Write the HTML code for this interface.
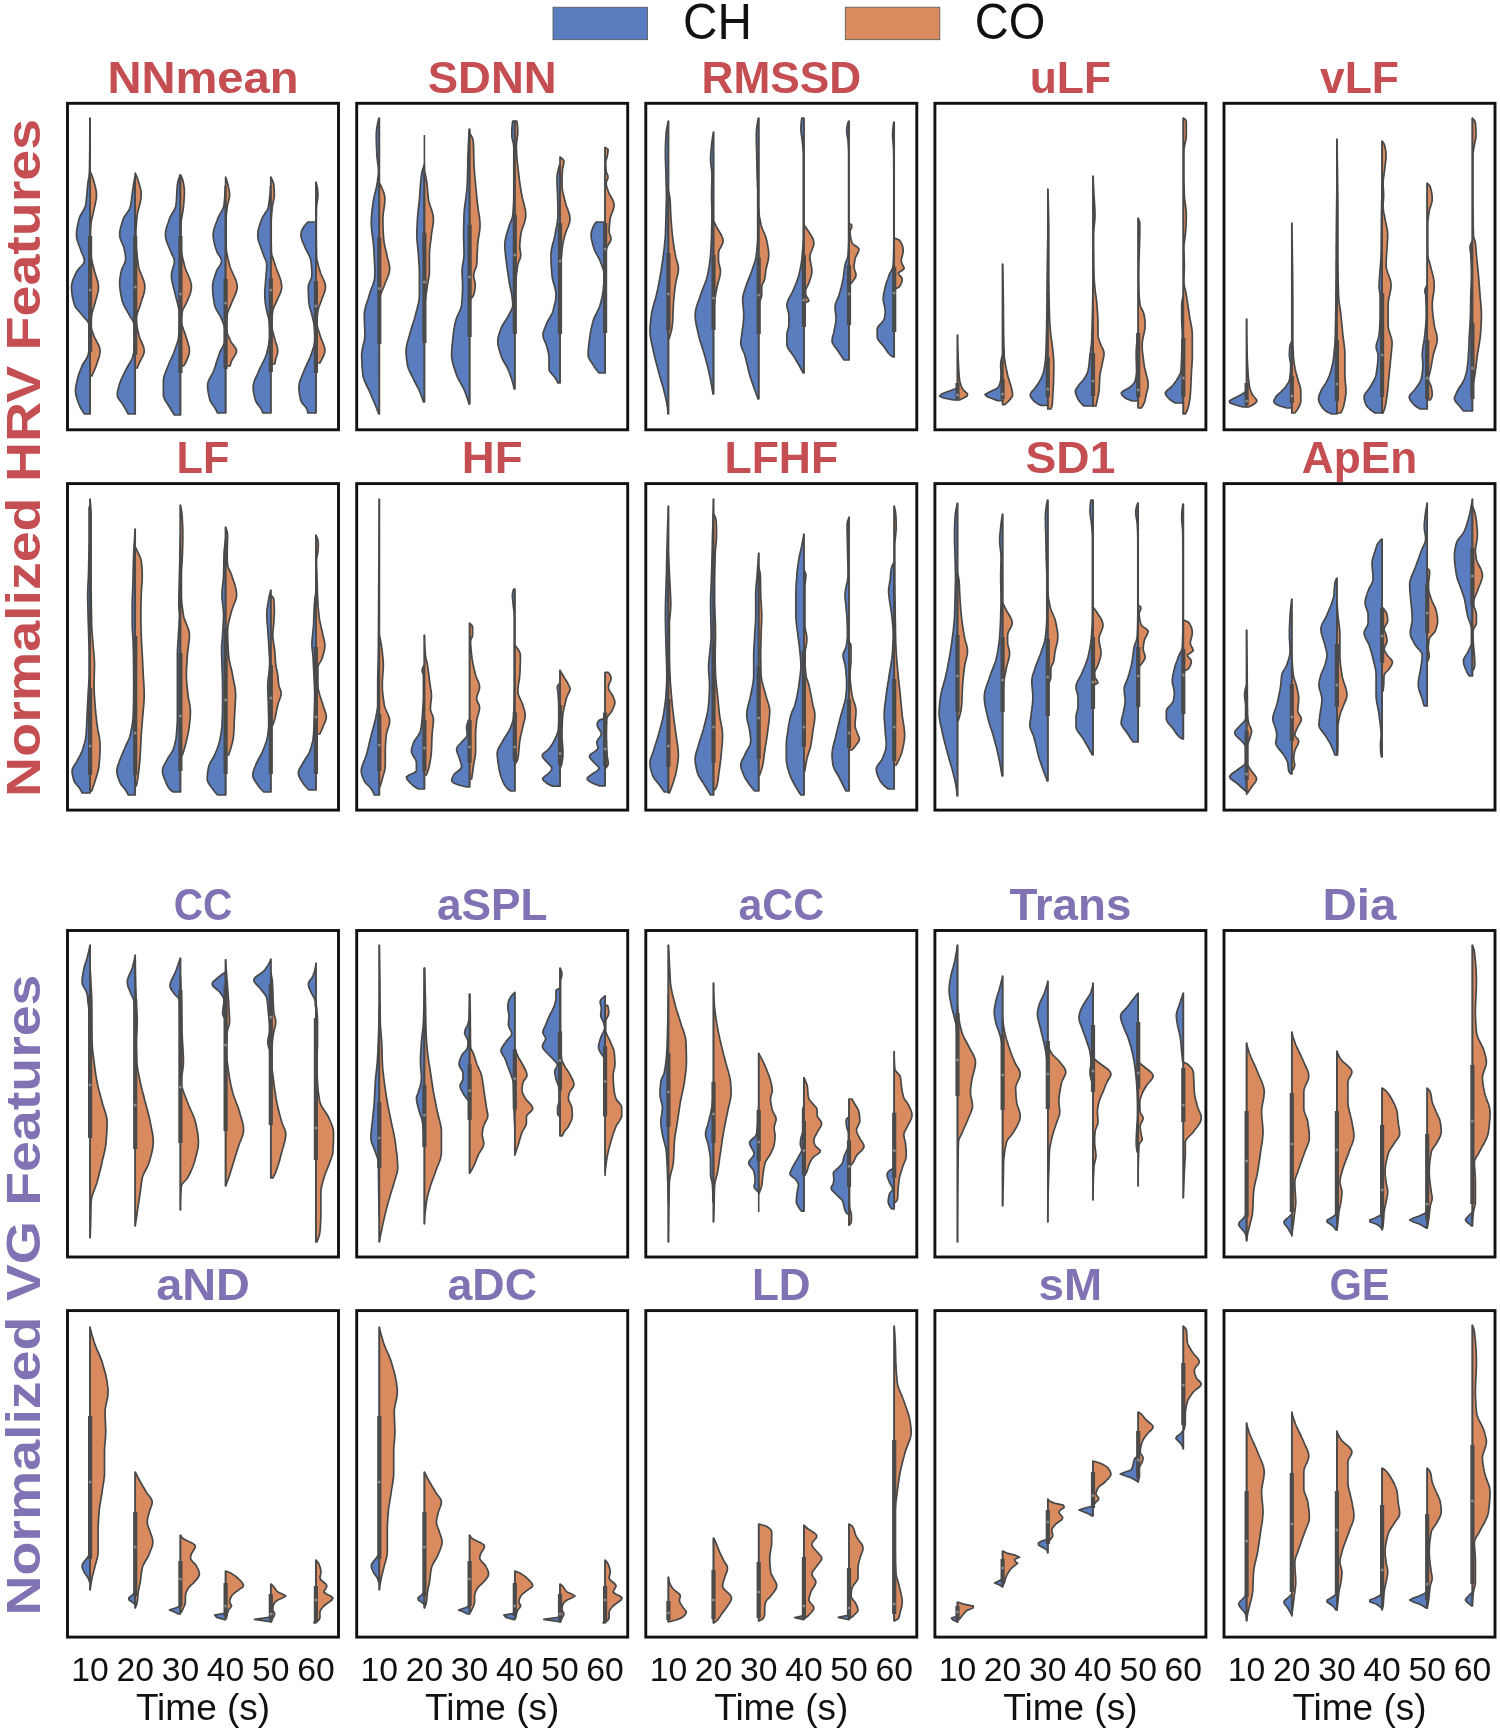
<!DOCTYPE html>
<html><head><meta charset="utf-8"><title>Violin plots</title>
<style>html,body{margin:0;padding:0;background:#fff;}svg{display:block;filter:blur(0.45px);}
text{font-family:"Liberation Sans",sans-serif;}
path{stroke:#474747;stroke-width:1.7;stroke-linejoin:round;}</style></head>
<body>
<svg width="1500" height="1728" viewBox="0 0 1500 1728">
<rect width="1500" height="1728" fill="#fff"/>
<rect x="553" y="7.2" width="94.5" height="32.5" fill="#597dbf" stroke="#555" stroke-width="0.8"/>
<rect x="845.3" y="7.2" width="94.5" height="32.5" fill="#d98b5f" stroke="#555" stroke-width="0.8"/>
<text x="683" y="38.8" font-size="49.3" textLength="68.9" lengthAdjust="spacingAndGlyphs" fill="#111">CH</text>
<text x="974.8" y="38.8" font-size="49.3" textLength="70.6" lengthAdjust="spacingAndGlyphs" fill="#111">CO</text>
<text x="203" y="92.8" font-size="44.3" font-weight="bold" text-anchor="middle" textLength="191.2" lengthAdjust="spacingAndGlyphs" fill="#c44e52">NNmean</text>
<path d="M90.1,118L89.9,118 89.9,120 89.9,122 89.9,124 89.9,126 89.9,128 89.9,130 89.9,132 89.9,134 89.8,136 89.8,138 89.8,140 89.8,142 89.8,144 89.8,146 89.8,148 89.8,150 89.7,152 89.7,154 89.7,156 89.7,158 89.6,160 89.6,162 89.6,164 89.6,166 89.5,168 89.5,170 89.4,172 89.3,174 89.1,176 88.8,178 88.4,180 88.1,182 87.8,184 87.6,186 87.4,188 87.2,190 87.1,192 86.9,194 86.7,196 86.6,198 86.4,200 86.1,202 85.8,204 85.5,206 84.7,208 83.7,210 82.5,212 81.3,214 80.2,216 79.4,218 78.8,220 78.4,222 77.9,224 77.5,226 77.1,228 76.8,230 76.6,232 76.5,234 76.5,236 76.8,238 77.2,240 77.8,242 78.5,244 79.3,246 80,248 80.8,250 81.4,252 82.3,254 83.2,256 83.9,258 84.4,260 84.3,262 83.2,264 81.4,266 79.4,268 77.7,270 76.6,272 75.6,274 74.6,276 73.7,278 72.9,280 72.3,282 71.8,284 71.5,286 71.5,288 71.6,290 71.8,292 72,294 72.3,296 72.7,298 73.2,300 73.7,302 74.2,304 74.9,306 76.1,308 77.7,310 79.6,312 81.3,314 82.9,316 84.6,318 86.4,320 88,322 88.9,324 89.1,326 89.2,328 89.3,330 89.3,332 89.4,334 89.4,336 89.4,338 89.5,340 89.5,342 89.5,344 89.5,346 89.3,348 89.1,350 88.7,352 88.3,354 87.8,356 86.8,358 85.6,360 84.2,362 83,364 82,366 81.2,368 80.4,370 79.6,372 78.9,374 78.3,376 77.7,378 77.3,380 76.8,382 76.3,384 76,386 75.7,388 75.5,390 75.5,392 75.8,394 76.2,396 76.8,398 77.4,400 78.1,402 78.9,404 79.7,406 80.7,408 81.9,410 83.1,412 84.5,414L90.1,414Z" fill="#597dbf"/>
<path d="M90.1,171L90.1,171 90.9,173 91.7,175 92.5,177 93.1,179 93.7,181 94.3,183.1 94.8,185.1 95.4,187.1 95.8,189.1 96.2,191.1 96.4,193.1 96.5,195.1 96.4,197.1 96.2,199.1 95.8,201.1 95.4,203.2 95,205.2 94.5,207.2 94.1,209.2 93.6,211.2 93.2,213.2 92.7,215.2 92.2,217.2 91.7,219.2 91.3,221.2 91.1,223.3 90.9,225.3 90.8,227.3 90.6,229.3 90.6,231.3 90.5,233.3 90.5,235.3 90.5,237.3 90.5,239.3 90.6,241.3 90.6,243.4 90.7,245.4 90.7,247.4 90.8,249.4 90.9,251.4 91,253.4 91.1,255.4 91.3,257.4 91.6,259.4 92.1,261.4 92.5,263.5 93.1,265.5 93.6,267.5 94.1,269.5 94.6,271.5 95.2,273.5 95.8,275.5 96.5,277.5 97.1,279.5 97.7,281.5 98.1,283.5 98.4,285.6 98.5,287.6 98.3,289.6 98,291.6 97.6,293.6 97.1,295.6 96.6,297.6 96,299.6 95.4,301.6 94.9,303.6 94.3,305.7 93.7,307.7 93,309.7 92.4,311.7 91.9,313.7 91.6,315.7 91.3,317.7 91,319.7 90.8,321.7 90.7,323.7 90.7,325.8 91.1,327.8 91.7,329.8 92.5,331.8 93.2,333.8 94,335.8 94.9,337.8 95.9,339.8 96.9,341.8 98,343.8 98.9,345.9 99.6,347.9 100,349.9 100.1,351.9 99.8,353.9 99.4,355.9 98.8,357.9 98.1,359.9 97.4,361.9 96.8,363.9 96.1,366 95.3,368 94.5,370 93.6,372 92.7,374 91.7,376L90.1,376Z" fill="#d98b5f"/>
<line x1="90.1" y1="118" x2="90.1" y2="414" stroke="#4a4a4a" stroke-width="1.6"/>
<line x1="90.1" y1="236" x2="90.1" y2="352" stroke="#4a4a4a" stroke-width="4.2"/>
<circle cx="90.1" cy="290" r="1.5" fill="#8a8a8a"/>
<path d="M135.2,177L134.8,177 134.5,179 134.2,181 133.8,183 133.5,185 133.2,187 132.8,189.1 132.6,191.1 132.3,193.1 132.1,195.1 131.8,197.1 131.6,199.1 131.3,201.1 131,203.1 130.7,205.1 130.2,207.1 129.4,209.1 128.2,211.1 126.8,213.2 125.3,215.2 124.1,217.2 123.2,219.2 122.5,221.2 121.9,223.2 121.3,225.2 120.7,227.2 120.3,229.2 119.9,231.2 119.7,233.2 119.7,235.2 119.9,237.3 120.5,239.3 121.3,241.3 122.2,243.3 123.1,245.3 123.8,247.3 124.3,249.3 124.7,251.3 125.1,253.3 125.4,255.3 125.6,257.3 125.6,259.3 125.3,261.4 124.5,263.4 123.6,265.4 122.6,267.4 121.7,269.4 121.2,271.4 120.8,273.4 120.4,275.4 120.1,277.4 119.8,279.4 119.7,281.4 119.7,283.4 119.7,285.5 119.9,287.5 120.1,289.5 120.4,291.5 120.7,293.5 121.1,295.5 121.5,297.5 121.9,299.5 122.4,301.5 123.1,303.5 124,305.5 125,307.6 126.2,309.6 127.4,311.6 128.5,313.6 129.6,315.6 130.8,317.6 132.1,319.6 133.2,321.6 134,323.6 134.3,325.6 134.4,327.6 134.4,329.6 134.5,331.7 134.5,333.7 134.6,335.7 134.6,337.7 134.6,339.7 134.6,341.7 134.6,343.7 134.6,345.7 134.5,347.7 134.3,349.7 133.9,351.7 133.5,353.7 133.1,355.8 132.4,357.8 131.5,359.8 130.4,361.8 129.3,363.8 128.1,365.8 126.9,367.8 125.8,369.8 124.9,371.8 123.9,373.8 122.9,375.8 122,377.8 121.1,379.9 120.3,381.9 119.6,383.9 119,385.9 118.5,387.9 117.9,389.9 117.5,391.9 117.3,393.9 117.3,395.9 118.1,397.9 119.5,399.9 121.1,401.9 122.6,404 123.8,406 124.9,408 126.1,410 127.2,412 128.2,414L135.2,414Z" fill="#597dbf"/>
<path d="M135.2,173L135.2,173 136.1,175 137,177 137.7,179 138.3,181 138.9,183.1 139.5,185.1 140.1,187.1 140.6,189.1 140.9,191.1 141.2,193.1 141.2,195.1 141.1,197.1 140.9,199.1 140.5,201.1 140,203.2 139.5,205.2 138.9,207.2 138.4,209.2 137.9,211.2 137.5,213.2 137.2,215.2 137,217.2 136.8,219.2 136.6,221.2 136.4,223.3 136.3,225.3 136.1,227.3 136,229.3 135.9,231.3 135.9,233.3 135.9,235.3 135.9,237.3 135.9,239.3 136,241.4 136.1,243.4 136.2,245.4 136.3,247.4 136.5,249.4 136.7,251.4 136.9,253.4 137.1,255.4 137.3,257.4 137.6,259.4 137.8,261.5 138.1,263.5 138.3,265.5 138.7,267.5 139.3,269.5 140.1,271.5 140.9,273.5 141.7,275.5 142.5,277.5 143.3,279.5 144,281.6 144.5,283.6 144.8,285.6 144.8,287.6 144.7,289.6 144.3,291.6 143.9,293.6 143.3,295.6 142.6,297.6 141.9,299.6 141.3,301.7 140.6,303.7 140.1,305.7 139.4,307.7 138.6,309.7 137.9,311.7 137.2,313.7 136.6,315.7 136.3,317.7 136.3,319.8 136.4,321.8 136.6,323.8 136.9,325.8 137.3,327.8 137.7,329.8 138.1,331.8 138.6,333.8 139.1,335.8 139.7,337.8 140.6,339.9 141.5,341.9 142.4,343.9 143.2,345.9 143.8,347.9 144.2,349.9 144.2,351.9 143.7,353.9 142.9,355.9 141.9,357.9 140.7,360 139.7,362 138.9,364 138,366 137.2,368L135.2,368Z" fill="#d98b5f"/>
<line x1="135.2" y1="177" x2="135.2" y2="414" stroke="#4a4a4a" stroke-width="1.6"/>
<line x1="135.2" y1="236" x2="135.2" y2="355" stroke="#4a4a4a" stroke-width="4.2"/>
<circle cx="135.2" cy="287" r="1.5" fill="#8a8a8a"/>
<path d="M180.4,175L180,175 179.4,177 178.7,179 178.2,181 177.7,183 177.4,185 177.2,187 177.1,189 176.9,191 176.8,193 176.7,195 176.7,197 176.5,199 176.4,201 176.2,203 176,205 175.5,207 174.7,209 173.7,211 172.5,213 171.3,215 170.2,217 169.4,219 168.7,221 168.1,223 167.4,225 166.8,227 166.2,229 165.8,231 165.5,233 165.4,235 165.6,237 165.9,239 166.5,241 167.2,243 168,245 168.8,247 169.7,249 170.4,251 171.3,253 172.3,255 173.3,257 174.1,259 174.4,261 174.3,263 173.8,265 173.2,267 172.6,269 172,271 171.6,273 171.4,275 171.5,277 171.7,279 172,281 172.4,283 172.9,285 173.4,287 173.9,289 174.4,291 174.9,293 175.4,295 175.9,297 176.4,299 177,301 177.5,303 178,305 178.4,307 178.8,309 179.1,311 179.3,313 179.4,315 179.4,317 179.4,319 179.4,321 179.3,323 179.3,325 179.2,327 179.1,329 179,331 178.9,333 178.8,335 178.6,337 178.3,339 177.8,341 177.2,343 176.5,345 175.8,347 175.1,349 174.4,351 173.7,353 172.8,355 171.9,357 171,359 170.1,361 169.2,363 168.4,365 167.6,367 166.8,369 166,371 165.2,373 164.5,375 163.9,377 163.6,379 163.4,381 163.4,383 163.4,385 163.4,387 163.4,389 163.4,391 163.4,393 163.4,395 163.7,397 164.5,399 165.6,401 166.9,403 168.2,405 169.4,407 170.6,409 171.8,411 173.1,413 174.4,415L180.4,415Z" fill="#597dbf"/>
<path d="M180.4,175L180.4,175 181.6,177 182.4,179 183,181 183.4,183 183.8,185.1 184.1,187.1 184.3,189.1 184.4,191.1 184.4,193.1 184.3,195.1 184.2,197.1 184.1,199.1 183.9,201.1 183.8,203.1 183.6,205.2 183.4,207.2 183.2,209.2 182.9,211.2 182.5,213.2 182.2,215.2 181.8,217.2 181.5,219.2 181.2,221.2 181.1,223.3 181,225.3 181,227.3 181,229.3 181,231.3 181,233.3 181,235.3 181,237.3 181,239.3 181,241.3 181,243.4 181,245.4 181,247.4 181.1,249.4 181.3,251.4 181.7,253.4 182.1,255.4 182.5,257.4 183,259.4 183.5,261.5 184,263.5 184.5,265.5 185.1,267.5 185.8,269.5 186.6,271.5 187.5,273.5 188.4,275.5 189.2,277.5 189.9,279.5 190.6,281.6 191.1,283.6 191.4,285.6 191.4,287.6 191.2,289.6 190.8,291.6 190.2,293.6 189.5,295.6 188.7,297.6 187.8,299.7 187,301.7 186.1,303.7 185,305.7 183.8,307.7 182.8,309.7 182.3,311.7 182,313.7 181.7,315.7 181.5,317.7 181.4,319.8 181.4,321.8 181.7,323.8 182.2,325.8 182.9,327.8 183.6,329.8 184.4,331.8 185.1,333.8 185.7,335.8 186.3,337.9 186.9,339.9 187.6,341.9 188.2,343.9 188.8,345.9 189.2,347.9 189.4,349.9 189.4,351.9 189.1,353.9 188.5,355.9 187.7,358 186.9,360 185.9,362 184.9,364 183.4,366L180.4,366Z" fill="#d98b5f"/>
<line x1="180.4" y1="175" x2="180.4" y2="415" stroke="#4a4a4a" stroke-width="1.6"/>
<line x1="180.4" y1="236" x2="180.4" y2="373" stroke="#4a4a4a" stroke-width="4.2"/>
<circle cx="180.4" cy="294" r="1.5" fill="#8a8a8a"/>
<path d="M225.6,186L225.2,186 225.2,188 225.1,190 225,192 224.9,194 224.8,196 224.7,198.1 224.5,200.1 224.3,202.1 224.1,204.1 223.8,206.1 223.1,208.1 222.2,210.1 221.1,212.1 220,214.1 218.9,216.1 217.9,218.1 217.2,220.2 216.4,222.2 215.7,224.2 215,226.2 214.3,228.2 213.8,230.2 213.4,232.2 213.2,234.2 213.2,236.2 213.4,238.2 213.7,240.2 214.1,242.2 214.6,244.3 215.1,246.3 215.7,248.3 216.4,250.3 217.1,252.3 218.3,254.3 219.7,256.3 220.9,258.3 221.5,260.3 221.4,262.3 220.5,264.3 219.3,266.4 217.9,268.4 216.8,270.4 216.1,272.4 215.4,274.4 214.7,276.4 214.1,278.4 213.5,280.4 213.1,282.4 212.7,284.4 212.6,286.4 212.6,288.5 212.7,290.5 212.8,292.5 213,294.5 213.2,296.5 213.5,298.5 213.8,300.5 214.1,302.5 214.5,304.5 215,306.5 215.8,308.5 216.9,310.5 218.1,312.6 219.3,314.6 220.5,316.6 221.4,318.6 222.2,320.6 223,322.6 223.8,324.6 224.3,326.6 224.6,328.6 224.6,330.6 224.6,332.6 224.6,334.7 224.6,336.7 224.6,338.7 224.6,340.7 224.4,342.7 223.7,344.7 222.8,346.7 221.7,348.7 220.6,350.7 219.7,352.7 219,354.7 218.3,356.8 217.6,358.8 217,360.8 216.3,362.8 215.7,364.8 215.1,366.8 214.4,368.8 213.7,370.8 212.8,372.8 211.7,374.8 210.6,376.8 209.5,378.8 208.5,380.9 207.9,382.9 207.6,384.9 207.6,386.9 207.8,388.9 208,390.9 208.3,392.9 208.7,394.9 209.1,396.9 209.6,398.9 210.3,400.9 211.5,403 212.9,405 214.3,407 215.6,409 216.6,411 217.6,413L225.6,413Z" fill="#597dbf"/>
<path d="M225.6,177L225.6,177 226.3,179 226.9,181 227.5,183 228,185 228.4,187.1 228.9,189.1 229.2,191.1 229.5,193.1 229.6,195.1 229.4,197.1 229,199.1 228.5,201.1 228,203.1 227.5,205.1 227.2,207.2 226.9,209.2 226.7,211.2 226.5,213.2 226.3,215.2 226.2,217.2 226.1,219.2 226,221.2 226,223.2 226,225.3 226,227.3 226,229.3 226,231.3 226,233.3 226,235.3 226.1,237.3 226.1,239.3 226.1,241.3 226.1,243.4 226.2,245.4 226.2,247.4 226.3,249.4 226.5,251.4 226.9,253.4 227.3,255.4 227.7,257.4 228.2,259.4 228.7,261.4 229.2,263.5 229.7,265.5 230.3,267.5 231.1,269.5 232,271.5 232.9,273.5 233.8,275.5 234.7,277.5 235.6,279.5 236.3,281.6 236.8,283.6 237.1,285.6 237.2,287.6 236.9,289.6 236.4,291.6 235.7,293.6 234.8,295.6 233.9,297.6 233,299.6 232.1,301.7 231.3,303.7 230.5,305.7 229.6,307.7 228.7,309.7 227.9,311.7 227.4,313.7 227.1,315.7 227,317.7 226.9,319.8 226.8,321.8 226.7,323.8 226.6,325.8 226.6,327.8 226.6,329.8 226.9,331.8 227.5,333.8 228.3,335.8 229.2,337.9 230.1,339.9 231,341.9 232.4,343.9 234,345.9 235.5,347.9 236.4,349.9 236.5,351.9 235.8,353.9 234.6,355.9 233.3,358 232,360 231.2,362 230.6,364 230,366L225.6,366Z" fill="#d98b5f"/>
<line x1="225.6" y1="186" x2="225.6" y2="413" stroke="#4a4a4a" stroke-width="1.6"/>
<line x1="225.6" y1="279" x2="225.6" y2="369" stroke="#4a4a4a" stroke-width="4.2"/>
<circle cx="225.6" cy="303" r="1.5" fill="#8a8a8a"/>
<path d="M270.8,186L270.4,186 270.3,188 270.3,190 270.2,192 270,194 269.8,196 269.6,198.1 269.4,200.1 269.1,202.1 268.8,204.1 268.5,206.1 268.1,208.1 267.2,210.1 265.9,212.1 264.5,214.1 263.2,216.1 262.1,218.1 261.3,220.2 260.6,222.2 259.9,224.2 259.3,226.2 258.7,228.2 258.3,230.2 257.9,232.2 257.8,234.2 257.8,236.2 258,238.2 258.4,240.2 259,242.2 259.7,244.3 260.4,246.3 261.1,248.3 261.8,250.3 262.5,252.3 263.2,254.3 264,256.3 264.9,258.3 265.7,260.3 266.4,262.3 266.7,264.3 266.7,266.4 266.6,268.4 266.5,270.4 266.3,272.4 266.1,274.4 266,276.4 265.8,278.4 265.6,280.4 265.5,282.4 265.3,284.4 265.2,286.4 265,288.5 264.9,290.5 264.8,292.5 264.8,294.5 264.8,296.5 264.9,298.5 265.1,300.5 265.3,302.5 265.6,304.5 266,306.5 266.3,308.5 266.7,310.5 267.1,312.6 267.6,314.6 268.2,316.6 268.8,318.6 269.1,320.6 269.3,322.6 269.4,324.6 269.5,326.6 269.6,328.6 269.7,330.6 269.7,332.6 269.7,334.7 269.7,336.7 269.6,338.7 269.3,340.7 269,342.7 268.7,344.7 268.2,346.7 267.8,348.7 267.3,350.7 266.8,352.7 266.3,354.7 265.5,356.8 264.7,358.8 263.7,360.8 262.7,362.8 261.7,364.8 260.6,366.8 259.7,368.8 258.8,370.8 258,372.8 257.1,374.8 256.1,376.8 255.2,378.8 254.4,380.9 253.8,382.9 253.3,384.9 253.2,386.9 253.2,388.9 253.4,390.9 253.7,392.9 254.1,394.9 254.6,396.9 255.1,398.9 255.7,400.9 256.7,403 258.2,405 259.8,407 261.2,409 262.1,411 262.8,413L270.8,413Z" fill="#597dbf"/>
<path d="M270.8,177L270.8,177 271.8,179 272.7,181 273.4,183 273.8,185 274,187.1 274.1,189.1 274.2,191.1 274.3,193.1 274.3,195.1 274.2,197.1 273.9,199.1 273.5,201.1 273,203.1 272.6,205.2 272.3,207.2 272.1,209.2 271.9,211.2 271.8,213.2 271.6,215.2 271.4,217.2 271.3,219.2 271.2,221.2 271.2,223.2 271.2,225.3 271.2,227.3 271.2,229.3 271.2,231.3 271.2,233.3 271.2,235.3 271.2,237.3 271.2,239.3 271.2,241.3 271.2,243.4 271.3,245.4 271.3,247.4 271.3,249.4 271.4,251.4 271.6,253.4 272,255.4 272.6,257.4 273.3,259.4 274,261.5 274.7,263.5 275.3,265.5 275.9,267.5 276.7,269.5 277.5,271.5 278.3,273.5 279.1,275.5 279.8,277.5 280.5,279.5 281,281.6 281.4,283.6 281.7,285.6 281.7,287.6 281.4,289.6 280.9,291.6 280.1,293.6 279.2,295.6 278.2,297.6 277.3,299.7 276.5,301.7 275.6,303.7 274.6,305.7 273.7,307.7 273,309.7 272.7,311.7 272.4,313.7 272.2,315.7 272,317.8 271.9,319.8 271.8,321.8 271.8,323.8 271.8,325.8 272,327.8 272.3,329.8 272.8,331.8 273.4,333.8 273.9,335.8 274.5,337.9 275,339.9 275.6,341.9 276.2,343.9 276.9,345.9 277.4,347.9 277.7,349.9 277.7,351.9 277.3,353.9 276.7,356 276,358 275.5,360 275.1,362 274.8,364L270.8,364Z" fill="#d98b5f"/>
<line x1="270.8" y1="186" x2="270.8" y2="413" stroke="#4a4a4a" stroke-width="1.6"/>
<line x1="270.8" y1="278" x2="270.8" y2="372" stroke="#4a4a4a" stroke-width="4.2"/>
<circle cx="270.8" cy="290" r="1.5" fill="#8a8a8a"/>
<path d="M315.9,222L307.9,222 306,224 304.4,226 303.1,228 302,230 301.3,232.1 301,234.1 301,236.1 301.4,238.1 302,240.1 302.8,242.1 303.7,244.1 304.6,246.1 305.4,248.1 306.3,250.1 307.4,252.2 308.4,254.2 309.4,256.2 310.2,258.2 310.8,260.2 311.1,262.2 311.3,264.2 311.5,266.2 311.6,268.2 311.8,270.3 311.9,272.3 311.9,274.3 311.8,276.3 311.3,278.3 310.4,280.3 309.5,282.3 308.8,284.3 308.3,286.3 308.3,288.3 308.3,290.4 308.4,292.4 308.5,294.4 308.5,296.4 308.6,298.4 308.8,300.4 308.9,302.4 309.1,304.4 309.5,306.4 310,308.5 310.6,310.5 311.3,312.5 311.8,314.5 312.3,316.5 312.7,318.5 313.2,320.5 313.7,322.5 314,324.5 314.3,326.5 314.4,328.6 314.6,330.6 314.7,332.6 314.8,334.6 314.9,336.6 314.9,338.6 314.8,340.6 314.6,342.6 314.2,344.6 313.7,346.7 313,348.7 312.4,350.7 311.7,352.7 311,354.7 310.3,356.7 309.5,358.7 308.6,360.7 307.6,362.7 306.7,364.7 305.7,366.8 304.8,368.8 304,370.8 303.2,372.8 302.4,374.8 301.6,376.8 300.8,378.8 300,380.8 299.5,382.8 299.1,384.9 298.9,386.9 299,388.9 299.1,390.9 299.3,392.9 299.6,394.9 300,396.9 300.4,398.9 300.9,400.9 302,402.9 303.8,405 305.6,407 306.9,409 307.5,411 307.9,413L315.9,413Z" fill="#597dbf"/>
<path d="M315.9,182L315.9,182 316.5,184 317,186 317.4,188 317.6,190 317.8,192.1 317.9,194.1 317.9,196.1 317.7,198.1 317.4,200.1 317.1,202.1 316.8,204.1 316.6,206.1 316.5,208.1 316.4,210.2 316.4,212.2 316.4,214.2 316.4,216.2 316.3,218.2 316.3,220.2 316.3,222.2 316.3,224.2 316.3,226.2 316.3,228.3 316.3,230.3 316.3,232.3 316.3,234.3 316.3,236.3 316.4,238.3 316.4,240.3 316.4,242.3 316.4,244.3 316.4,246.4 316.4,248.4 316.5,250.4 316.5,252.4 316.5,254.4 316.6,256.4 316.8,258.4 317.1,260.4 317.6,262.4 318.1,264.5 318.6,266.5 319.2,268.5 319.8,270.5 320.4,272.5 321.2,274.5 322.1,276.5 323,278.5 323.9,280.5 324.7,282.6 325.3,284.6 325.5,286.6 325.4,288.6 325,290.6 324.3,292.6 323.6,294.6 322.8,296.6 322,298.6 321.3,300.7 320.6,302.7 319.8,304.7 319,306.7 318.4,308.7 318,310.7 317.7,312.7 317.5,314.7 317.2,316.7 317.1,318.8 317,320.8 316.9,322.8 317,324.8 317.4,326.8 317.9,328.8 318.6,330.8 319.3,332.8 319.9,334.8 320.5,336.9 321.3,338.9 322.1,340.9 322.9,342.9 323.7,344.9 324.3,346.9 324.8,348.9 324.9,350.9 324.6,352.9 323.9,355 322.9,357 321.9,359 321,361 319.9,363L315.9,363Z" fill="#d98b5f"/>
<line x1="315.9" y1="182" x2="315.9" y2="413" stroke="#4a4a4a" stroke-width="1.6"/>
<line x1="315.9" y1="281" x2="315.9" y2="373" stroke="#4a4a4a" stroke-width="4.2"/>
<circle cx="315.9" cy="306" r="1.5" fill="#8a8a8a"/>
<rect x="67.5" y="103.3" width="271" height="326.5" fill="none" stroke="#111" stroke-width="2.9"/>
<text x="492.2" y="92.8" font-size="44.3" font-weight="bold" text-anchor="middle" textLength="129" lengthAdjust="spacingAndGlyphs" fill="#c44e52">SDNN</text>
<path d="M379.3,118L378.9,118 378.4,120 378,122 377.5,124 377.2,126 376.8,128 376.6,130 376.4,132 376.3,134 376.3,136 376.3,138 376.3,140 376.4,142 376.4,144 376.5,146 376.6,148 376.7,150 376.7,152 376.8,154 376.9,156 377.1,158 377.4,160 377.6,162 377.9,164 378.2,166 378.4,168 378.5,170 378.5,172 378.4,174 378.2,176 377.9,178 377.7,180 377.4,182 377,184 376.7,186 376.3,188 375.8,190 375.3,192 374.7,194 374.3,196 373.8,198 373.5,200 373.2,202 373,204 372.7,206 372.4,208 372.2,210 371.9,212 371.7,214 371.6,216 371.4,218 371.3,220 371.3,222 371.3,224 371.4,226 371.5,228 371.7,230 371.9,232 372.2,234 372.4,236 372.7,238 373,240 373.2,242 373.4,244 373.6,246 373.7,248 373.9,250 374,252 374.1,254 374.2,256 374.3,258 374.4,260 374.5,262 374.6,264 374.7,266 374.8,268 374.8,270 374.9,272 374.9,274 374.9,276 374.6,278 374.3,280 373.7,282 373.1,284 372.4,286 371.6,288 370.9,290 370.2,292 369.6,294 369,296 368.4,298 367.8,300 367.1,302 366.4,304 365.8,306 365.3,308 364.8,310 364.5,312 364.3,314 364.3,316 364.3,318 364.4,320 364.5,322 364.5,324 364.6,326 364.7,328 364.8,330 364.8,332 364.9,334 364.9,336 364.7,338 364.4,340 364,342 363.5,344 363,346 362.6,348 362.2,350 361.9,352 361.7,354 361.7,356 361.7,358 361.8,360 361.9,362 362,364 362.1,366 362.2,368 362.4,370 362.6,372 362.8,374 363,376 363.5,378 364.2,380 365,382 365.9,384 366.9,386 367.9,388 368.9,390 369.7,392 370.6,394 371.4,396 372.3,398 373.2,400 374,402 374.9,404 375.7,406 376.5,408 377.2,410 378,412 378.7,414L379.3,414Z" fill="#597dbf"/>
<path d="M379.3,183L379.3,183 380.4,185 381.4,187 382.3,189 383.2,191 383.9,193 384.4,195 384.8,197 384.9,199 384.8,201 384.7,203 384.5,205 384.2,207 383.9,209 383.6,211 383.3,213 383.1,215 382.9,217 382.9,219 382.9,221 382.9,223 383,225 383,227 383.1,229 383.2,231 383.3,233 383.4,235 383.6,237 383.7,239 383.9,241 384.2,243 384.6,245 385,247 385.5,249 386,251 386.5,253 386.9,255 387.3,257 387.8,259 388.4,261 388.9,263 389.3,265 389.6,267 389.7,269 389.5,271 389.1,273 388.5,275 387.7,277 386.9,279 386.1,281 385.3,283 384.5,285 383.8,287 382.9,289 382.1,291 381.2,293 380.3,295L379.3,295Z" fill="#d98b5f"/>
<line x1="379.3" y1="118" x2="379.3" y2="414" stroke="#4a4a4a" stroke-width="1.6"/>
<line x1="379.3" y1="237.4" x2="379.3" y2="344" stroke="#4a4a4a" stroke-width="4.2"/>
<circle cx="379.3" cy="288.6" r="1.5" fill="#8a8a8a"/>
<path d="M424.4,164L424.4,164 423.8,166 423.1,168 422.5,170 422,172 421.6,174 421.3,176 421.1,178 420.9,180 420.7,182 420.5,184 420.4,186 420.2,188 420.1,190 420,192 419.8,194 419.7,196 419.5,198 419.4,200 419.2,202 418.9,204 418.7,206 418.5,208 418.2,210 418,212 417.8,214 417.7,216 417.5,218 417.4,220 417.3,222 417.2,224 417.1,226 417,228 416.9,230 416.9,232 416.9,234 416.9,236 416.9,238 417,240 417.2,242 417.4,244 417.6,246 417.8,248 418,250 418.2,252 418.4,254 418.5,256 418.6,258 418.8,260 418.9,262 419,264 419.2,266 419.3,268 419.4,270 419.4,272 419.4,274 419.4,276 419.4,278 419.4,280 419.4,282 419.4,284 419.4,286 419.4,288 419.4,290 419.4,292 419.4,294 419.4,296 419.3,298 419.1,300 418.7,302 418.3,304 417.8,306 417.3,308 416.8,310 416.2,312 415.7,314 415.2,316 414.7,318 414.1,320 413.4,322 412.8,324 412.1,326 411.5,328 410.9,330 410.3,332 409.7,334 409.2,336 408.6,338 408.1,340 407.5,342 407,344 406.6,346 406.3,348 406.1,350 406.1,352 406.1,354 406.3,356 406.5,358 406.7,360 407,362 407.3,364 407.6,366 408.2,368 409,370 409.9,372 410.9,374 412,376 413,378 413.9,380 414.9,382 416,384 417,386 418.1,388 419,390 419.9,392 420.7,394 421.4,396 422.2,398 422.8,400 423.4,402L424.4,402Z" fill="#597dbf"/>
<path d="M424.4,171L424.4,171 424.9,173 425.4,175 425.8,177 426.2,179 426.6,181 426.8,183 427.1,185 427.3,187 427.5,189 427.6,191 427.8,193 428,195 428.2,197 428.4,199 428.8,201 429.3,203 429.9,205 430.6,207 431.3,209 432,211 432.5,213 433,215 433.3,217 433.4,219 433.4,221 433.2,223 433,225 432.7,227 432.3,229 432,231 431.7,233 431.4,235 431.2,237 431,239 430.7,241 430.4,243 430.2,245 429.9,247 429.7,249 429.6,251 429.5,253 429.4,255 429.4,257 429.4,259 429.4,261 429.4,263 429.4,265 429.4,267 429.4,269 429.4,271 429.4,273 429.2,275 428.9,277 428.5,279 428.1,281 427.8,283 427.4,285 427.2,287 426.9,289 426.6,291 426.3,293 426,295 425.7,297 425.4,299 425.1,301L424.4,301Z" fill="#d98b5f"/>
<line x1="424.4" y1="135" x2="424.4" y2="402" stroke="#4a4a4a" stroke-width="1.6"/>
<line x1="424.4" y1="232.6" x2="424.4" y2="343" stroke="#4a4a4a" stroke-width="4.2"/>
<circle cx="424.4" cy="282" r="1.5" fill="#8a8a8a"/>
<path d="M469.6,129L469.2,129 469.1,131 469,133 468.9,135 468.8,137 468.7,139 468.6,141 468.5,143.1 468.4,145.1 468.3,147.1 468.2,149.1 468.2,151.1 468.1,153.1 468,155.1 467.9,157.1 467.9,159.1 467.8,161.1 467.8,163.1 467.8,165.1 467.7,167.1 467.7,169.1 467.6,171.2 467.6,173.2 467.5,175.2 467.5,177.2 467.4,179.2 467.4,181.2 467.3,183.2 467.2,185.2 467.1,187.2 466.9,189.2 466.7,191.2 466.5,193.2 466.2,195.2 466,197.2 465.7,199.3 465.4,201.3 465.1,203.3 464.9,205.3 464.6,207.3 464.4,209.3 464.2,211.3 464.1,213.3 464,215.3 463.9,217.3 463.9,219.3 463.8,221.3 463.8,223.3 463.7,225.4 463.7,227.4 463.7,229.4 463.6,231.4 463.6,233.4 463.6,235.4 463.6,237.4 463.7,239.4 463.7,241.4 463.8,243.4 463.8,245.4 463.9,247.4 463.9,249.4 464,251.4 464,253.5 464,255.5 463.9,257.5 463.6,259.5 463.3,261.5 462.9,263.5 462.6,265.5 462.3,267.5 462.1,269.5 462,271.5 462.1,273.5 462.2,275.5 462.3,277.5 462.4,279.5 462.5,281.6 462.6,283.6 462.6,285.6 462.6,287.6 462.6,289.6 462.5,291.6 462.4,293.6 462.3,295.6 462.2,297.6 462.1,299.6 461.9,301.6 461.7,303.6 461.5,305.6 461.1,307.6 460.4,309.7 459.5,311.7 458.6,313.7 457.6,315.7 456.7,317.7 456,319.7 455.5,321.7 455,323.7 454.6,325.7 454.3,327.7 453.9,329.7 453.6,331.7 453.4,333.7 453.1,335.8 452.9,337.8 452.7,339.8 452.5,341.8 452.3,343.8 452.1,345.8 451.9,347.8 451.8,349.8 451.7,351.8 451.6,353.8 451.6,355.8 451.8,357.8 452.1,359.8 452.5,361.8 453,363.9 453.5,365.9 454.2,367.9 454.8,369.9 455.5,371.9 456.2,373.9 456.9,375.9 457.8,377.9 458.8,379.9 459.9,381.9 461,383.9 462.1,385.9 463.2,387.9 464.2,389.9 465,392 465.8,394 466.5,396 467.2,398 467.9,400 468.5,402 469,404L469.6,404Z" fill="#597dbf"/>
<path d="M469.6,133L469.6,133 470.8,135 471.9,137 472.8,139 473.2,141 473.4,143.1 473.5,145.1 473.5,147.1 473.6,149.1 473.7,151.1 473.7,153.1 473.7,155.1 473.8,157.1 473.8,159.2 473.9,161.2 473.9,163.2 474,165.2 474.1,167.2 474.3,169.2 474.4,171.2 474.6,173.2 474.7,175.3 474.9,177.3 475.1,179.3 475.3,181.3 475.5,183.3 475.6,185.3 475.8,187.3 476,189.3 476.2,191.4 476.4,193.4 476.6,195.4 476.8,197.4 477,199.4 477.2,201.4 477.4,203.4 477.7,205.4 477.9,207.5 478.2,209.5 478.5,211.5 478.9,213.5 479.2,215.5 479.5,217.5 479.7,219.5 479.9,221.5 480,223.5 480,225.6 479.9,227.6 479.8,229.6 479.5,231.6 479.2,233.6 478.9,235.6 478.6,237.6 478.2,239.6 478,241.7 477.7,243.7 477.6,245.7 477.5,247.7 477.4,249.7 477.3,251.7 477.2,253.7 477.1,255.7 477.1,257.8 477,259.8 476.9,261.8 476.7,263.8 476.5,265.8 475.9,267.8 475.1,269.8 474.3,271.8 473.7,273.9 473.7,275.9 473.9,277.9 474.4,279.9 474.9,281.9 475.2,283.9 475.2,285.9 475.1,287.9 474.8,290 474.4,292 473.9,294 473.2,296 471.6,298L469.6,298Z" fill="#d98b5f"/>
<line x1="469.6" y1="129" x2="469.6" y2="404" stroke="#4a4a4a" stroke-width="1.6"/>
<line x1="469.6" y1="224.6" x2="469.6" y2="337" stroke="#4a4a4a" stroke-width="4.2"/>
<circle cx="469.6" cy="277" r="1.5" fill="#8a8a8a"/>
<path d="M514.8,121L512.8,121 512.4,123 512.2,125 512,127 511.9,129 511.8,131 511.8,133 511.8,135 511.9,137 512.3,139 512.8,141 513.3,143 513.6,145 513.8,147 513.8,149 513.8,151 513.8,153 513.8,155 513.8,157 513.8,159 513.8,161 513.8,163 513.8,165 513.8,167 513.8,169 513.8,171 513.8,173 513.8,175 513.8,177 513.8,179 513.8,181 513.8,183 513.8,185 513.8,187 513.8,189 513.8,191 513.8,193 513.8,195 513.8,197 513.7,199 513.7,201 513.6,203 513.5,205 513.4,207 513.3,209 513.1,211 513,213 512.8,215 512.4,217 511.8,219 511,221 510.2,223 509.4,225 508.8,227 508.2,229 507.6,231 507,233 506.4,235 505.9,237 505.5,239 505.1,241 504.9,243 504.8,245 504.8,247 504.9,249 505.1,251 505.3,253 505.5,255 505.7,257 506,259 506.3,261 506.5,263 506.8,265 507,267 507.3,269 507.6,271 507.9,273 508.1,275 508.5,277 508.8,279 509.1,281 509.4,283 509.8,285 510.2,287 510.6,289 511.1,291 511.5,293 511.8,295 512.1,297 512.3,299 512.6,301 512.7,303 512.8,305 512.5,307 511.8,309 510.9,311 509.8,313 508.8,315 507.7,317 506.5,319 505.2,321 503.9,323 502.7,325 501.6,327 500.8,329 500.1,331 499.4,333 498.8,335 498.3,337 497.9,339 497.8,341 497.9,343 498.1,345 498.5,347 499,349 499.6,351 500.2,353 500.8,355 501.5,357 502.4,359 503.5,361 504.6,363 505.8,365 506.9,367 507.9,369 508.8,371 509.5,373 510.2,375 510.9,377 511.6,379 512.2,381 512.8,383 513.3,385 513.8,387 514.2,389L514.8,389Z" fill="#597dbf"/>
<path d="M514.8,121L516.8,121 517.1,123 517.4,125 517.6,127 517.7,129 517.8,131 517.7,133 517.6,135 517.3,137 517.1,139 516.8,141 516.6,143 516.4,145 516.4,147 516.4,149 516.5,151 516.6,153 516.7,155 516.8,157 517,159 517.2,161 517.4,163 517.6,165 517.9,167 518.1,169 518.3,171 518.6,173 518.8,175 519,177 519.3,179 519.5,181 519.8,183 520.1,185 520.4,187 520.8,189 521.1,191 521.4,193 521.8,195 522.2,197 522.6,199 523.2,201 523.7,203 524.2,205 524.7,207 525.1,209 525.5,211 525.7,213 525.8,215 525.7,217 525.3,219 524.9,221 524.3,223 523.6,225 522.9,227 522.2,229 521.6,231 521.1,233 520.8,235 520.5,237 520.3,239 520.1,241 519.9,243 519.8,245 519.8,247 519.9,249 520.3,251 520.6,253 520.8,255 520.5,257 519.9,259 519.1,261 518.3,263 517.8,265 517.4,267 517.1,269 516.9,271 516.6,273 516.4,275 516.2,277 515.9,279 515.7,281 515.6,283 515.4,285L514.8,285Z" fill="#d98b5f"/>
<line x1="514.8" y1="121" x2="514.8" y2="389" stroke="#4a4a4a" stroke-width="1.6"/>
<line x1="514.8" y1="214.6" x2="514.8" y2="334" stroke="#4a4a4a" stroke-width="4.2"/>
<circle cx="514.8" cy="255" r="1.5" fill="#8a8a8a"/>
<path d="M560,165L559.6,165 559,167 558.4,169 558,171 557.5,173 557.2,175 557,177 557,179 557,181 557,183 557.1,185 557.2,187 557.3,189 557.4,191 557.5,193 557.6,195 557.6,197 557.7,199 557.7,201 557.8,203 557.8,205 557.9,207 557.9,209 557.9,211 557.9,213 558,215 557.9,217 557.7,219 557.5,221 557.2,223 556.9,225 556.5,227 556.1,229 555.7,231 555.3,233 555,235 554.6,237 554.1,239 553.6,241 553,243 552.5,245 552,247 551.6,249 551.3,251 551,253 551,255 551,257 551,259 551.1,261 551.1,263 551.2,265 551.4,267 551.5,269 551.6,271 551.8,273 552,275 552.2,277 552.6,279 553,281 553.6,283 554.2,285 554.7,287 555.2,289 555.6,291 555.9,293 556,295 555.9,297 555.7,299 555.4,301 555,303 554.5,305 554,307 553.5,309 553,311 552.2,313 551.3,315 550.2,317 549,319 547.9,321 546.8,323 546,325 545.2,327 544.4,329 543.7,331 543.1,333 543,335 543.2,337 543.8,339 544.6,341 545.5,343 546.3,345 547,347 547.5,349 548,351 548.5,353 548.8,355 549,357 549,359 549,361 549,363 549,365 549,367 549,369 549.5,371 550.9,373 552.7,375 554.5,377 556,379 557,381 558,383L560,383Z" fill="#597dbf"/>
<path d="M560,157L560,157 562.6,159 564,161 563.8,163 563.4,165 563,167 562.6,169 562.4,171 562.3,173 562.2,175 562.1,177 562,179 562,181 562,183 562,185 562,187 562.3,189 562.6,191 563,193 563.5,195 564,197 564.5,199 565,201 565.5,203 566.1,205 566.8,207 567.6,209 568.3,211 569,213 569.5,215 569.8,217 570,219 569.8,221 569.4,223 568.7,225 568,227 567.1,229 566.3,231 565.6,233 565,235 564.4,237 563.9,239 563.5,241 563,243 562.7,245 562.4,247 562.1,249 561.9,251 561.8,253 561.6,255 561.3,257 560.9,259 560.6,261L560,261Z" fill="#d98b5f"/>
<line x1="560" y1="165" x2="560" y2="383" stroke="#4a4a4a" stroke-width="1.6"/>
<line x1="560" y1="223" x2="560" y2="334" stroke="#4a4a4a" stroke-width="4.2"/>
<circle cx="560" cy="261" r="1.5" fill="#8a8a8a"/>
<path d="M605.1,222L596.1,222 594.8,224 593.7,226 592.7,228 592,230.1 591.4,232.1 591.1,234.1 591.1,236.1 591.3,238.1 591.7,240.1 592.1,242.1 592.7,244.1 593.2,246.2 593.9,248.2 594.5,250.2 595.5,252.2 596.6,254.2 597.7,256.2 598.9,258.2 599.8,260.3 600.6,262.3 601.4,264.3 602.1,266.3 602.9,268.3 603.5,270.3 603.9,272.3 604.1,274.3 604.1,276.4 604.1,278.4 604,280.4 603.9,282.4 603.7,284.4 603.5,286.4 603.4,288.4 603.2,290.5 602.9,292.5 602.6,294.5 602.3,296.5 601.8,298.5 601.3,300.5 600.8,302.5 600.2,304.5 599.6,306.6 598.8,308.6 597.8,310.6 596.8,312.6 595.8,314.6 594.8,316.6 593.9,318.6 593.2,320.7 592.7,322.7 592.1,324.7 591.7,326.7 591.2,328.7 590.8,330.7 590.5,332.7 590.2,334.7 589.9,336.8 589.6,338.8 589.3,340.8 589,342.8 588.8,344.8 588.6,346.8 588.4,348.8 588.2,350.9 588.2,352.9 588.1,354.9 588.4,356.9 589.2,358.9 590.4,360.9 591.8,362.9 593.1,364.9 594.4,367 595.8,369 597.4,371 599.1,373L605.1,373Z" fill="#597dbf"/>
<path d="M605.1,147.4L605.1,147.4 608.1,149.4 608,151.5 607.7,153.5 607.4,155.5 606.9,157.6 606.3,159.6 605.8,161.6 605.7,163.6 605.8,165.7 605.9,167.7 606,169.7 606.3,171.8 607.1,173.8 607.9,175.8 608,177.9 607.2,179.9 606.3,181.9 606.2,184 606.5,186 607.1,188 607.8,190 608.5,192.1 609.5,194.1 610.6,196.1 611.8,198.2 612.8,200.2 613.6,202.2 614.1,204.3 614,206.3 613.6,208.3 613,210.4 612.2,212.4 611.4,214.4 610.7,216.4 610.2,218.5 609.9,220.5 609.7,222.5 609.5,224.6 609.3,226.6 609.2,228.6 609.1,230.7 609.3,232.7 610,234.7 610.7,236.8 611.1,238.8 610.7,240.8 609.5,242.8 608.2,244.9 607.1,246.9 606.5,248.9 606.1,251 605.7,253L605.1,253Z" fill="#d98b5f"/>
<line x1="605.1" y1="147.4" x2="605.1" y2="373" stroke="#4a4a4a" stroke-width="1.6"/>
<line x1="605.1" y1="223" x2="605.1" y2="333" stroke="#4a4a4a" stroke-width="4.2"/>
<circle cx="605.1" cy="249" r="1.5" fill="#8a8a8a"/>
<rect x="356.7" y="103.3" width="271" height="326.5" fill="none" stroke="#111" stroke-width="2.9"/>
<text x="781.3" y="92.8" font-size="44.3" font-weight="bold" text-anchor="middle" textLength="159.6" lengthAdjust="spacingAndGlyphs" fill="#c44e52">RMSSD</text>
<path d="M668.4,121L668.4,121 667.9,123 667.5,125 667.1,127 666.7,129 666.4,131 666.1,133 666,135 665.9,137.1 665.8,139.1 665.7,141.1 665.6,143.1 665.5,145.1 665.5,147.1 665.4,149.1 665.4,151.1 665.4,153.1 665.4,155.1 665.4,157.1 665.4,159.1 665.5,161.1 665.6,163.1 665.6,165.2 665.7,167.2 665.8,169.2 665.9,171.2 665.9,173.2 666,175.2 666,177.2 666.1,179.2 666.1,181.2 666.2,183.2 666.2,185.2 666.3,187.2 666.3,189.2 666.4,191.2 666.4,193.2 666.4,195.3 666.4,197.3 666.4,199.3 666.3,201.3 666.3,203.3 666.2,205.3 666.2,207.3 666.1,209.3 666.1,211.3 666,213.3 666,215.3 665.9,217.3 665.9,219.3 665.8,221.3 665.8,223.3 665.7,225.4 665.7,227.4 665.6,229.4 665.5,231.4 665.5,233.4 665.4,235.4 665.2,237.4 665.1,239.4 664.9,241.4 664.7,243.4 664.5,245.4 664.3,247.4 664.1,249.4 663.8,251.4 663.6,253.5 663.3,255.5 663.1,257.5 662.8,259.5 662.5,261.5 662.2,263.5 661.9,265.5 661.6,267.5 661.3,269.5 661,271.5 660.6,273.5 660.3,275.5 659.9,277.5 659.6,279.5 659.2,281.5 658.8,283.6 658.4,285.6 658,287.6 657.6,289.6 657.1,291.6 656.7,293.6 656.2,295.6 655.8,297.6 655.2,299.6 654.6,301.6 654,303.6 653.5,305.6 652.9,307.6 652.4,309.6 651.9,311.7 651.6,313.7 651.3,315.7 651,317.7 650.8,319.7 650.6,321.7 650.4,323.7 650.2,325.7 650.1,327.7 650,329.7 650,331.7 650.1,333.7 650.3,335.7 650.6,337.7 650.9,339.7 651.3,341.8 651.8,343.8 652.2,345.8 652.7,347.8 653.1,349.8 653.5,351.8 654,353.8 654.4,355.8 654.9,357.8 655.4,359.8 655.9,361.8 656.5,363.8 657,365.8 657.5,367.8 658.1,369.8 658.6,371.9 659.2,373.9 659.7,375.9 660.3,377.9 660.9,379.9 661.5,381.9 662.1,383.9 662.7,385.9 663.2,387.9 663.7,389.9 664.2,391.9 664.7,393.9 665.2,395.9 665.7,397.9 666.1,400 666.6,402 666.9,404 667.3,406 667.5,408 667.7,410 667.9,412 668,414L668.4,414Z" fill="#597dbf"/>
<path d="M668.4,191L668.4,191 668.9,193 669.3,195 669.7,197 670,199 670.1,201 670.3,203 670.4,205 670.4,207 670.5,209 670.6,211 670.7,213 670.8,215 670.9,217 671,219 671.2,221 671.3,223 671.5,225 671.6,227 671.8,229 672,231 672.2,233 672.4,235 672.6,237 672.8,239 673.1,241 673.4,243 673.7,245 674,247 674.3,249 674.7,251 675,253 675.4,255 675.8,257 676.3,259 676.9,261 677.5,263 677.9,265 678.3,267 678.4,269 678.3,271 678,273 677.6,275 677.1,277 676.6,279 676.1,281 675.7,283 675.4,285 675.1,287 674.9,289 674.6,291 674.4,293 674.2,295 674,297 673.8,299 673.7,301 673.5,303 673.4,305 673.3,307 673.2,309 673.1,311 673,313 672.9,315 672.9,317 672.8,319 672.7,321 672.5,323 672.4,325 672.1,327 671.8,329 671.3,331 670.8,333 670.2,335 669.6,337 669,339L668.4,339Z" fill="#d98b5f"/>
<line x1="668.4" y1="121" x2="668.4" y2="414" stroke="#4a4a4a" stroke-width="1.6"/>
<line x1="668.4" y1="253" x2="668.4" y2="330" stroke="#4a4a4a" stroke-width="4.2"/>
<circle cx="668.4" cy="294" r="1.5" fill="#8a8a8a"/>
<path d="M713.5,132L713.5,132 713.2,134 712.8,136 712.5,138 712.2,140 711.9,142 711.7,144 711.5,146 711.3,148 711.1,150 710.9,152 710.7,154 710.6,156 710.6,158 710.6,160 710.7,162 710.9,164 711.1,166 711.4,168 711.6,170 711.8,172 711.9,174 711.9,176 711.9,178 711.9,180 711.8,182 711.8,184 711.7,186 711.7,188 711.6,190 711.6,192 711.6,194 711.6,196 711.6,198 711.6,200 711.7,202 711.7,204 711.8,206 711.8,208 711.9,210 711.9,212 711.9,214 711.9,216 711.9,218 711.9,220 711.9,222 711.8,224 711.8,226 711.7,228 711.7,230 711.6,232 711.6,234 711.5,236 711.5,238 711.4,240 711.3,242 711.2,244 711.1,246 711,248 710.9,250 710.8,252 710.6,254 710.5,256 710.3,258 710.1,260 709.8,262 709.5,264 709.2,266 708.9,268 708.5,270 708.2,272 707.8,274 707.3,276 706.8,278 706.2,280 705.4,282 704.7,284 703.9,286 703.1,288 702.3,290 701.6,292 700.9,294 700.2,296 699.6,298 698.8,300 698.1,302 697.4,304 696.8,306 696.2,308 695.7,310 695.4,312 695.2,314 695.2,316 695.3,318 695.5,320 695.8,322 696.1,324 696.5,326 697,328 697.4,330 697.9,332 698.3,334 698.8,336 699.3,338 699.8,340 700.4,342 701.1,344 701.7,346 702.4,348 703,350 703.7,352 704.3,354 704.8,356 705.4,358 705.9,360 706.4,362 707,364 707.5,366 708,368 708.4,370 708.9,372 709.3,374 709.8,376 710.2,378 710.6,380 710.9,382 711.3,384 711.7,386 712,388 712.3,390 712.7,392 712.9,394L713.5,394Z" fill="#597dbf"/>
<path d="M713.5,221L713.5,221 714.6,223 715.6,225 716.5,227 717.6,229 718.9,231 720.1,233 721.3,235 722.2,237 722.9,239 723.1,241 722.8,243 722,245 720.8,247 719.7,249 718.9,251 718.5,253 718.5,255 718.5,257 718.5,259 718.5,261 718.8,263 719.3,265 719.8,267 720.3,269 720.5,271 720.4,273 720.1,275 719.7,277 719.1,279 718.6,281 718,283 717.5,285 717.1,287 716.7,289 716.3,291 715.9,293 715.5,295 715.2,297 714.9,299 714.6,301 714.4,303 714.1,305L713.5,305Z" fill="#d98b5f"/>
<line x1="713.5" y1="132" x2="713.5" y2="394" stroke="#4a4a4a" stroke-width="1.6"/>
<line x1="713.5" y1="255" x2="713.5" y2="330" stroke="#4a4a4a" stroke-width="4.2"/>
<circle cx="713.5" cy="298" r="1.5" fill="#8a8a8a"/>
<path d="M758.7,118L758.3,118 758,120 757.6,122 757.3,124 757,126 756.7,128 756.5,130 756.4,132.1 756.3,134.1 756.3,136.1 756.3,138.1 756.4,140.1 756.4,142.1 756.4,144.1 756.5,146.1 756.5,148.1 756.6,150.1 756.7,152.1 756.7,154.1 756.7,156.1 756.8,158.1 756.8,160.2 756.9,162.2 756.9,164.2 756.9,166.2 757,168.2 757,170.2 757.1,172.2 757.1,174.2 757.1,176.2 757.2,178.2 757.3,180.2 757.4,182.2 757.4,184.2 757.5,186.2 757.6,188.2 757.7,190.3 757.7,192.3 757.7,194.3 757.7,196.3 757.7,198.3 757.7,200.3 757.7,202.3 757.7,204.3 757.7,206.3 757.7,208.3 757.7,210.3 757.7,212.3 757.7,214.3 757.7,216.3 757.7,218.4 757.7,220.4 757.7,222.4 757.7,224.4 757.7,226.4 757.7,228.4 757.7,230.4 757.7,232.4 757.7,234.4 757.7,236.4 757.7,238.4 757.6,240.4 757.5,242.4 757.3,244.4 757.2,246.5 757,248.5 756.8,250.5 756.6,252.5 756.4,254.5 756.1,256.5 755.7,258.5 755.2,260.5 754.6,262.5 753.9,264.5 753.2,266.5 752.5,268.5 751.9,270.5 751.2,272.6 750.4,274.6 749.6,276.6 748.8,278.6 748,280.6 747.2,282.6 746.5,284.6 745.8,286.6 745.2,288.6 744.5,290.6 743.9,292.6 743.3,294.6 742.9,296.6 742.7,298.6 742.7,300.6 742.8,302.7 743,304.7 743.2,306.7 743.4,308.7 743.5,310.7 743.7,312.7 743.7,314.7 743.7,316.7 743.6,318.7 743.5,320.7 743.3,322.7 743,324.7 742.8,326.7 742.5,328.8 742.2,330.8 742,332.8 741.7,334.8 741.5,336.8 741.1,338.8 740.9,340.8 740.7,342.8 740.9,344.8 741.4,346.8 742.2,348.8 743.1,350.8 744,352.8 744.7,354.8 745.2,356.9 745.8,358.9 746.2,360.9 746.7,362.9 747.2,364.9 747.7,366.9 748.1,368.9 748.6,370.9 749.1,372.9 749.7,374.9 750.3,376.9 750.9,378.9 751.6,380.9 752.3,382.9 753,384.9 753.7,387 754.4,389 755.1,391 755.9,393 756.6,395 757.4,397 758.1,399L758.7,399Z" fill="#597dbf"/>
<path d="M758.7,209L758.7,209 758.8,211 759,213 759.2,215 759.5,217 759.9,219 760.3,221 760.7,223 761.1,225 761.7,227 762.4,229 763.3,231 764.2,233 765,235 765.8,237 766.3,239 766.8,241 767.2,243 767.6,245 767.9,247 768.3,249 768.5,251 768.7,253 768.7,255 768.6,257 768.4,259 768,261 767.5,263 767,265 766.5,267 766.1,269 765.7,271 765.5,273 765.3,275 765,277 764.7,279 764,281 763,283 762.1,285 761.7,287 761.7,289 761.7,291 761.7,293 761.7,295 761.4,297 760.7,299 759.7,301L758.7,301Z" fill="#d98b5f"/>
<line x1="758.7" y1="118" x2="758.7" y2="399" stroke="#4a4a4a" stroke-width="1.6"/>
<line x1="758.7" y1="257" x2="758.7" y2="334" stroke="#4a4a4a" stroke-width="4.2"/>
<circle cx="758.7" cy="295" r="1.5" fill="#8a8a8a"/>
<path d="M803.9,118L801.9,118 801.5,120 801.3,122 801.1,124 801,126 800.9,128 800.9,130 801.1,132.1 801.3,134.1 801.6,136.1 801.9,138.1 802.2,140.1 802.4,142.1 802.6,144.1 802.8,146.1 802.9,148.1 803.1,150.1 803.2,152.1 803.3,154.1 803.3,156.1 803.3,158.2 803.3,160.2 803.3,162.2 803.3,164.2 803.3,166.2 803.3,168.2 803.3,170.2 803.3,172.2 803.3,174.2 803.3,176.2 803.3,178.2 803.3,180.2 803.3,182.3 803.3,184.3 803.3,186.3 803.3,188.3 803.3,190.3 803.3,192.3 803.3,194.3 803.3,196.3 803.3,198.3 803.3,200.3 803.3,202.3 803.3,204.3 803.3,206.3 803.3,208.4 803.3,210.4 803.3,212.4 803.3,214.4 803.3,216.4 803.3,218.4 803.3,220.4 803.3,222.4 803.3,224.4 803.3,226.4 803.3,228.4 803.3,230.4 803.3,232.4 803.3,234.5 803.3,236.5 803.2,238.5 803.2,240.5 803.1,242.5 803,244.5 802.9,246.5 802.8,248.5 802.6,250.5 802.5,252.5 802.3,254.5 802.2,256.5 801.9,258.6 801.7,260.6 801.4,262.6 801.1,264.6 800.7,266.6 800.3,268.6 799.9,270.6 799.4,272.6 799,274.6 798.5,276.6 797.8,278.6 797.1,280.6 796.4,282.6 795.5,284.7 794.7,286.7 793.8,288.7 793,290.7 792.1,292.7 791,294.7 789.9,296.7 788.8,298.7 787.9,300.7 787.2,302.7 786.9,304.7 787,306.7 787.5,308.7 788.1,310.8 788.6,312.8 788.9,314.8 788.9,316.8 788.9,318.8 788.9,320.8 788.9,322.8 788.9,324.8 788.7,326.8 788.2,328.8 787.6,330.8 787.1,332.8 786.9,334.9 786.9,336.9 786.9,338.9 786.9,340.9 786.9,342.9 786.9,344.9 787.3,346.9 788.4,348.9 789.8,350.9 791.4,352.9 792.8,354.9 794.1,356.9 795.3,358.9 796.5,361 797.7,363 798.9,365 800,367 801.1,369 802.2,371 803.3,373L803.9,373Z" fill="#597dbf"/>
<path d="M803.9,225L803.9,225 805.5,227 806.9,229 808.2,231 809.5,233 810.9,235 812,237 813,239 813.6,241 813.9,243 813.7,245 813.1,247 812.3,249 811.5,251 810.7,253 810.1,255 809.9,257 810,259 810.3,261 810.7,263 811.1,265 811.5,267 811.8,269 811.9,271 811.8,273 811.4,275 810.9,277 810.2,279 809.6,281 808.9,283 808,285 806.9,287 805.9,289 805.5,291 805.6,293 805.9,295 806.8,297 808.2,299 808.9,301 804.9,303L803.9,303Z" fill="#d98b5f"/>
<line x1="803.9" y1="118" x2="803.9" y2="373" stroke="#4a4a4a" stroke-width="1.6"/>
<line x1="803.9" y1="255" x2="803.9" y2="327" stroke="#4a4a4a" stroke-width="4.2"/>
<circle cx="803.9" cy="300" r="1.5" fill="#8a8a8a"/>
<path d="M849,121L848.6,121 848,123 847.4,125 847,127 846.7,129 846.7,131 846.8,133.1 847.1,135.1 847.5,137.1 847.8,139.1 848.1,141.1 848.2,143.1 848.3,145.1 848.4,147.1 848.5,149.1 848.6,151.1 848.6,153.1 848.6,155.1 848.6,157.2 848.6,159.2 848.6,161.2 848.6,163.2 848.6,165.2 848.6,167.2 848.6,169.2 848.6,171.2 848.6,173.2 848.6,175.2 848.6,177.2 848.6,179.2 848.6,181.3 848.6,183.3 848.6,185.3 848.6,187.3 848.6,189.3 848.6,191.3 848.6,193.3 848.6,195.3 848.6,197.3 848.6,199.3 848.6,201.3 848.6,203.3 848.6,205.4 848.6,207.4 848.6,209.4 848.6,211.4 848.6,213.4 848.6,215.4 848.6,217.4 848.6,219.4 848.6,221.4 848.6,223.4 848.6,225.4 848.6,227.4 848.6,229.5 848.6,231.5 848.6,233.5 848.6,235.5 848.6,237.5 848.6,239.5 848.6,241.5 848.5,243.5 848.5,245.5 848.4,247.5 848.3,249.5 848.2,251.5 848.1,253.6 848,255.6 847.6,257.6 846.9,259.6 846.1,261.6 845.4,263.6 844.9,265.6 844.6,267.6 844.3,269.6 844.1,271.6 843.8,273.6 843.6,275.6 843.3,277.7 842.9,279.7 842.5,281.7 842.1,283.7 841.6,285.7 841.1,287.7 840.5,289.7 840,291.7 839.4,293.7 838.8,295.7 838.1,297.7 837.2,299.7 836.3,301.8 835.6,303.8 835.1,305.8 835.1,307.8 835.2,309.8 835.4,311.8 835.7,313.8 835.9,315.8 836,317.8 836,319.8 835.9,321.8 835.5,323.8 835.1,325.9 834.7,327.9 834.3,329.9 833.9,331.9 833.4,333.9 832.8,335.9 832.4,337.9 832.1,339.9 832.1,341.9 832.9,343.9 834.2,345.9 835.8,347.9 837.3,350 838.7,352 840,354 841.3,356 842.7,358 844,360L849,360Z" fill="#597dbf"/>
<path d="M849,223L849,223 851.6,225 851.8,227 850.8,229 850,231 850.1,233 850.3,235 850.6,237 851,239 851.5,241 852,243 854.1,245 857.4,247 859,249 858.7,251 857.8,253 856.7,255 855.7,257 855,259 854.7,261 854.4,263 854.1,265 854,267 854.4,269 855,271 855.7,273 856,275 855.6,277 854.4,279 853,281 851.5,283 849.6,285L849,285Z" fill="#d98b5f"/>
<line x1="849" y1="121" x2="849" y2="360" stroke="#4a4a4a" stroke-width="1.6"/>
<line x1="849" y1="265" x2="849" y2="325" stroke="#4a4a4a" stroke-width="4.2"/>
<circle cx="849" cy="294" r="1.5" fill="#8a8a8a"/>
<path d="M894.2,122L893.8,122 893.5,124 893.2,126 893,128 892.8,130 892.7,132 892.6,134.1 892.6,136.1 892.7,138.1 892.8,140.1 893,142.1 893.2,144.1 893.4,146.1 893.5,148.1 893.6,150.1 893.6,152.1 893.6,154.1 893.7,156.1 893.7,158.2 893.7,160.2 893.7,162.2 893.7,164.2 893.7,166.2 893.7,168.2 893.8,170.2 893.8,172.2 893.8,174.2 893.8,176.2 893.8,178.2 893.8,180.2 893.8,182.3 893.8,184.3 893.8,186.3 893.8,188.3 893.8,190.3 893.8,192.3 893.8,194.3 893.8,196.3 893.8,198.3 893.8,200.3 893.8,202.3 893.8,204.4 893.8,206.4 893.8,208.4 893.8,210.4 893.8,212.4 893.8,214.4 893.8,216.4 893.8,218.4 893.8,220.4 893.8,222.4 893.8,224.4 893.8,226.4 893.8,228.5 893.8,230.5 893.8,232.5 893.8,234.5 893.8,236.5 893.8,238.5 893.8,240.5 893.8,242.5 893.8,244.5 893.7,246.5 893.7,248.5 893.7,250.5 893.6,252.6 893.6,254.6 893.5,256.6 893.5,258.6 893.4,260.6 893.3,262.6 893.2,264.6 893,266.6 892.3,268.6 891.3,270.6 890.3,272.6 889.3,274.6 888.6,276.7 887.9,278.7 887.1,280.7 886.4,282.7 885.8,284.7 885.3,286.7 884.8,288.7 884.4,290.7 883.9,292.7 883.6,294.7 883.3,296.7 883.2,298.8 883.3,300.8 883.7,302.8 884.2,304.8 884.7,306.8 885,308.8 885.2,310.8 885.2,312.8 884.9,314.8 884.6,316.8 884.3,318.8 883.3,320.8 881.6,322.9 879.6,324.9 878,326.9 877.2,328.9 877.2,330.9 877.2,332.9 877.2,334.9 877.2,336.9 877.7,338.9 878.9,340.9 880.7,342.9 882.5,344.9 884.2,347 885.5,349 886.9,351 888.3,353 890.2,355 893.2,357L894.2,357Z" fill="#597dbf"/>
<path d="M894.2,238L894.2,238 899.2,240 900.7,242.1 901.8,244.1 902.6,246.2 903,248.2 903.2,250.2 903.1,252.3 902.7,254.3 902.1,256.4 901.6,258.4 901.2,260.4 901.5,262.5 902.4,264.5 903.5,266.6 904.2,268.6 902,270.6 898.3,272.7 899,274.7 901,276.8 902.2,278.8 902.1,280.8 901.5,282.9 900.6,284.9 899.2,287 895.2,289L894.2,289Z" fill="#d98b5f"/>
<line x1="894.2" y1="122" x2="894.2" y2="357" stroke="#4a4a4a" stroke-width="1.6"/>
<line x1="894.2" y1="267" x2="894.2" y2="332" stroke="#4a4a4a" stroke-width="4.2"/>
<circle cx="894.2" cy="293" r="1.5" fill="#8a8a8a"/>
<rect x="645.8" y="103.3" width="271" height="326.5" fill="none" stroke="#111" stroke-width="2.9"/>
<text x="1070.4" y="92.8" font-size="44.3" font-weight="bold" text-anchor="middle" textLength="81.3" lengthAdjust="spacingAndGlyphs" fill="#c44e52">uLF</text>
<path d="M957.5,388L957.5,388 952.1,390 946.5,392 941.5,394 939.5,396 943.5,398 953.5,400L957.5,400Z" fill="#597dbf"/>
<path d="M957.5,335L957.5,335 957.5,337 957.5,339.1 957.6,341.1 957.6,343.1 957.7,345.2 957.7,347.2 957.8,349.2 957.9,351.2 958,353.3 958,355.3 958.1,357.3 958.2,359.4 958.3,361.4 958.4,363.4 958.5,365.5 958.6,367.5 958.7,369.5 958.8,371.6 959,373.6 959.1,375.6 959.3,377.7 959.6,379.7 959.9,381.7 960.5,383.8 961.1,385.8 961.9,387.8 963.1,389.8 965.4,391.9 967.5,393.9 967.2,395.9 963.5,398 959.5,400L957.5,400Z" fill="#d98b5f"/>
<line x1="957.5" y1="335" x2="957.5" y2="400" stroke="#4a4a4a" stroke-width="1.6"/>
<line x1="957.5" y1="383" x2="957.5" y2="399" stroke="#4a4a4a" stroke-width="4.2"/>
<circle cx="957.5" cy="395" r="1.5" fill="#8a8a8a"/>
<path d="M1002.6,355L1002.6,355 1002,357.1 1001.4,359.1 1001,361.2 1000.7,363.3 1000.7,365.4 1000.7,367.4 1000.8,369.5 1000.9,371.6 1001,373.7 1001,375.7 1000.9,377.8 1000.7,379.9 1000.3,381.9 999.7,384 999,386.1 997.4,388.2 993.1,390.2 988.9,392.3 985,394.4 986.7,396.5 991.9,398.5 997.6,400.6L1002.6,400.6Z" fill="#597dbf"/>
<path d="M1002.6,264L1002.6,264 1002.7,266 1002.7,268 1002.8,270 1002.8,272 1002.9,274 1002.9,276.1 1003,278.1 1003,280.1 1003,282.1 1003.1,284.1 1003.1,286.1 1003.1,288.1 1003.2,290.1 1003.2,292.1 1003.2,294.1 1003.3,296.1 1003.3,298.1 1003.3,300.2 1003.3,302.2 1003.4,304.2 1003.4,306.2 1003.4,308.2 1003.4,310.2 1003.4,312.2 1003.4,314.2 1003.4,316.2 1003.5,318.2 1003.5,320.2 1003.5,322.2 1003.5,324.3 1003.5,326.3 1003.6,328.3 1003.6,330.3 1003.6,332.3 1003.6,334.3 1003.7,336.3 1003.7,338.3 1003.7,340.3 1003.8,342.3 1003.8,344.3 1003.9,346.4 1004,348.4 1004,350.4 1004.1,352.4 1004.2,354.4 1004.3,356.4 1004.5,358.4 1004.8,360.4 1005.1,362.4 1005.4,364.4 1005.8,366.4 1006.2,368.4 1006.7,370.5 1007.1,372.5 1007.5,374.5 1008,376.5 1008.6,378.5 1009.2,380.5 1009.8,382.5 1010.5,384.5 1011.1,386.5 1011.6,388.5 1012,390.5 1012.4,392.5 1012.6,394.6 1012.2,396.6 1010.8,398.6 1009,400.6 1007.1,402.6 1004.6,404.6L1002.6,404.6Z" fill="#d98b5f"/>
<line x1="1002.6" y1="264" x2="1002.6" y2="404.6" stroke="#4a4a4a" stroke-width="1.6"/>
<line x1="1002.6" y1="379" x2="1002.6" y2="399" stroke="#4a4a4a" stroke-width="4.2"/>
<circle cx="1002.6" cy="394" r="1.5" fill="#8a8a8a"/>
<path d="M1047.8,238L1047.8,238 1047.8,240 1047.7,242 1047.7,244.1 1047.7,246.1 1047.6,248.1 1047.6,250.1 1047.6,252.1 1047.5,254.1 1047.5,256.2 1047.5,258.2 1047.4,260.2 1047.4,262.2 1047.4,264.2 1047.3,266.2 1047.3,268.3 1047.3,270.3 1047.3,272.3 1047.2,274.3 1047.2,276.3 1047.2,278.3 1047.2,280.4 1047.1,282.4 1047.1,284.4 1047.1,286.4 1047.1,288.4 1047.1,290.4 1047,292.5 1047,294.5 1047,296.5 1047,298.5 1047,300.5 1047,302.5 1046.9,304.6 1046.9,306.6 1046.9,308.6 1046.9,310.6 1046.8,312.6 1046.8,314.6 1046.8,316.7 1046.8,318.7 1046.7,320.7 1046.7,322.7 1046.7,324.7 1046.6,326.7 1046.6,328.8 1046.6,330.8 1046.5,332.8 1046.5,334.8 1046.4,336.8 1046.4,338.8 1046.3,340.9 1046.3,342.9 1046.2,344.9 1046.1,346.9 1046.1,348.9 1046,350.9 1045.9,353 1045.8,355 1045.7,357 1045.5,359 1045.4,361 1045.1,363 1044.8,365.1 1044.5,367.1 1044.2,369.1 1043.8,371.1 1043.3,373.1 1042.5,375.1 1041.7,377.2 1040.7,379.2 1039.6,381.2 1038.4,383.2 1037,385.2 1035.6,387.2 1034,389.3 1032.1,391.3 1030.7,393.3 1030.2,395.3 1030.9,397.3 1032.4,399.3 1034.2,401.4 1037,403.4 1040.8,405.4L1047.8,405.4Z" fill="#597dbf"/>
<path d="M1047.8,189L1047.8,189 1047.9,191 1047.9,193 1048,195 1048.1,197 1048.1,199 1048.2,201 1048.3,203 1048.3,205 1048.4,207 1048.4,209 1048.5,211 1048.5,213 1048.6,215 1048.6,217 1048.7,219 1048.7,221 1048.7,223 1048.8,225 1048.8,227 1048.8,229 1048.8,231 1048.8,233 1048.8,235 1048.8,237 1048.8,239 1048.8,241 1048.8,243 1048.8,245 1048.8,247 1048.8,249 1048.8,251 1048.8,253 1048.8,255 1048.8,257 1048.8,259 1048.8,261 1048.8,263 1048.8,265 1048.8,267 1048.8,269 1048.8,271 1048.8,273 1048.8,275 1048.8,277 1048.8,279 1048.8,281 1048.8,283 1048.9,285 1048.9,287 1048.9,289 1048.9,291 1049,293 1049,295 1049,297 1049.1,299 1049.1,301 1049.1,303 1049.2,305 1049.2,307 1049.3,309 1049.3,311 1049.4,313 1049.4,315 1049.5,317 1049.6,319 1049.7,321 1049.8,323 1049.9,325 1050.1,327 1050.3,329 1050.4,331 1050.6,333 1050.8,335 1051.1,337 1051.3,339 1051.7,341 1052,343 1052.2,345 1052.4,347 1052.7,349 1052.9,351 1053.1,353 1053.3,355 1053.5,357 1053.6,359 1053.7,361 1053.8,363 1053.8,365 1053.8,367 1053.8,369 1053.8,371 1053.7,373 1053.7,375 1053.6,377 1053.6,379 1053.5,381 1053.5,383 1053.4,385 1053.3,387 1053.2,389 1053.1,391 1052.9,393 1052.8,395 1052.7,397 1052.6,399 1052.5,401 1052.4,403 1052.2,405 1051.7,407 1050.8,409L1047.8,409Z" fill="#d98b5f"/>
<line x1="1047.8" y1="189" x2="1047.8" y2="409" stroke="#4a4a4a" stroke-width="1.6"/>
<line x1="1047.8" y1="357" x2="1047.8" y2="397" stroke="#4a4a4a" stroke-width="4.2"/>
<circle cx="1047.8" cy="389" r="1.5" fill="#8a8a8a"/>
<path d="M1093,281L1093,281 1093,283 1092.9,285 1092.9,287 1092.9,289.1 1092.9,291.1 1092.8,293.1 1092.8,295.1 1092.8,297.1 1092.7,299.1 1092.7,301.2 1092.6,303.2 1092.6,305.2 1092.6,307.2 1092.5,309.2 1092.5,311.2 1092.4,313.3 1092.4,315.3 1092.3,317.3 1092.3,319.3 1092.2,321.3 1092.2,323.3 1092.1,325.4 1092.1,327.4 1092,329.4 1092,331.4 1091.9,333.4 1091.8,335.4 1091.8,337.5 1091.7,339.5 1091.6,341.5 1091.5,343.5 1091.3,345.5 1091.1,347.5 1090.8,349.5 1090.5,351.6 1090.2,353.6 1089.9,355.6 1089.7,357.6 1089.5,359.6 1089.3,361.6 1089.1,363.7 1088.9,365.7 1088.6,367.7 1088.2,369.7 1087.8,371.7 1087,373.7 1086,375.8 1084.8,377.8 1083.4,379.8 1081.7,381.8 1079.9,383.8 1078.4,385.8 1076.8,387.9 1075.6,389.9 1075.4,391.9 1075.8,393.9 1076.6,395.9 1077.5,397.9 1078.5,400 1080,402 1081.8,404 1084,406L1093,406Z" fill="#597dbf"/>
<path d="M1093,176L1093,176 1093.1,178 1093.2,180 1093.3,182 1093.4,184 1093.5,186 1093.6,188 1093.7,190 1093.8,192 1093.9,194 1094,196 1094.2,198 1094.3,200 1094.4,202 1094.5,204 1094.7,206 1094.8,208 1094.9,210 1094.9,212 1095,214 1095,216 1094.9,218 1094.8,220 1094.6,222 1094.4,224 1094.2,226 1094,228 1093.8,230 1093.7,232 1093.6,234 1093.6,236 1093.6,238 1093.6,240 1093.6,242 1093.6,244 1093.6,246 1093.6,248 1093.6,250 1093.7,252 1093.7,254 1093.7,256 1093.7,258 1093.7,260 1093.8,262 1093.8,264 1093.8,266 1093.9,268 1093.9,270 1093.9,272 1094,274 1094,276 1094.1,278 1094.2,280 1094.4,282 1094.5,284 1094.7,286 1094.9,288 1095.1,290 1095.3,292 1095.6,294 1095.9,296 1096.2,298 1096.4,300 1096.7,302 1096.9,304 1097.1,306 1097.2,308 1097.3,310 1097.5,312 1097.6,314 1097.7,316 1097.8,318 1097.9,320 1098,322 1098,324 1098,326 1098,328 1098,330 1098,332 1098,334 1098,336 1098.4,338 1099.1,340 1099.8,342 1100.6,344 1101.4,346 1102.3,348 1103.3,350 1103.9,352 1104,354 1103.8,356 1103.5,358 1103,360 1102.6,362 1102.2,364 1101.8,366 1101.3,368 1100.9,370 1100.4,372 1100.1,374 1099.9,376 1099.7,378 1099.6,380 1099.5,382 1099.4,384 1099.3,386 1099.2,388 1099.1,390 1098.9,392 1098.5,394 1098.1,396 1097.6,398 1097.2,400 1096.8,402 1096.4,404 1096,406L1093,406Z" fill="#d98b5f"/>
<line x1="1093" y1="176" x2="1093" y2="406" stroke="#4a4a4a" stroke-width="1.6"/>
<line x1="1093" y1="353" x2="1093" y2="396" stroke="#4a4a4a" stroke-width="4.2"/>
<circle cx="1093" cy="381" r="1.5" fill="#8a8a8a"/>
<path d="M1138.2,333L1138.2,333 1137.8,335 1137.6,337 1137.3,339 1137,341 1136.8,343 1136.6,345 1136.5,347 1136.3,349 1136.2,351 1136.2,353 1136.2,355 1136.2,357 1136.2,359 1136.3,361 1136.4,363 1136.4,365 1136.5,367 1136.5,369 1136.6,371 1136.5,373 1136.3,375 1136,377 1135.6,379 1135.2,381 1134.1,383 1132.3,385 1130.2,387 1126.9,389 1123,391 1121.2,393 1122,395 1123.9,397 1126.9,399 1132.2,401L1138.2,401Z" fill="#597dbf"/>
<path d="M1138.2,218L1138.2,218 1139,220 1139.6,222 1139.8,224 1139.8,226 1139.8,228 1139.8,230 1139.8,232 1139.8,234 1139.7,236 1139.7,238 1139.7,240 1139.6,242 1139.5,244 1139.5,246 1139.4,248 1139.3,250 1139.2,252 1139.2,254 1139.1,256 1139.1,258 1139,260 1139,262 1138.9,264 1138.9,266 1138.8,268 1138.8,270 1138.8,272 1138.8,274 1138.8,276 1138.8,278 1138.8,280 1138.8,282 1138.8,284 1138.9,286 1138.9,288 1139,290 1139,292 1139.1,294 1139.2,296 1139.3,298 1139.5,300 1139.7,302 1140,304 1140.4,306 1141.1,308 1142.2,310 1143.2,312 1143.9,314 1144.3,316 1144.6,318 1144.9,320 1145,322 1145.1,324 1145.1,326 1145,328 1144.7,330 1144.3,332 1143.9,334 1143.4,336 1143,338 1142.6,340 1142.3,342 1142.2,344 1142.2,346 1142.2,348 1142.3,350 1142.5,352 1142.7,354 1142.9,356 1143.2,358 1143.5,360 1143.7,362 1144,364 1144.3,366 1144.7,368 1145.2,370 1145.7,372 1146.2,374 1146.7,376 1147.2,378 1147.7,380 1148,382 1148.1,384 1148.1,386 1147.9,388 1147.4,390 1146.9,392 1146.4,394 1145.9,396 1145.5,398 1145.1,400 1144.5,402 1143.7,404 1142.6,406 1141.2,408L1138.2,408Z" fill="#d98b5f"/>
<line x1="1138.2" y1="218" x2="1138.2" y2="408" stroke="#4a4a4a" stroke-width="1.6"/>
<line x1="1138.2" y1="333" x2="1138.2" y2="397" stroke="#4a4a4a" stroke-width="4.2"/>
<circle cx="1138.2" cy="390" r="1.5" fill="#8a8a8a"/>
<path d="M1183.3,295L1183.3,295 1182.9,297 1182.4,299 1182.1,301 1181.8,303 1181.7,305 1181.7,307 1181.7,309 1181.7,311 1181.7,313 1181.7,315 1181.7,317 1181.7,319 1181.7,321 1181.8,323 1181.9,325 1182,327 1182.1,329 1182.2,331 1182.3,333 1182.3,335 1182.3,337 1182.3,339 1182.2,341 1182.2,343 1182.1,345 1182,347 1182,349 1181.9,351 1181.8,353 1181.7,355 1181.6,357 1181.6,359 1181.5,361 1181.4,363 1181.3,365 1181.2,367 1181.1,369 1180.9,371 1180.5,373 1179.6,375 1178.5,377 1177.3,379 1176.1,381 1174.6,383 1173,385 1171.3,387 1169,389 1166.5,391 1165.3,393 1165.9,395 1167.4,397 1169.3,399 1171.9,401 1175.3,403L1183.3,403Z" fill="#597dbf"/>
<path d="M1183.3,118L1183.3,118 1185.8,120 1186.3,122 1186.3,124 1186.3,126 1186.3,128 1186.3,130 1186.3,132 1186.3,134 1186.3,136 1186.1,138 1185.8,140 1185.3,142 1184.9,144 1184.5,146 1184.1,148 1183.9,150 1183.9,152 1183.9,154 1183.9,156 1183.9,158 1183.9,160 1183.9,162 1183.9,164 1183.9,166 1183.9,168 1183.9,170 1183.9,172 1183.9,174 1183.9,176 1183.9,178 1183.9,180 1184,182 1184,184 1184.1,186 1184.1,188 1184.2,190 1184.2,192 1184.3,194 1184.4,196 1184.5,198 1184.7,200 1185,202 1185.3,204 1185.5,206 1185.8,208 1186,210 1186.2,212 1186.3,214 1186.3,216 1186.3,218 1186.2,220 1186.2,222 1186.1,224 1186,226 1185.9,228 1185.8,230 1185.6,232 1185.4,234 1185.2,236 1184.9,238 1184.6,240 1184.3,242 1184.1,244 1183.9,246 1183.9,248 1183.9,250 1184,252 1184.1,254 1184.1,256 1184.2,258 1184.2,260 1184.3,262 1184.3,264 1184.3,266 1184.3,268 1184.2,270 1184.2,272 1184.1,274 1184,276 1184,278 1183.9,280 1183.9,282 1184.1,284 1184.4,286 1184.8,288 1185.3,290 1185.7,292 1186.1,294 1186.5,296 1186.8,298 1187.1,300 1187.4,302 1187.7,304 1188,306 1188.3,308 1188.6,310 1188.9,312 1189.2,314 1189.5,316 1189.8,318 1190.2,320 1190.6,322 1191,324 1191.4,326 1191.7,328 1192,330 1192.2,332 1192.3,334 1192.3,336 1192.3,338 1192.3,340 1192.3,342 1192.3,344 1192.3,346 1192.3,348 1192.3,350 1192.3,352 1192.3,354 1192.3,356 1192.3,358 1192.2,360 1192.1,362 1192,364 1191.9,366 1191.7,368 1191.6,370 1191.5,372 1191.4,374 1191.3,376 1191.2,378 1191.1,380 1191,382 1190.9,384 1190.8,386 1190.8,388 1190.7,390 1190.5,392 1190.4,394 1190.2,396 1190,398 1189.7,400 1189.4,402 1189,404 1188.6,406 1188,408 1187.3,410 1186.3,412 1185.3,414L1183.3,414Z" fill="#d98b5f"/>
<line x1="1183.3" y1="118" x2="1183.3" y2="414" stroke="#4a4a4a" stroke-width="1.6"/>
<line x1="1183.3" y1="338" x2="1183.3" y2="397" stroke="#4a4a4a" stroke-width="4.2"/>
<circle cx="1183.3" cy="378" r="1.5" fill="#8a8a8a"/>
<rect x="934.9" y="103.3" width="271" height="326.5" fill="none" stroke="#111" stroke-width="2.9"/>
<text x="1359.5" y="92.8" font-size="44.3" font-weight="bold" text-anchor="middle" textLength="78.9" lengthAdjust="spacingAndGlyphs" fill="#c44e52">vLF</text>
<path d="M1246.6,391L1246.6,391 1243.8,393 1240.6,395 1236.5,397 1232.6,399 1229.3,401 1229.9,403 1235.7,405 1242.6,407L1246.6,407Z" fill="#597dbf"/>
<path d="M1246.6,319L1246.6,319 1246.6,321 1246.6,323 1246.6,325 1246.6,327 1246.6,329 1246.7,331 1246.7,333 1246.7,335 1246.8,337 1246.8,339 1246.8,341 1246.9,343 1246.9,345 1247,347 1247,349 1247.1,351 1247.1,353 1247.2,355 1247.2,357 1247.3,359 1247.4,361 1247.5,363 1247.6,365 1247.7,367 1247.8,369 1247.9,371 1248,373 1248.2,375 1248.3,377 1248.5,379 1248.7,381 1249,383 1249.2,385 1249.6,387 1250.1,389 1250.8,391 1251.6,393 1252.6,395 1254.2,397 1256.1,399 1257,401 1255.5,403 1252.6,405 1248.6,407L1246.6,407Z" fill="#d98b5f"/>
<line x1="1246.6" y1="319" x2="1246.6" y2="407" stroke="#4a4a4a" stroke-width="1.6"/>
<line x1="1246.6" y1="383" x2="1246.6" y2="405" stroke="#4a4a4a" stroke-width="4.2"/>
<circle cx="1246.6" cy="401" r="1.5" fill="#8a8a8a"/>
<path d="M1291.8,341L1291.8,341 1290.9,343 1290.1,345.1 1289.7,347.1 1289.6,349.1 1289.5,351.2 1289.4,353.2 1289.4,355.2 1289.5,357.2 1289.9,359.3 1290.3,361.3 1290.6,363.3 1290.7,365.4 1290.7,367.4 1290.6,369.4 1290.5,371.5 1290.4,373.5 1290.2,375.5 1289.9,377.5 1289.6,379.6 1288.9,381.6 1287.8,383.6 1286.3,385.7 1284.8,387.7 1283.1,389.7 1281,391.8 1278.6,393.8 1276.6,395.8 1275.3,397.8 1274.2,399.9 1273.8,401.9 1275.5,403.9 1279.7,406 1286.8,408L1291.8,408Z" fill="#597dbf"/>
<path d="M1291.8,223L1291.8,223 1291.8,225 1291.8,227 1291.9,229 1291.9,231 1292,233 1292,235 1292,237 1292.1,239 1292.1,241 1292.2,243 1292.2,245 1292.2,247 1292.3,249 1292.3,251 1292.3,253 1292.3,255 1292.4,257 1292.4,259 1292.4,261 1292.5,263 1292.5,265 1292.5,267 1292.5,269 1292.6,271 1292.6,273 1292.6,275 1292.6,277 1292.7,279 1292.7,281 1292.7,283 1292.7,285 1292.7,287 1292.7,289 1292.7,291 1292.7,293 1292.8,295 1292.8,297 1292.8,299 1292.8,301 1292.8,303 1292.8,305 1292.8,307 1292.8,309 1292.8,311 1292.8,313 1292.8,315 1292.8,317 1292.8,319 1292.8,321 1292.8,323 1292.8,325 1292.8,327 1292.8,329 1292.8,331 1292.8,333 1292.8,335 1292.8,337 1292.8,339 1292.8,341 1292.9,343 1292.9,345 1293,347 1293.1,349 1293.2,351 1293.3,353 1293.3,355 1293.5,357 1293.7,359 1293.9,361 1294.1,363 1294.4,365 1294.8,367 1295.1,369 1295.6,371 1296.1,373 1296.7,375 1297.2,377 1297.8,379 1298.3,381 1299,383 1299.6,385 1300.2,387 1300.6,389 1300.8,391 1300.8,393 1300.8,395 1300.8,397 1300.8,399 1300.8,401 1300.5,403 1299.8,405 1298.8,407 1297.8,409 1296.4,411 1294.8,413L1291.8,413Z" fill="#d98b5f"/>
<line x1="1291.8" y1="223" x2="1291.8" y2="413" stroke="#4a4a4a" stroke-width="1.6"/>
<line x1="1291.8" y1="376" x2="1291.8" y2="403" stroke="#4a4a4a" stroke-width="4.2"/>
<circle cx="1291.8" cy="396" r="1.5" fill="#8a8a8a"/>
<path d="M1336.9,187L1336.9,187 1336.9,189 1336.9,191 1336.8,193 1336.8,195 1336.8,197 1336.7,199.1 1336.7,201.1 1336.7,203.1 1336.7,205.1 1336.6,207.1 1336.6,209.1 1336.6,211.1 1336.6,213.1 1336.5,215.1 1336.5,217.1 1336.5,219.1 1336.5,221.2 1336.4,223.2 1336.4,225.2 1336.4,227.2 1336.4,229.2 1336.4,231.2 1336.3,233.2 1336.3,235.2 1336.3,237.2 1336.3,239.2 1336.3,241.2 1336.3,243.2 1336.2,245.3 1336.2,247.3 1336.2,249.3 1336.2,251.3 1336.2,253.3 1336.2,255.3 1336.2,257.3 1336.2,259.3 1336.1,261.3 1336.1,263.3 1336.1,265.3 1336.1,267.4 1336.1,269.4 1336.1,271.4 1336.1,273.4 1336.1,275.4 1336.1,277.4 1336,279.4 1336,281.4 1336,283.4 1336,285.4 1336,287.4 1336,289.5 1335.9,291.5 1335.9,293.5 1335.9,295.5 1335.9,297.5 1335.9,299.5 1335.9,301.5 1335.8,303.5 1335.8,305.5 1335.8,307.5 1335.8,309.5 1335.7,311.5 1335.7,313.6 1335.7,315.6 1335.7,317.6 1335.6,319.6 1335.6,321.6 1335.6,323.6 1335.5,325.6 1335.5,327.6 1335.4,329.6 1335.4,331.6 1335.4,333.6 1335.3,335.7 1335.2,337.7 1335.1,339.7 1335,341.7 1334.9,343.7 1334.8,345.7 1334.6,347.7 1334.4,349.7 1334.2,351.7 1334,353.7 1333.8,355.7 1333.6,357.8 1333.3,359.8 1333,361.8 1332.6,363.8 1332.2,365.8 1331.7,367.8 1331.2,369.8 1330.7,371.8 1330,373.8 1329.3,375.8 1328.4,377.8 1327.5,379.8 1326.5,381.9 1325.3,383.9 1323.9,385.9 1322.6,387.9 1321.4,389.9 1320.6,391.9 1319.7,393.9 1319,395.9 1318.6,397.9 1318.6,399.9 1319.1,401.9 1320.1,404 1321.3,406 1322.6,408 1324.5,410 1327.2,412 1331.9,414L1336.9,414Z" fill="#597dbf"/>
<path d="M1336.9,139L1336.9,139 1337,141 1337,143 1337,145 1337.1,147 1337.1,149 1337.1,151 1337.2,153 1337.2,155 1337.2,157 1337.3,159 1337.3,161 1337.3,163 1337.4,165 1337.4,167 1337.4,169 1337.5,171 1337.5,173 1337.5,175 1337.5,177 1337.6,179 1337.6,181 1337.6,183 1337.6,185 1337.7,187 1337.7,189 1337.7,191 1337.8,193 1337.8,195 1337.8,197 1337.8,199 1337.8,201 1337.9,203 1337.9,205 1337.9,207 1337.9,209 1337.9,211 1337.9,213 1337.9,215 1337.9,217 1337.9,219 1337.9,221 1337.9,223 1337.9,225 1337.9,227 1337.9,229 1337.9,231 1337.9,233 1337.9,235 1337.9,237 1337.9,239 1337.9,241 1337.9,243 1337.9,245 1337.9,247 1337.9,249 1337.9,251 1337.9,253 1337.9,255 1337.9,257 1337.9,259 1337.9,261 1337.9,263 1338,265 1338,267 1338,269 1338,271 1338,273 1338.1,275 1338.1,277 1338.1,279 1338.2,281 1338.2,283 1338.3,285 1338.3,287 1338.4,289 1338.4,291 1338.5,293 1338.5,295 1338.6,297 1338.8,299 1339,301 1339.2,303 1339.5,305 1339.8,307 1340.1,309 1340.4,311 1340.7,313 1340.9,315 1341.1,317 1341.3,319 1341.5,321 1341.7,323 1341.9,325 1342.1,327 1342.3,329 1342.5,331 1342.7,333 1342.9,335 1343.1,337 1343.4,339 1343.6,341 1343.9,343 1344.2,345 1344.4,347 1344.6,349 1344.8,351 1344.9,353 1344.9,355 1344.9,357 1344.9,359 1344.9,361 1344.9,363 1344.9,365 1344.9,367 1344.9,369 1344.9,371 1344.9,373 1344.9,375 1345,377 1345.1,379 1345.2,381 1345.4,383 1345.6,385 1345.8,387 1345.9,389 1345.9,391 1345.9,393 1345.7,395 1345.4,397 1345.1,399 1344.8,401 1344.3,403 1343.9,405 1343.4,407 1342.7,409 1341.8,411 1340.9,413L1336.9,413Z" fill="#d98b5f"/>
<line x1="1336.9" y1="139" x2="1336.9" y2="414" stroke="#4a4a4a" stroke-width="1.6"/>
<line x1="1336.9" y1="340" x2="1336.9" y2="401" stroke="#4a4a4a" stroke-width="4.2"/>
<circle cx="1336.9" cy="384" r="1.5" fill="#8a8a8a"/>
<path d="M1382.1,185L1382.1,185 1382,187 1382,189 1381.9,191 1381.9,193 1381.8,195 1381.8,197 1381.8,199 1381.7,201 1381.7,203 1381.6,205 1381.6,207 1381.6,209 1381.5,211 1381.5,213 1381.5,215 1381.5,217 1381.4,219 1381.4,221 1381.4,223 1381.4,225 1381.4,227 1381.4,229 1381.3,231 1381.3,233 1381.3,235 1381.3,237 1381.3,239 1381.3,241 1381.2,243 1381.2,245 1381.2,247 1381.2,249 1381.2,251 1381.1,253 1381.1,255 1381,257 1380.9,259 1380.8,261 1380.6,263 1380.5,265 1380.3,267 1380.1,269 1380,271 1379.8,273 1379.7,275 1379.6,277 1379.4,279 1379.3,281 1379.2,283 1379.1,285 1379.1,287 1379.2,289 1379.6,291 1379.9,293 1380.1,295 1380.1,297 1380.1,299 1380.1,301 1380.1,303 1380.1,305 1380.1,307 1380.1,309 1380.1,311 1380.1,313 1380.1,315 1380.1,317 1380,319 1380,321 1379.9,323 1379.8,325 1379.7,327 1379.6,329 1379.4,331 1379.3,333 1379.1,335 1378.7,337 1378.1,339 1377.5,341 1376.8,343 1376.3,345 1376.1,347 1376.4,349 1377.1,351 1377.8,353 1378.1,355 1378.1,357 1378,359 1377.9,361 1377.7,363 1377.5,365 1377.3,367 1377,369 1376.7,371 1376.4,373 1376.1,375 1375.5,377 1374.7,379 1373.6,381 1372.5,383 1371.2,385 1370.1,387 1368.8,389 1367.2,391 1365.7,393 1364.5,395 1364.1,397 1364.2,399 1364.7,401 1365.3,403 1366.1,405 1367.5,407 1369.6,409 1372.1,411 1375.1,413L1382.1,413Z" fill="#597dbf"/>
<path d="M1382.1,141L1382.1,141 1383.5,143 1384.5,145 1385,147 1385.4,149 1385.8,151 1386,153 1386.1,155 1386,157 1385.9,159 1385.7,161 1385.5,163 1385.2,165 1385,167 1384.7,169 1384.5,171 1384.2,173 1383.9,175 1383.6,177 1383.4,179 1383.2,181 1383.1,183 1383.1,185 1383.2,187 1383.4,189 1383.5,191 1383.6,193 1383.7,195 1383.6,197 1383.5,199 1383.4,201 1383.2,203 1383.1,205 1383.1,207 1383.2,209 1383.5,211 1383.8,213 1384.3,215 1384.7,217 1385.1,219 1385.4,221 1385.9,223 1386.3,225 1386.7,227 1387.1,229 1387.4,231 1387.6,233 1387.7,235 1387.7,237 1387.6,239 1387.5,241 1387.3,243 1387.2,245 1387.1,247 1387,249 1386.8,251 1386.7,253 1386.5,255 1386.4,257 1386.3,259 1386.2,261 1386.1,263 1386.1,265 1386.2,267 1386.6,269 1387.2,271 1387.8,273 1388.6,275 1389.3,277 1390,279 1390.6,281 1390.9,283 1391.1,285 1391,287 1390.8,289 1390.4,291 1390,293 1389.6,295 1389.1,297 1388.7,299 1388.4,301 1388.2,303 1388.1,305 1388.1,307 1388.1,309 1388.1,311 1388.1,313 1388.1,315 1388.1,317 1388.1,319 1388.1,321 1388.1,323 1388.1,325 1388.2,327 1388.6,329 1389.1,331 1389.8,333 1390.4,335 1391,337 1391.6,339 1391.9,341 1392.1,343 1392,345 1391.9,347 1391.7,349 1391.5,351 1391.3,353 1391.1,355 1390.9,357 1390.7,359 1390.5,361 1390.3,363 1390.1,365 1389.9,367 1389.7,369 1389.5,371 1389.3,373 1389.1,375 1388.9,377 1388.7,379 1388.5,381 1388.3,383 1388.2,385 1388,387 1387.8,389 1387.6,391 1387.3,393 1387.1,395 1386.8,397 1386.5,399 1386.2,401 1385.9,403 1385.5,405 1385.1,407 1384.5,409 1383.8,411 1383.1,413L1382.1,413Z" fill="#d98b5f"/>
<line x1="1382.1" y1="141" x2="1382.1" y2="413" stroke="#4a4a4a" stroke-width="1.6"/>
<line x1="1382.1" y1="293" x2="1382.1" y2="397" stroke="#4a4a4a" stroke-width="4.2"/>
<circle cx="1382.1" cy="355" r="1.5" fill="#8a8a8a"/>
<path d="M1427.2,285L1427.2,285 1426,287 1425.1,289 1424.8,291 1425.2,293 1425.7,295 1425.8,297 1425.9,299 1426,301 1426,303 1426.1,305 1426.2,307 1426.2,309 1426.2,311 1426.2,313 1426.2,315 1426.2,317 1426.2,319 1426.1,321 1425.9,323 1425.8,325 1425.6,327 1425.4,329 1425.2,331 1425,333 1424.8,335 1424.6,337 1424.3,339 1424,341 1423.7,343 1423.3,345 1423,347 1422.7,349 1422.5,351 1422.3,353 1422.2,355 1422.3,357 1422.5,359 1422.6,361 1422.8,363 1422.8,365 1422.8,367 1422.7,369 1422.5,371 1422.3,373 1422,375 1421.6,377 1421.2,379 1420.6,381 1419.5,383 1418.1,385 1416.7,387 1415.2,389 1413.6,391 1411.6,393 1409.9,395 1409.2,397 1409.7,399 1410.9,401 1412.4,403 1414.2,405 1416.9,407 1420.2,409L1427.2,409Z" fill="#597dbf"/>
<path d="M1427.2,183L1427.2,183 1429.1,185 1430.3,187 1430.8,189 1431.3,191 1431.7,193 1432,195.1 1432.2,197.1 1432.2,199.1 1432.1,201.1 1431.6,203.1 1431,205.1 1430.3,207.1 1429.7,209.1 1429.2,211.1 1428.9,213.1 1428.6,215.1 1428.3,217.2 1428.1,219.2 1427.9,221.2 1427.8,223.2 1427.8,225.2 1427.8,227.2 1427.8,229.2 1427.8,231.2 1427.8,233.2 1427.8,235.2 1427.8,237.2 1427.8,239.3 1427.8,241.3 1427.8,243.3 1427.8,245.3 1427.8,247.3 1427.8,249.3 1427.8,251.3 1427.8,253.3 1427.9,255.3 1428.1,257.3 1428.6,259.4 1429.2,261.4 1429.8,263.4 1430.3,265.4 1430.8,267.4 1431.3,269.4 1431.9,271.4 1432.4,273.4 1432.9,275.4 1433.4,277.4 1433.7,279.4 1434,281.5 1434.2,283.5 1434.2,285.5 1434.2,287.5 1434,289.5 1433.8,291.5 1433.5,293.5 1433.2,295.5 1432.9,297.5 1432.6,299.5 1432.4,301.5 1432.3,303.6 1432.3,305.6 1432.3,307.6 1432.4,309.6 1432.6,311.6 1432.7,313.6 1433,315.6 1433.2,317.6 1433.5,319.6 1433.8,321.6 1434.1,323.6 1434.4,325.7 1434.8,327.7 1435.3,329.7 1435.9,331.7 1436.5,333.7 1436.9,335.7 1437.2,337.7 1437.2,339.7 1437,341.7 1436.6,343.7 1436.1,345.8 1435.4,347.8 1434.8,349.8 1434.1,351.8 1433.5,353.8 1433.1,355.8 1432.7,357.8 1432.3,359.8 1432,361.8 1431.6,363.8 1431.3,365.8 1430.9,367.9 1430.5,369.9 1430,371.9 1429.4,373.9 1428.8,375.9 1428.3,377.9 1428.3,379.9 1429,381.9 1430,383.9 1431,385.9 1431.4,387.9 1431.8,390 1432.1,392 1432.2,394 1432.1,396 1431.4,398 1430.2,400L1427.2,400Z" fill="#d98b5f"/>
<line x1="1427.2" y1="183" x2="1427.2" y2="409" stroke="#4a4a4a" stroke-width="1.6"/>
<line x1="1427.2" y1="340" x2="1427.2" y2="399" stroke="#4a4a4a" stroke-width="4.2"/>
<circle cx="1427.2" cy="378" r="1.5" fill="#8a8a8a"/>
<path d="M1472.4,241L1472.4,241 1471.2,243 1470.4,245 1470,247 1470.1,249 1470.4,251 1470.6,253 1470.8,255 1470.9,257 1471,259 1471.1,261 1471.2,263 1471.2,265 1471.3,267 1471.4,269 1471.4,271 1471.4,273 1471.4,275 1471.4,277 1471.4,279 1471.3,281 1471.3,283 1471.2,285 1471.1,287 1471,289 1470.9,291 1470.9,293 1470.8,295 1470.8,297 1470.7,299 1470.7,301 1470.7,303 1470.6,305 1470.6,307 1470.6,309 1470.5,311 1470.5,313 1470.4,315 1470.4,317 1470.3,319 1470.2,321 1470.1,323 1470,325 1469.9,327 1469.7,329 1469.6,331 1469.5,333 1469.4,335 1469.3,337 1469.2,339 1469.1,341 1469,343 1469,345 1468.9,347 1468.8,349 1468.7,351 1468.5,353 1468.4,355 1468.3,357 1468.2,359 1468,361 1467.8,363 1467.6,365 1467.4,367 1467.1,369 1466.7,371 1466.3,373 1465.7,375 1465.1,377 1464.4,379 1463.5,381 1462.4,383 1461.1,385 1459.7,387 1458.5,389 1457.4,391 1456.4,393 1455.5,395 1454.7,397 1454.4,399 1455.1,401 1456.7,403 1458.6,405 1460.2,407 1461.8,409 1463.4,411L1472.4,411Z" fill="#597dbf"/>
<path d="M1472.4,118L1472.4,118 1474,120 1475.2,122 1475.5,124 1475.7,126 1475.8,128 1475.9,130 1476,132.1 1476,134.1 1476,136.1 1475.8,138.1 1475.4,140.1 1475,142.1 1474.5,144.1 1474.2,146.1 1473.8,148.1 1473.5,150.1 1473.2,152.1 1473,154.1 1473,156.1 1473,158.2 1473,160.2 1473,162.2 1473,164.2 1473,166.2 1473,168.2 1473,170.2 1473,172.2 1473,174.2 1473,176.2 1473,178.2 1473,180.2 1473,182.2 1473,184.2 1473,186.3 1473,188.3 1473,190.3 1473,192.3 1473,194.3 1473,196.3 1473,198.3 1473,200.3 1473,202.3 1473,204.3 1473,206.3 1473,208.3 1473.1,210.3 1473.1,212.4 1473.1,214.4 1473.1,216.4 1473.1,218.4 1473.2,220.4 1473.2,222.4 1473.2,224.4 1473.2,226.4 1473.3,228.4 1473.3,230.4 1473.4,232.4 1473.4,234.4 1473.6,236.4 1474.1,238.5 1474.8,240.5 1475.3,242.5 1475.6,244.5 1475.8,246.5 1475.9,248.5 1476.1,250.5 1476.2,252.5 1476.4,254.5 1476.6,256.5 1476.8,258.5 1477,260.5 1477.2,262.5 1477.4,264.6 1477.6,266.6 1477.8,268.6 1478,270.6 1478.2,272.6 1478.4,274.6 1478.6,276.6 1478.7,278.6 1478.9,280.6 1479.1,282.6 1479.2,284.6 1479.4,286.6 1479.5,288.6 1479.7,290.7 1479.8,292.7 1480,294.7 1480.1,296.7 1480.3,298.7 1480.5,300.7 1480.7,302.7 1480.9,304.7 1481,306.7 1481.2,308.7 1481.3,310.7 1481.4,312.7 1481.4,314.7 1481.4,316.8 1481.4,318.8 1481.3,320.8 1481.2,322.8 1481.1,324.8 1481,326.8 1480.9,328.8 1480.7,330.8 1480.6,332.8 1480.4,334.8 1480.3,336.8 1480,338.8 1479.7,340.8 1479.4,342.8 1479.1,344.9 1478.7,346.9 1478.4,348.9 1478,350.9 1477.7,352.9 1477.4,354.9 1477.2,356.9 1476.9,358.9 1476.7,360.9 1476.4,362.9 1476.2,364.9 1476,366.9 1475.7,368.9 1475.4,371 1475.1,373 1474.8,375 1474.5,377 1474.1,379 1473.8,381 1473.4,383L1472.4,383Z" fill="#d98b5f"/>
<line x1="1472.4" y1="118" x2="1472.4" y2="411" stroke="#4a4a4a" stroke-width="1.6"/>
<line x1="1472.4" y1="323" x2="1472.4" y2="399" stroke="#4a4a4a" stroke-width="4.2"/>
<circle cx="1472.4" cy="368" r="1.5" fill="#8a8a8a"/>
<rect x="1224" y="103.3" width="271" height="326.5" fill="none" stroke="#111" stroke-width="2.9"/>
<text x="203" y="473.1" font-size="44.3" font-weight="bold" text-anchor="middle" textLength="52.8" lengthAdjust="spacingAndGlyphs" fill="#c44e52">LF</text>
<path d="M90.1,507L89.1,507 89.1,509 89.1,511 89.1,513 89.1,515 89.1,517 89.1,519 89.1,521 89.1,523 89.1,525 89.1,527 89.1,529 89.1,531 89.1,533 89.1,535 89.1,537 89.1,539 89.1,541 89.1,543 89,545 89,547 89,549 89,551 88.9,553 88.9,555 88.9,557 88.8,559 88.8,561 88.7,563 88.7,565 88.7,567 88.6,569 88.6,571 88.5,573 88.5,575 88.4,577 88.3,579 88.2,581 88.1,583 88,585 87.9,587 87.8,589 87.8,591 87.7,593 87.7,595 87.7,597 87.7,599 87.7,601 87.8,603 87.8,605 87.9,607 87.9,609 88,611 88,613 88.1,615 88.1,617 88.2,619 88.2,621 88.3,623 88.4,625 88.4,627 88.5,629 88.6,631 88.6,633 88.7,635 88.8,637 88.8,639 88.9,641 88.9,643 89,645 89,647 89,649 89.1,651 89.1,653 89.1,655 89.1,657 89.1,659 89.1,661 89.1,663 89.1,665 89.1,667 89.1,669 89.1,671 89.1,673 89.1,675 89.1,677 89,679 88.9,681 88.8,683 88.7,685 88.6,687 88.4,689 88.3,691 88.2,693 88.1,695 88,697 87.9,699 87.8,701 87.7,703 87.6,705 87.5,707 87.4,709 87.3,711 87.2,713 87.1,715 87,717 86.9,719 86.8,721 86.8,723 86.7,725 86.6,727 86.5,729 86.4,731 86.2,733 86.1,735 85.9,737 85.5,739 85.1,741 84.6,743 84,745 83.4,747 82.8,749 82.1,751 81.3,753 80.3,755 79.2,757 78.1,759 77.1,761 75.9,763 74.6,765 73.4,767 72.4,769 72.1,771 72.2,773 72.5,775 72.9,777 73.5,779 74.1,781 75.2,783 76.8,785 78.6,787 80.1,789 81.2,791 82.1,793L90.1,793Z" fill="#597dbf"/>
<path d="M90.1,499L90.1,499 90.2,501 90.4,503 90.6,505 90.7,507 90.9,509 91,511 91.1,513 91.1,515 91.1,517 91.1,519 91.1,521 91.1,523 91.1,525 91.1,527 91.1,529 91.1,531 91.1,533 91.1,535 91.1,537 91.1,539 91.1,541 91.1,543 91.1,545 91.1,547 91.1,549 91.1,551 91.1,553 91.1,555 91.1,557 91.1,559 91.1,561 91.1,563 91.1,565 91.1,567 91.1,569 91.1,571 91.1,573 91.1,575 91.1,577 91.1,579 91.1,581 91.1,583 91.1,585 91.1,587 91.1,589 91.1,591 91.2,593 91.2,595 91.2,597 91.2,599 91.3,601 91.3,603 91.3,605 91.3,607 91.4,609 91.4,611 91.4,613 91.5,615 91.5,617 91.6,619 91.6,621 91.6,623 91.7,625 91.7,627 91.8,629 92,631 92.1,633 92.3,635 92.4,637 92.6,639 92.8,641 92.9,643 93.1,645 93.2,647 93.4,649 93.6,651 93.8,653 94,655 94.1,657 94.3,659 94.4,661 94.5,663 94.5,665 94.5,667 94.4,669 94.4,671 94.3,673 94.3,675 94.2,677 94.2,679 94.1,681 94.1,683 94.1,685 94.1,687 94.1,689 94.2,691 94.3,693 94.4,695 94.5,697 94.7,699 94.8,701 94.9,703 95.1,705 95.2,707 95.4,709 95.6,711 95.7,713 95.9,715 96.2,717 96.4,719 96.6,721 96.8,723 97.1,725 97.4,727 97.7,729 98.1,731 98.5,733 98.9,735 99.3,737 99.6,739 99.8,741 100,743 100.1,745 100.1,747 100,749 100,751 99.9,753 99.8,755 99.7,757 99.6,759 99.4,761 99.2,763 99.1,765 98.8,767 98.5,769 98,771 97.5,773 96.9,775 96.3,777 95.7,779 95.1,781 94.5,783 93.8,785 93.1,787 92.4,789 91.7,791L90.1,791Z" fill="#d98b5f"/>
<line x1="90.1" y1="499" x2="90.1" y2="793" stroke="#4a4a4a" stroke-width="1.6"/>
<line x1="90.1" y1="688" x2="90.1" y2="775" stroke="#4a4a4a" stroke-width="4.2"/>
<circle cx="90.1" cy="746" r="1.5" fill="#8a8a8a"/>
<path d="M135.2,529L135.2,529 135.1,531 134.9,533 134.8,535 134.7,537 134.5,539 134.4,541 134.3,543 134.1,545 134,547 133.9,549 133.8,551 133.7,553 133.7,555 133.6,557 133.5,559 133.4,561 133.4,563 133.3,565 133.3,567 133.2,569 133.2,571 133.1,573 133.1,575 133.1,577 133,579 133,581 132.9,583 132.8,585 132.8,587 132.7,589 132.6,591 132.6,593 132.5,595 132.4,597 132.3,599 132.3,601 132.3,603 132.2,605 132.2,607 132.2,609 132.2,611 132.2,613 132.2,615 132.2,617 132.2,619 132.2,621 132.2,623 132.2,625 132.3,627 132.3,629 132.4,631 132.6,633 132.7,635 132.8,637 133,639 133.1,641 133.2,643 133.2,645 133.3,647 133.3,649 133.4,651 133.4,653 133.5,655 133.5,657 133.5,659 133.5,661 133.6,663 133.6,665 133.6,667 133.6,669 133.6,671 133.6,673 133.7,675 133.7,677 133.7,679 133.7,681 133.7,683 133.7,685 133.7,687 133.7,689 133.7,691 133.7,693 133.7,695 133.6,697 133.6,699 133.6,701 133.6,703 133.5,705 133.5,707 133.4,709 133.4,711 133.3,713 133.2,715 133.2,717 133,719 132.8,721 132.5,723 132.2,725 131.9,727 131.5,729 131.1,731 130.7,733 130.2,735 129.7,737 128.9,739 128,741 127.1,743 126.1,745 125.2,747 124.4,749 123.5,751 122.6,753 121.8,755 121,757 120.2,759 119.5,761 118.8,763 118,765 117.4,767 117,769 116.8,771 117,773 117.4,775 117.9,777 118.6,779 119.4,781 120.2,783 121.4,785 123.1,787 124.8,789 126.2,791 127.3,793 128.2,795L135.2,795Z" fill="#597dbf"/>
<path d="M135.2,547L135.2,547 136.3,549 137.3,551 138.2,553 139.2,555 140.1,557 140.8,559.1 141.3,561.1 141.5,563.1 141.7,565.1 141.9,567.1 142,569.1 142.2,571.1 142.2,573.1 142.2,575.1 142.2,577.1 142.2,579.1 142.1,581.1 141.9,583.2 141.8,585.2 141.7,587.2 141.5,589.2 141.4,591.2 141.3,593.2 141.2,595.2 141.2,597.2 141.1,599.2 141.1,601.2 141,603.2 141,605.2 140.9,607.3 140.9,609.3 140.9,611.3 140.9,613.3 140.9,615.3 140.9,617.3 140.9,619.3 140.9,621.3 140.9,623.3 141,625.3 141,627.3 141.1,629.3 141.1,631.4 141.2,633.4 141.3,635.4 141.3,637.4 141.4,639.4 141.5,641.4 141.6,643.4 141.7,645.4 141.8,647.4 141.9,649.4 142.1,651.4 142.2,653.4 142.3,655.5 142.4,657.5 142.5,659.5 142.6,661.5 142.7,663.5 142.8,665.5 142.9,667.5 143,669.5 143.1,671.5 143.2,673.5 143.3,675.5 143.4,677.5 143.5,679.6 143.7,681.6 143.8,683.6 143.9,685.6 144,687.6 144.1,689.6 144.2,691.6 144.2,693.6 144.2,695.6 144.2,697.6 144.1,699.6 144,701.6 143.8,703.7 143.7,705.7 143.5,707.7 143.3,709.7 143.1,711.7 143,713.7 142.8,715.7 142.6,717.7 142.5,719.7 142.3,721.7 142.1,723.7 142,725.7 141.8,727.8 141.6,729.8 141.5,731.8 141.3,733.8 141.2,735.8 141.1,737.8 141,739.8 140.9,741.8 140.8,743.8 140.7,745.8 140.6,747.8 140.5,749.8 140.4,751.9 140.3,753.9 140.2,755.9 140,757.9 139.9,759.9 139.7,761.9 139.5,763.9 139.3,765.9 139.1,767.9 138.9,769.9 138.6,771.9 138.4,773.9 138.1,776 137.8,778 137.5,780 137.1,782 136.7,784 136.2,786L135.2,786Z" fill="#d98b5f"/>
<line x1="135.2" y1="529" x2="135.2" y2="795" stroke="#4a4a4a" stroke-width="1.6"/>
<line x1="135.2" y1="636" x2="135.2" y2="775" stroke="#4a4a4a" stroke-width="4.2"/>
<circle cx="135.2" cy="733" r="1.5" fill="#8a8a8a"/>
<path d="M180.4,537L180.4,537 180.4,539 180.3,541 180.2,543 180.2,545 180.1,547 180.1,549 180,551.1 180,553.1 179.9,555.1 179.9,557.1 179.8,559.1 179.8,561.1 179.7,563.1 179.7,565.1 179.6,567.1 179.6,569.1 179.5,571.1 179.5,573.1 179.4,575.1 179.4,577.2 179.3,579.2 179.3,581.2 179.2,583.2 179.2,585.2 179.1,587.2 179.1,589.2 179,591.2 179,593.2 178.9,595.2 178.9,597.2 178.9,599.2 178.8,601.3 178.8,603.3 178.8,605.3 178.9,607.3 179.1,609.3 179.2,611.3 179.4,613.3 179.4,615.3 179.4,617.3 179.3,619.3 179.2,621.3 179.1,623.3 179,625.3 178.9,627.4 178.8,629.4 178.6,631.4 178.5,633.4 178.4,635.4 178.3,637.4 178.2,639.4 178,641.4 177.9,643.4 177.8,645.4 177.6,647.4 177.5,649.4 177.5,651.4 177.4,653.5 177.4,655.5 177.4,657.5 177.4,659.5 177.4,661.5 177.4,663.5 177.4,665.5 177.4,667.5 177.4,669.5 177.4,671.5 177.4,673.5 177.4,675.5 177.4,677.6 177.4,679.6 177.4,681.6 177.4,683.6 177.4,685.6 177.4,687.6 177.4,689.6 177.4,691.6 177.4,693.6 177.4,695.6 177.4,697.6 177.4,699.6 177.4,701.6 177.4,703.7 177.4,705.7 177.4,707.7 177.4,709.7 177.4,711.7 177.4,713.7 177.4,715.7 177.4,717.7 177.3,719.7 177.3,721.7 177.2,723.7 177.1,725.7 177,727.7 176.8,729.8 176.7,731.8 176.5,733.8 176.3,735.8 176.1,737.8 175.8,739.8 175.4,741.8 174.9,743.8 174.4,745.8 173.8,747.8 173.1,749.8 172.1,751.8 170.7,753.9 169.3,755.9 168,757.9 167,759.9 165.9,761.9 164.8,763.9 163.7,765.9 162.9,767.9 162.5,769.9 162.5,771.9 162.8,773.9 163.4,775.9 164.2,777.9 165,780 165.8,782 166.6,784 167.6,786 168.8,788 170.4,790 173.4,792L180.4,792Z" fill="#597dbf"/>
<path d="M180.4,505L180.4,505 180.8,507 181.2,509 181.5,511 181.8,513 182,515 182.2,517 182.3,519 182.4,521 182.5,523 182.6,525 182.7,527 182.7,529 182.8,531 182.8,533 182.8,535 182.8,537 182.8,539 182.8,541 182.7,543 182.7,545 182.6,547 182.6,549 182.5,551 182.5,553 182.4,555 182.3,557 182.2,559 182.1,561 182,563 181.8,565 181.7,567 181.6,569 181.5,571 181.4,573 181.4,575 181.4,577 181.4,579 181.4,581 181.4,583 181.4,585 181.4,587 181.4,589 181.4,591 181.4,593 181.4,595 181.4,597 181.5,599 181.7,601 181.8,603 182,605 182.3,607 182.5,609 182.8,611 183.1,613 183.4,615 183.8,617 184.4,619 185.2,621 186,623 186.8,625 187.6,627 188.3,629 188.9,631 189.3,633 189.4,635 189.4,637 189.3,639 189.1,641 188.8,643 188.6,645 188.3,647 188,649 187.8,651 187.6,653 187.4,655 187.3,657 187.1,659 187,661 186.9,663 186.8,665 186.6,667 186.5,669 186.5,671 186.4,673 186.4,675 186.4,677 186.5,679 186.6,681 186.8,683 187,685 187.1,687 187.4,689 187.6,691 187.8,693 188,695 188.3,697 188.6,699 189,701 189.4,703 189.8,705 190.1,707 190.3,709 190.4,711 190.4,713 190.3,715 190.2,717 190,719 189.8,721 189.6,723 189.4,725 189.2,727 188.9,729 188.5,731 188.2,733 187.8,735 187.3,737 186.9,739 186.4,741 185.9,743 185.4,745 184.9,747 184.3,749 183.7,751 183.1,753 182.4,755L180.4,755Z" fill="#d98b5f"/>
<line x1="180.4" y1="505" x2="180.4" y2="792" stroke="#4a4a4a" stroke-width="1.6"/>
<line x1="180.4" y1="653" x2="180.4" y2="771" stroke="#4a4a4a" stroke-width="4.2"/>
<circle cx="180.4" cy="716" r="1.5" fill="#8a8a8a"/>
<path d="M225.6,539L225.6,539 225.3,541 225.1,543 224.8,545 224.6,547 224.4,549 224.2,551 224.1,553 224,555 223.9,557 223.9,559 223.8,561 223.8,563 223.8,565 223.8,567 223.7,569 223.7,571 223.6,573 223.6,575 223.5,577 223.3,579 223.1,581 222.9,583 222.7,585 222.5,587 222.3,589 222.1,591 222,593 222,595 222,597 222.1,599 222.3,601 222.5,603 222.8,605 223,607 223.2,609 223.4,611 223.5,613 223.6,615 223.6,617 223.5,619 223.4,621 223.3,623 223.2,625 223.1,627 223,629 222.8,631 222.7,633 222.6,635 222.4,637 222.3,639 222.1,641 221.9,643 221.7,645 221.6,647 221.6,649 221.6,651 221.6,653 221.7,655 221.7,657 221.8,659 221.9,661 221.9,663 222,665 222,667 222.1,669 222.2,671 222.3,673 222.4,675 222.4,677 222.5,679 222.5,681 222.6,683 222.6,685 222.6,687 222.6,689 222.6,691 222.6,693 222.6,695 222.6,697 222.6,699 222.6,701 222.6,703 222.6,705 222.6,707 222.6,709 222.5,711 222.5,713 222.4,715 222.3,717 222.3,719 222.2,721 222.1,723 222,725 221.8,727 221.7,729 221.4,731 221.1,733 220.8,735 220.4,737 220,739 219.6,741 219.1,743 218.5,745 217.8,747 217.1,749 216.3,751 215.4,753 214.6,755 213.6,757 212.5,759 211.2,761 210.1,763 209.2,765 208.6,767 208.2,769 207.9,771 207.6,773 207.4,775 207.2,777 207.2,779 207.5,781 208.4,783 209.7,785 211.2,787 212.6,789 214.1,791 215.7,793 217.6,795L225.6,795Z" fill="#597dbf"/>
<path d="M225.6,527L225.6,527 226.3,529 226.9,531 227.4,533 227.6,535 227.6,537 227.5,539 227.5,541 227.4,543 227.4,545 227.3,547 227.3,549 227.2,551 227.2,553 227.2,555 227.2,557 227.3,559 227.3,561 227.4,563 227.6,565 228,567 228.8,569 229.8,571 230.8,573 231.6,575 232.2,577 232.9,579 233.6,581 234.3,583 234.9,585 235.4,587 235.9,589 236.3,591 236.5,593 236.6,595 236.4,597 236,599 235.3,601 234.6,603 233.7,605 232.9,607 232.2,609 231.6,611 231.1,613 230.5,615 230,617 229.5,619 229,621 228.5,623 228.1,625 227.8,627 227.7,629 227.6,631 227.6,633 227.6,635 227.7,637 227.7,639 227.8,641 227.9,643 228,645 228.1,647 228.2,649 228.3,651 228.4,653 228.6,655 228.8,657 229.1,659 229.4,661 229.9,663 230.3,665 230.8,667 231.3,669 231.8,671 232.2,673 232.6,675 232.9,677 233.3,679 233.7,681 234.1,683 234.5,685 234.9,687 235.2,689 235.4,691 235.5,693 235.6,695 235.6,697 235.5,699 235.4,701 235.3,703 235.2,705 235.1,707 234.9,709 234.8,711 234.7,713 234.6,715 234.5,717 234.4,719 234.3,721 234.2,723 234.2,725 234.1,727 234,729 233.9,731 233.7,733 233.6,735 233.4,737 233.1,739 232.7,741 232.3,743 231.7,745 231.2,747 230.6,749 229.9,751 229.3,753 228.6,755L225.6,755Z" fill="#d98b5f"/>
<line x1="225.6" y1="527" x2="225.6" y2="795" stroke="#4a4a4a" stroke-width="1.6"/>
<line x1="225.6" y1="628" x2="225.6" y2="774" stroke="#4a4a4a" stroke-width="4.2"/>
<circle cx="225.6" cy="700" r="1.5" fill="#8a8a8a"/>
<path d="M270.8,590L270.8,590 270.2,592 269.8,594 269.3,596 268.9,598 268.6,600 268.2,602 267.9,604 267.6,606 267.3,608 267,610 266.9,612 266.8,614 266.8,616 266.8,618 267,620 267.1,622 267.3,624 267.5,626 267.7,628 267.8,630 267.9,632 268.1,634 268.2,636 268.3,638 268.5,640 268.6,642 268.7,644 268.8,646 268.9,648 269.1,650 269.2,652 269.3,654 269.4,656 269.6,658 269.6,660 269.7,662 269.7,664 269.7,666 269.6,668 269.4,670 269.2,672 268.9,674 268.6,676 268.3,678 268.1,680 267.9,682 267.8,684 267.8,686 267.8,688 267.8,690 267.9,692 268,694 268,696 268.1,698 268.2,700 268.3,702 268.3,704 268.4,706 268.4,708 268.5,710 268.5,712 268.6,714 268.6,716 268.7,718 268.7,720 268.7,722 268.7,724 268.7,726 268.6,728 268.4,730 268.2,732 267.9,734 267.6,736 267.2,738 266.7,740 266.1,742 265.4,744 264.7,746 263.9,748 263.1,750 262.3,752 261.4,754 260.3,756 259.2,758 258.1,760 257.1,762 256.1,764 255.4,766 254.6,768 253.8,770 253.2,772 252.8,774 252.8,776 253.4,778 254.4,780 255.7,782 257.1,784 258.4,786 260,788 261.8,790 263.8,792L270.8,792Z" fill="#597dbf"/>
<path d="M270.8,595L270.8,595 272.7,597 273.8,599 273.9,601 274.1,603 274.2,605 274.3,607 274.3,609 274.4,611 274.3,613 274.2,615 274.1,617 274,619 273.9,621 273.8,623 273.6,625 273.4,627 273.2,629 273,631 272.8,633 272.8,635 272.8,637 273,639 273.3,641 273.6,643 273.9,645 274.2,647 274.5,649 274.8,651 274.9,653 275,655 275.2,657 275.3,659 275.4,661 275.6,663 275.8,665 276.1,667 276.5,669 277,671 277.4,673 277.8,675 278,677 278.1,679 278.3,681 278.5,683 278.8,685 279.3,687 280.1,689 280.8,691 281.1,693 281,695 280.5,697 279.8,699 279.1,701 278.3,703 277.8,705 277.3,707 276.9,709 276.5,711 276.1,713 275.7,715 275.3,717 274.8,719 274.2,721 273.5,723 272.8,725L270.8,725Z" fill="#d98b5f"/>
<line x1="270.8" y1="590" x2="270.8" y2="792" stroke="#4a4a4a" stroke-width="1.6"/>
<line x1="270.8" y1="665" x2="270.8" y2="774" stroke="#4a4a4a" stroke-width="4.2"/>
<circle cx="270.8" cy="698" r="1.5" fill="#8a8a8a"/>
<path d="M315.9,592L315.9,592 315.6,594 315.3,596 315,598 314.8,600 314.6,602 314.4,604 314.3,606 314.2,608 314.1,610 314,612 313.9,614 313.9,616 313.8,618 313.7,620 313.7,622 313.6,624 313.5,626 313.3,628 313.1,630 312.9,632 312.7,634 312.5,636 312.3,638 312.1,640 312,642 311.9,644 311.9,646 312.1,648 312.3,650 312.6,652 312.8,654 313,656 313.1,658 313.2,660 313.3,662 313.4,664 313.5,666 313.6,668 313.7,670 313.8,672 313.9,674 314,676 314.1,678 314.2,680 314.3,682 314.5,684 314.6,686 314.7,688 314.8,690 314.9,692 314.9,694 314.9,696 314.9,698 314.9,700 314.8,702 314.7,704 314.7,706 314.6,708 314.5,710 314.4,712 314.4,714 314.3,716 314.2,718 314.2,720 314.1,722 314,724 314,726 313.9,728 313.8,730 313.7,732 313.6,734 313.4,736 313.2,738 312.9,740 312.5,742 312,744 311.5,746 310.9,748 310.2,750 309.5,752 308.6,754 307.3,756 306,758 304.7,760 303.5,762 302.4,764 301.2,766 300,768 299,770 298.4,772 298.4,774 298.9,776 299.9,778 301,780 302.3,782 303.6,784 305.1,786 306.9,788 308.9,790L315.9,790Z" fill="#597dbf"/>
<path d="M315.9,535L315.9,535 316.8,537 317.6,539 318.1,541 318.3,543 318.3,545.1 318.2,547.1 318.1,549.1 317.9,551.1 317.7,553.1 317.3,555.1 316.9,557.1 316.6,559.1 316.5,561.1 316.5,563.1 316.6,565.2 316.6,567.2 316.7,569.2 316.8,571.2 316.9,573.2 316.9,575.2 317,577.2 317,579.2 317.1,581.2 317.1,583.2 317.2,585.3 317.2,587.3 317.3,589.3 317.4,591.3 317.4,593.3 317.5,595.3 317.6,597.3 317.7,599.3 317.8,601.3 318,603.3 318.1,605.4 318.2,607.4 318.4,609.4 318.6,611.4 318.8,613.4 319,615.4 319.2,617.4 319.5,619.4 319.9,621.4 320.3,623.4 320.8,625.5 321.2,627.5 321.7,629.5 322.2,631.5 322.6,633.5 323,635.5 323.5,637.5 324,639.5 324.5,641.5 324.8,643.5 324.9,645.6 324.8,647.6 324.5,649.6 324.1,651.6 323.5,653.6 323,655.6 322.3,657.6 321.7,659.6 320.5,661.6 319.2,663.6 318.2,665.7 317.9,667.7 317.9,669.7 317.9,671.7 317.9,673.7 317.9,675.7 317.9,677.7 317.9,679.7 317.9,681.7 317.9,683.7 317.9,685.8 318.1,687.8 318.4,689.8 318.8,691.8 319.4,693.8 320,695.8 320.7,697.8 321.3,699.8 322,701.8 322.6,703.8 323.2,705.9 323.9,707.9 324.6,709.9 325.3,711.9 325.9,713.9 326.3,715.9 326.3,717.9 325.8,719.9 325.1,721.9 324.2,723.9 323.3,726 322.5,728 321.7,730 320.8,732 319.9,734L315.9,734Z" fill="#d98b5f"/>
<line x1="315.9" y1="535" x2="315.9" y2="790" stroke="#4a4a4a" stroke-width="1.6"/>
<line x1="315.9" y1="647" x2="315.9" y2="774" stroke="#4a4a4a" stroke-width="4.2"/>
<circle cx="315.9" cy="717" r="1.5" fill="#8a8a8a"/>
<rect x="67.5" y="483.6" width="271" height="326.5" fill="none" stroke="#111" stroke-width="2.9"/>
<text x="492.2" y="473.1" font-size="44.3" font-weight="bold" text-anchor="middle" textLength="60.8" lengthAdjust="spacingAndGlyphs" fill="#c44e52">HF</text>
<path d="M379.3,499L379.3,499 379.3,501 379.3,503 379.2,505 379.2,507 379.2,509 379.2,511 379.2,513 379.2,515 379.2,517 379.2,519 379.2,521 379.1,523 379.1,525 379.1,527 379.1,529 379.1,531 379.1,533 379.1,535 379.1,537 379,539 379,541 379,543 379,545 379,547 379,549 379,551 379,553 378.9,555 378.9,557 378.9,559 378.9,561 378.9,563 378.9,565 378.9,567 378.9,569 378.8,571 378.8,573 378.8,575 378.8,577 378.8,579 378.8,581 378.8,583 378.7,585 378.7,587 378.7,589 378.7,591 378.7,593 378.7,595 378.7,597 378.7,599 378.6,601 378.6,603 378.6,605 378.6,607 378.6,609 378.6,611 378.6,613 378.6,615 378.6,617 378.5,619 378.5,621 378.5,623 378.5,625 378.5,627 378.5,629 378.5,631 378.5,633 378.5,635 378.4,637 378.4,639 378.4,641 378.4,643 378.4,645 378.4,647 378.3,649 378.3,651 378.3,653 378.3,655 378.3,657 378.2,659 378.2,661 378.1,663 378.1,665 378,667 378,669 377.9,671 377.9,673 377.8,675 377.8,677 377.7,679 377.7,681 377.7,683 377.7,685 377.7,687 377.7,689 377.7,691 377.7,693 377.7,695 377.7,697 377.7,699 377.7,701 377.7,703 377.7,705 377.6,707 377.4,709 377,711 376.7,713 376.3,715 375.9,717 375.5,719 375,721 374.5,723 374,725 373.4,727 372.9,729 372.3,731 371.8,733 371.3,735 370.8,737 370.3,739 369.8,741 369.3,743 368.9,745 368.4,747 367.9,749 367.4,751 366.8,753 366.3,755 365.6,757 364.9,759 364,761 363.2,763 362.5,765 361.9,767 361.4,769 361.3,771 361.4,773 361.9,775 362.6,777 363.4,779 364.3,781 365.7,783 367.6,785 369.7,787 371.3,789 372.5,791 373.5,793 374.3,795L379.3,795Z" fill="#597dbf"/>
<path d="M379.3,635L379.3,635 379.7,637 380.2,639 380.6,641 381,643 381.3,645 381.6,647 381.8,649 382.1,651 382.4,653 382.6,655 382.8,657 383,659 383.2,661 383.3,663 383.3,665 383.3,667 383.2,669 383.1,671 382.9,673 382.8,675 382.6,677 382.5,679 382.4,681 382.3,683 382.3,685 382.3,687 382.4,689 382.5,691 382.7,693 382.9,695 383.1,697 383.4,699 383.7,701 384,703 384.3,705 384.8,707 385.5,709 386.4,711 387.3,713 388.2,715 389,717 389.5,719 389.7,721 389.5,723 389.1,725 388.5,727 387.8,729 387.2,731 386.6,733 386.3,735 386.1,737 385.9,739 385.7,741 385.6,743 385.5,745 385.4,747 385.3,749 385.3,751 385.3,753 385.3,755 385.3,757 385.3,759 385.3,761 385.3,763 385.3,765 385.2,767 384.9,769 384.5,771 384,773 383.4,775 382.8,777 382.3,779 381.7,781 381.2,783 380.5,785 379.9,787L379.3,787Z" fill="#d98b5f"/>
<line x1="379.3" y1="499" x2="379.3" y2="795" stroke="#4a4a4a" stroke-width="1.6"/>
<line x1="379.3" y1="714" x2="379.3" y2="771" stroke="#4a4a4a" stroke-width="4.2"/>
<circle cx="379.3" cy="745" r="1.5" fill="#8a8a8a"/>
<path d="M424.4,665L424.4,665 423.1,667 422.3,669 422.1,671 422.8,673 423.4,675 423.4,677 423.4,679 423.4,681 423.4,683 423.4,685 423.4,687 423.4,689 423.4,691 423.4,693 423.4,695 423.4,697 423.4,699 423.3,701 423.2,703 423.1,705 423,707 422.9,709 422.7,711 422.6,713 422.4,715 422.3,717 422.1,719 421.9,721 421.7,723 421.5,725 421.2,727 420.8,729 420.4,731 419.7,733 418.6,735 417.1,737 415.7,739 414.4,741 413.4,743 412.8,745 412.1,747 411.6,749 411.4,751 411.8,753 412.7,755 413.9,757 415.2,759 416.1,761 416.4,763 416.4,765 416.4,767 416.4,769 416.4,771 413.9,773 409,775 406.4,777 407,779 408.4,781 410.3,783 412.4,785 415.1,787 418.4,789L424.4,789Z" fill="#597dbf"/>
<path d="M424.4,635L424.4,635 424.5,637 424.5,639 424.6,641 424.6,643 424.7,645 424.9,647 425,649 425.1,651 425.3,653 425.4,655 425.7,657 426.1,659 426.6,661 427.1,663 427.4,665 427.8,667 428,669 428.3,671 428.6,673 428.8,675 429.1,677 429.3,679 429.5,681 429.8,683 430.1,685 430.4,687 430.7,689 431.1,691 431.3,693 431.4,695 431.4,697 431.3,699 431.1,701 430.8,703 430.6,705 430.5,707 430.4,709 430.8,711 431.5,713 432.4,715 433.1,717 433.4,719 433.4,721 433.3,723 433.1,725 432.9,727 432.6,729 432.4,731 432.2,733 432.1,735 432,737 431.9,739 431.8,741 431.8,743 431.7,745 431.6,747 431.6,749 431.4,751 431.3,753 431.1,755 430.8,757 430.5,759 430.2,761 429.8,763 429.4,765 429,767 428.5,769 427.8,771 427.2,773 426.4,775L424.4,775Z" fill="#d98b5f"/>
<line x1="424.4" y1="635" x2="424.4" y2="789" stroke="#4a4a4a" stroke-width="1.6"/>
<line x1="424.4" y1="720" x2="424.4" y2="771" stroke="#4a4a4a" stroke-width="4.2"/>
<circle cx="424.4" cy="748" r="1.5" fill="#8a8a8a"/>
<path d="M469.6,719L469.6,719 468.5,721 467.5,723 466.9,725 466.6,727 466.7,729 466.9,731 467.1,733 467.2,735 466.4,737 464.5,739 462.6,741 460.8,743 458.9,745 457.3,747 456.6,749 456.8,751 457.4,753 458.2,755 459,757 459.6,759 460.2,761 460.9,763 461.4,765 461.6,767 460.5,769 458.1,771 455.4,773 453.6,775 452.7,777 451.9,779 451.6,781 453.6,783 458.6,785 466.6,787L469.6,787Z" fill="#597dbf"/>
<path d="M469.6,623L469.6,623 471.6,625 472.6,627 472.6,629 472.6,631 472.6,633 472.6,635 472.1,637 471.1,639 470.6,641 470.6,643 470.7,645 470.9,647 471,649 471.2,651 471.4,653 471.6,655 471.8,657 472.1,659 472.5,661 472.8,663 473.2,665 473.7,667 474.1,669 474.6,671 475.1,673 475.6,675 476.3,677 477.1,679 478,681 478.8,683 479.4,685 479.6,687 479.4,689 478.8,691 478.1,693 477.4,695 476.8,697 476.6,699 477.1,701 478.1,703 479.1,705 479.6,707 479.5,709 479.1,711 478.6,713 478,715 477.4,717 476.9,719 476.6,721 476.4,723 476.2,725 476,727 475.9,729 475.7,731 475.6,733 475.6,735 475.6,737 475.6,739 475.6,741 475.6,743 475.6,745 475.6,747 475.6,749 475.6,751 475.5,753 475.3,755 475,757 474.7,759 474.3,761 473.9,763 473.6,765 473.3,767 473,769 472.8,771 472.5,773 472.2,775 471.9,777 471.6,779L469.6,779Z" fill="#d98b5f"/>
<line x1="469.6" y1="623" x2="469.6" y2="787" stroke="#4a4a4a" stroke-width="1.6"/>
<line x1="469.6" y1="720" x2="469.6" y2="763" stroke="#4a4a4a" stroke-width="4.2"/>
<circle cx="469.6" cy="747" r="1.5" fill="#8a8a8a"/>
<path d="M514.8,589L513.8,589 513.1,591 512.6,593 512.4,595 512.4,597 512.6,599 512.8,601 513,603 513.2,605 513.4,607 513.7,609 513.9,611 514.1,613 514.2,615 514.2,617 514.2,619 514.2,621 514.2,623 514.2,625 514.2,627 514.2,629 514.2,631 514.2,633 514.2,635 514.2,637 514.2,639 514.2,641 514.2,643 514.2,645 514.2,647 514.2,649 514.2,651 514.2,653 514.2,655 514.2,657 514.2,659 514.2,661 514.2,663 514.2,665 514.2,667 514.2,669 514.2,671 514.2,673 514.2,675 514.2,677 514.2,679 514.2,681 514.2,683 514.2,685 514.2,687 514.1,689 514.1,691 514.1,693 514.1,695 514.1,697 514.1,699 514,701 514,703 514,705 513.9,707 513.9,709 513.9,711 513.8,713 513.8,715 513.6,717 513.3,719 512.8,721 512.2,723 511.5,725 510.8,727 510,729 508.9,731 507.7,733 506.4,735 505.1,737 503.9,739 502.8,741 501.7,743 500.4,745 499.2,747 498.2,749 497.5,751 497.2,753 497.2,755 497.4,757 497.6,759 497.8,761 498.1,763 498.5,765 498.8,767 499.1,769 499.5,771 500,773 500.5,775 501.1,777 501.8,779 502.6,781 503.5,783 504.7,785 506.1,787 507.8,789 510.8,791L514.8,791Z" fill="#597dbf"/>
<path d="M514.8,645L514.8,645 516.3,647 517.8,649 519.1,651 520,653 520.4,655 520.4,657 520.4,659 520.3,661 520.3,663 520.2,665 520.1,667 520.1,669 520,671 519.9,673 519.8,675 519.6,677 519.4,679 519,681 518.7,683 518.3,685 518.1,687 517.9,689 517.8,691 518,693 518.5,695 519.3,697 520.3,699 521.2,701 522.1,703 522.8,705 523.4,707 524,709 524.6,711 525,713 525.2,715 525.1,717 524.7,719 524.3,721 523.8,723 523.2,725 522.8,727 522.3,729 521.9,731 521.4,733 520.9,735 520.5,737 520.1,739 519.8,741 519.5,743 519.3,745 519.2,747 519,749 518.8,751 518.6,753 518.4,755 518.1,757 517.8,759 517,761 515.8,763L514.8,763Z" fill="#d98b5f"/>
<line x1="514.8" y1="589" x2="514.8" y2="791" stroke="#4a4a4a" stroke-width="1.6"/>
<line x1="514.8" y1="712" x2="514.8" y2="761" stroke="#4a4a4a" stroke-width="4.2"/>
<circle cx="514.8" cy="747" r="1.5" fill="#8a8a8a"/>
<path d="M560,683L560,683 558,685 557.2,687 557.4,689.1 557.8,691.1 558,693.1 558.2,695.1 558.3,697.2 558.4,699.2 558.6,701.2 558.7,703.2 558.7,705.3 558.8,707.3 558.9,709.3 558.9,711.3 558.9,713.4 558.9,715.4 558.9,717.4 558.9,719.4 558.8,721.4 558.7,723.5 558.6,725.5 558.5,727.5 558.3,729.5 558,731.6 557.3,733.6 556.5,735.6 555.6,737.6 554.7,739.7 553.6,741.7 552.5,743.7 551.1,745.7 549.7,747.8 548,749.8 545.4,751.8 542.9,753.8 542.2,755.8 543.2,757.9 544.9,759.9 546.7,761.9 548.6,763.9 550.6,766 551.9,768 551.5,770 549.8,772 547.8,774.1 544.9,776.1 542.7,778.1 543.1,780.1 545.5,782.2 548.4,784.2 552.4,786.2L560,786.2Z" fill="#597dbf"/>
<path d="M560,670.2L560,670.2 561.1,672.2 562.3,674.2 563.5,676.2 564.7,678.2 566,680.2 567.2,682.2 568.3,684.3 569.3,686.3 570.1,688.3 570,690.3 569.2,692.3 568,694.3 567.1,696.3 566.4,698.3 565.9,700.3 565.4,702.3 564.9,704.3 564.5,706.3 564,708.4 563.6,710.4 563.1,712.4 562.8,714.4 562.7,716.4 562.5,718.4 562.4,720.4 562.3,722.4 562.2,724.4 562.1,726.4 562.1,728.4 562,730.4 562,732.5 562,734.5 562,736.5 562,738.5 562.2,740.5 562.3,742.5 562.5,744.5 562.7,746.5 562.8,748.5 562.9,750.5 562.9,752.5 562.9,754.5 562.8,756.6 562.6,758.6 562.3,760.6 562,762.6 561.6,764.6 560.8,766.6 560,768.6L560,768.6Z" fill="#d98b5f"/>
<line x1="560" y1="670.2" x2="560" y2="786.2" stroke="#4a4a4a" stroke-width="1.6"/>
<line x1="560" y1="705" x2="560" y2="764.8" stroke="#4a4a4a" stroke-width="4.2"/>
<circle cx="560" cy="753.6" r="1.5" fill="#8a8a8a"/>
<path d="M605.1,718L605.1,718 599.4,720.1 597.8,722.1 597.1,724.2 597.4,726.2 598.5,728.3 599.9,730.3 601,732.4 601.3,734.4 600.3,736.5 598.7,738.5 597.3,740.6 596.7,742.7 597.2,744.7 597.9,746.8 597.9,748.8 595.7,750.9 592.6,752.9 590,755 589.4,757 590.8,759.1 592.8,761.1 594.6,763.2 596.9,765.3 598.7,767.3 598.9,769.4 596.4,771.4 593.1,773.5 590.3,775.5 587.5,777.6 587.2,779.6 589.9,781.7 593.8,783.7 599.1,785.8L605.1,785.8Z" fill="#597dbf"/>
<path d="M605.1,672.4L608.3,672.4 609.8,674.4 610.8,676.4 611.1,678.4 610.7,680.4 609.8,682.4 609,684.4 608.4,686.4 608.4,688.4 609.3,690.4 610.6,692.4 612,694.4 613.1,696.5 613.9,698.5 614.6,700.5 614.9,702.5 614.6,704.5 613.9,706.5 613.1,708.5 612.2,710.5 610.9,712.5 609.3,714.5 607.7,716.5 606.8,718.5 606.6,720.5 606.6,722.5 606.5,724.5 606.4,726.5 606.4,728.5 606.3,730.5 606.3,732.5 606.3,734.5 606.3,736.5 606.3,738.5 606.4,740.5 606.5,742.5 606.5,744.5 606.6,746.6 606.7,748.6 606.8,750.6 607,752.6 607.1,754.6 607.3,756.6 607.6,758.6 608,760.6 608.2,762.6 608.2,764.6 607,766.6 605.1,768.6L605.1,768.6Z" fill="#d98b5f"/>
<line x1="605.1" y1="672.4" x2="605.1" y2="785.8" stroke="#4a4a4a" stroke-width="1.6"/>
<line x1="605.1" y1="712.6" x2="605.1" y2="765.8" stroke="#4a4a4a" stroke-width="4.2"/>
<circle cx="605.1" cy="749" r="1.5" fill="#8a8a8a"/>
<rect x="356.7" y="483.6" width="271" height="326.5" fill="none" stroke="#111" stroke-width="2.9"/>
<text x="781.3" y="473.1" font-size="44.3" font-weight="bold" text-anchor="middle" textLength="113.6" lengthAdjust="spacingAndGlyphs" fill="#c44e52">LFHF</text>
<path d="M668.4,506L668.4,506 668.3,508 668.2,510 668.2,512 668.1,514 668,516 667.9,518 667.9,520 667.8,522 667.7,524 667.7,526 667.6,528 667.5,530 667.5,532 667.4,534 667.4,536 667.3,538 667.2,540 667.2,542 667.1,544 667.1,546 667,548 667,550 666.9,552 666.9,554 666.8,556 666.8,558 666.7,560 666.7,562 666.6,564 666.6,566 666.6,568 666.5,570 666.5,572 666.4,574 666.4,576 666.3,578 666.2,580 666.2,582 666.1,584 666.1,586 666,588 665.9,590 665.9,592 665.8,594 665.7,596 665.7,598 665.6,600 665.6,602 665.5,604 665.5,606 665.4,608 665.4,610 665.4,612 665.4,614 665.4,616 665.4,618 665.4,620 665.4,622 665.5,624 665.5,626 665.6,628 665.6,630 665.6,632 665.7,634 665.8,636 665.8,638 665.9,640 665.9,642 666,644 666,646 666.1,648 666.1,650 666.2,652 666.3,654 666.3,656 666.4,658 666.5,660 666.5,662 666.6,664 666.7,666 666.7,668 666.7,670 666.8,672 666.8,674 666.8,676 666.8,678 666.7,680 666.7,682 666.6,684 666.5,686 666.4,688 666.3,690 666.2,692 666,694 665.9,696 665.8,698 665.6,700 665.3,702 665.1,704 664.8,706 664.5,708 664.2,710 663.9,712 663.6,714 663.2,716 662.8,718 662.4,720 661.9,722 661.4,724 660.9,726 660.3,728 659.8,730 659.2,732 658.7,734 658.1,736 657.5,738 656.9,740 656.2,742 655.6,744 654.9,746 654.3,748 653.7,750 653.1,752 652.4,754 651.6,756 650.9,758 650.3,760 650,762 650,764 650.2,766 650.5,768 650.9,770 651.5,772 652.1,774 652.8,776 653.9,778 655.4,780 657,782 658.6,784 660.1,786 661.5,788 662.9,790 664.4,792L668.4,792Z" fill="#597dbf"/>
<path d="M668.4,555L668.4,555 668.5,557 668.6,559 668.7,561 668.9,563 669,565 669.1,567 669.2,569 669.3,571 669.4,573 669.5,575 669.6,577 669.7,579 669.8,581 669.9,583 670,585 670.1,587 670.2,589 670.3,591 670.4,593 670.5,595 670.6,597 670.7,599 670.7,601 670.8,603 670.8,605 670.7,607 670.6,609 670.5,611 670.3,613 670.1,615 669.9,617 669.7,619 669.5,621 669.4,623 669.4,625 669.4,627 669.4,629 669.4,631 669.4,633 669.4,635 669.4,637 669.4,639 669.4,641 669.4,643 669.4,645 669.4,647 669.4,649 669.4,651 669.4,653 669.4,655 669.4,657 669.4,659 669.5,661 669.5,663 669.6,665 669.7,667 669.7,669 669.8,671 669.9,673 670,675 670.1,677 670.2,679 670.3,681 670.4,683 670.6,685 670.7,687 670.9,689 671.1,691 671.2,693 671.4,695 671.6,697 671.7,699 671.9,701 672.1,703 672.3,705 672.5,707 672.7,709 672.9,711 673.2,713 673.4,715 673.6,717 673.9,719 674.1,721 674.4,723 674.7,725 674.9,727 675.2,729 675.5,731 675.7,733 676,735 676.3,737 676.6,739 676.9,741 677.2,743 677.5,745 677.8,747 678,749 678.2,751 678.3,753 678.4,755 678.3,757 678.2,759 678,761 677.7,763 677.4,765 677.1,767 676.7,769 676.4,771 676,773 675.5,775 674.9,777 674.3,779 673.7,781 673,783 672.4,785 671.7,787 671,789 670.2,791 669.4,793L668.4,793Z" fill="#d98b5f"/>
<line x1="668.4" y1="506" x2="668.4" y2="793" stroke="#4a4a4a" stroke-width="1.6"/>
<line x1="668.4" y1="699" x2="668.4" y2="767" stroke="#4a4a4a" stroke-width="4.2"/>
<circle cx="668.4" cy="746" r="1.5" fill="#8a8a8a"/>
<path d="M713.5,499L713.5,499 713.5,501 713.4,503 713.4,505 713.3,507 713.3,509 713.2,511 713.1,513 713.1,515 713,517 713,519 712.9,521 712.9,523 712.8,525 712.8,527 712.7,529 712.7,531 712.6,533 712.5,535 712.5,537 712.4,539 712.4,541 712.3,543 712.3,545 712.3,547 712.2,549 712.2,551 712.1,553 712.1,555 712,557 712,559 711.9,561 711.9,563 711.8,565 711.8,567 711.7,569 711.7,571 711.6,573 711.5,575 711.5,577 711.4,579 711.3,581 711.3,583 711.2,585 711.1,587 711,589 710.9,591 710.8,593 710.7,595 710.7,597 710.6,599 710.6,601 710.6,603 710.5,605 710.6,607 710.6,609 710.6,611 710.7,613 710.7,615 710.8,617 710.8,619 710.9,621 710.9,623 711,625 711,627 711.1,629 711.1,631 711.1,633 711.1,635 711.1,637 711,639 710.9,641 710.7,643 710.6,645 710.3,647 710.1,649 709.9,651 709.7,653 709.5,655 709.4,657 709.1,659 708.9,661 708.7,663 708.6,665 708.5,667 708.6,669 708.7,671 708.8,673 709,675 709.1,677 709.3,679 709.4,681 709.5,683 709.5,685 709.5,687 709.5,689 709.4,691 709.4,693 709.2,695 709.1,697 709,699 708.9,701 708.7,703 708.5,705 708.4,707 708.1,709 707.8,711 707.4,713 706.9,715 706.5,717 706,719 705.5,721 705,723 704.5,725 704,727 703.5,729 702.9,731 702.3,733 701.6,735 701,737 700.3,739 699.7,741 699.1,743 698.5,745 698,747 697.3,749 696.7,751 696.1,753 695.6,755 695.3,757 695.1,759 695.2,761 695.4,763 695.7,765 696.1,767 696.5,769 697,771 697.5,773 698.3,775 699.3,777 700.6,779 701.9,781 703.3,783 704.5,785 705.7,787 706.9,789 708.1,791 709.3,793 710.5,795L713.5,795Z" fill="#597dbf"/>
<path d="M713.5,514L713.5,514 714.8,516 715.7,518 716,520 716.2,522 716.3,524 716.4,526 716.4,528 716.5,530 716.5,532 716.5,534 716.5,536 716.5,538 716.4,540 716.2,542 716,544 715.8,546 715.6,548 715.4,550 715.3,552 715.2,554 715.1,556 715.1,558 715,560 715,562 714.9,564 714.9,566 714.8,568 714.8,570 714.8,572 714.7,574 714.7,576 714.7,578 714.6,580 714.6,582 714.6,584 714.6,586 714.6,588 714.6,590 714.6,592 714.6,594 714.6,596 714.6,598 714.6,600 714.6,602 714.7,604 714.7,606 714.8,608 714.9,610 714.9,612 715,614 715.1,616 715.2,618 715.2,620 715.3,622 715.4,624 715.4,626 715.5,628 715.5,630 715.5,632 715.5,634 715.5,636 715.5,638 715.5,640 715.4,642 715.4,644 715.3,646 715.3,648 715.2,650 715.2,652 715.2,654 715.2,656 715.2,658 715.2,660 715.2,662 715.2,664 715.3,666 715.3,668 715.4,670 715.5,672 715.5,674 715.6,676 715.7,678 715.9,680 716.1,682 716.3,684 716.5,686 716.7,688 717,690 717.2,692 717.4,694 717.6,696 717.8,698 718,700 718.2,702 718.4,704 718.6,706 718.8,708 719,710 719.2,712 719.4,714 719.7,716 720,718 720.4,720 720.8,722 721.2,724 721.5,726 721.9,728 722.2,730 722.4,732 722.5,734 722.5,736 722.5,738 722.4,740 722.3,742 722.2,744 722,746 721.8,748 721.6,750 721.4,752 721.2,754 721.1,756 720.9,758 720.6,760 720.4,762 720.1,764 719.9,766 719.6,768 719.3,770 719,772 718.8,774 718.5,776 718.3,778 718,780 717.7,782 717.3,784 716.8,786 716.1,788 714.5,790L713.5,790Z" fill="#d98b5f"/>
<line x1="713.5" y1="499" x2="713.5" y2="795" stroke="#4a4a4a" stroke-width="1.6"/>
<line x1="713.5" y1="644" x2="713.5" y2="763" stroke="#4a4a4a" stroke-width="4.2"/>
<circle cx="713.5" cy="727" r="1.5" fill="#8a8a8a"/>
<path d="M758.7,553L758.7,553 758.6,555 758.4,557 758.3,559 758.1,561 758,563 757.8,565 757.7,567 757.5,569 757.4,571 757.3,573 757.1,575 757,577 756.8,579 756.6,581 756.4,583 756.2,585 756.1,587 755.9,589 755.8,591 755.7,593 755.7,595 755.7,597 755.7,599 755.7,601 755.7,603 755.7,605 755.7,607 755.7,609 755.7,611 755.7,613 755.7,615 755.7,617 755.6,619 755.6,621 755.5,623 755.3,625 755.2,627 755.1,629 754.9,631 754.8,633 754.7,635 754.6,637 754.5,639 754.4,641 754.2,643 754.1,645 754,647 753.9,649 753.8,651 753.7,653 753.7,655 753.7,657 753.7,659 753.7,661 753.7,663 753.7,665 753.7,667 753.7,669 753.7,671 753.7,673 753.7,675 753.7,677 753.5,679 753.3,681 753,683 752.6,685 752.3,687 751.9,689 751.5,691 751.1,693 750.7,695 750.3,697 749.9,699 749.3,701 748.8,703 748.3,705 747.8,707 747.4,709 747,711 746.8,713 746.7,715 746.8,717 747.1,719 747.5,721 748,723 748.5,725 749,727 749.4,729 749.7,731 750,733 750.3,735 750.5,737 750.7,739 750.7,741 750.5,743 749.9,745 749,747 747.9,749 746.7,751 745.7,753 744.7,755 743.8,757 742.7,759 741.7,761 741,763 740.7,765 740.9,767 741.4,769 742.1,771 742.9,773 743.7,775 744.6,777 745.7,779 747,781 748.3,783 749.7,785 751.2,787 752.9,789 754.7,791L758.7,791Z" fill="#597dbf"/>
<path d="M758.7,567L758.7,567 759.2,569 759.7,571 760.1,573 760.3,575 760.4,577 760.4,579 760.5,581 760.5,583 760.5,585 760.6,587 760.6,589 760.6,591 760.7,593 760.7,595 760.8,597 760.9,599 761,601 761.2,603 761.3,605 761.4,607 761.5,609 761.6,611 761.7,613 761.7,615 761.7,617 761.7,619 761.6,621 761.6,623 761.5,625 761.4,627 761.3,629 761.2,631 761.2,633 761.1,635 761.1,637 761,639 761,641 760.9,643 760.9,645 760.8,647 760.8,649 760.7,651 760.7,653 760.7,655 760.7,657 760.7,659 760.8,661 760.8,663 760.8,665 760.9,667 760.9,669 761,671 761,673 761.1,675 761.3,677 761.5,679 761.9,681 762.4,683 762.9,685 763.5,687 764.1,689 764.6,691 765.2,693 765.7,695 766.3,697 766.9,699 767.5,701 768.2,703 768.8,705 769.3,707 769.6,709 769.7,711 769.7,713 769.6,715 769.4,717 769.2,719 769,721 768.8,723 768.5,725 768.2,727 768,729 767.7,731 767.5,733 767.2,735 766.9,737 766.6,739 766.3,741 766,743 765.6,745 765.3,747 765,749 764.7,751 764.4,753 764.2,755 763.9,757 763.7,759 763.4,761 763.1,763 762.7,765 762.3,767 761.7,769 761.1,771 760.4,773 759.7,775L758.7,775Z" fill="#d98b5f"/>
<line x1="758.7" y1="553" x2="758.7" y2="791" stroke="#4a4a4a" stroke-width="1.6"/>
<line x1="758.7" y1="666" x2="758.7" y2="759" stroke="#4a4a4a" stroke-width="4.2"/>
<circle cx="758.7" cy="718" r="1.5" fill="#8a8a8a"/>
<path d="M803.9,534L803.9,534 803.5,536 803.2,538 802.8,540 802.5,542 802.1,544 801.7,546 801.2,548.1 800.8,550.1 800.3,552.1 799.8,554.1 799.4,556.1 799,558.1 798.7,560.1 798.4,562.1 798.1,564.1 797.8,566.1 797.6,568.1 797.3,570.1 797.1,572.1 796.9,574.2 796.8,576.2 796.7,578.2 796.5,580.2 796.4,582.2 796.2,584.2 796.1,586.2 796,588.2 796,590.2 795.9,592.2 795.9,594.2 795.9,596.2 795.9,598.2 795.9,600.3 795.9,602.3 795.9,604.3 795.9,606.3 795.9,608.3 795.9,610.3 795.9,612.3 795.9,614.3 795.9,616.3 796,618.3 796.1,620.3 796.3,622.3 796.5,624.3 796.8,626.4 797,628.4 797.3,630.4 797.6,632.4 797.8,634.4 798,636.4 798.3,638.4 798.6,640.4 798.8,642.4 799.1,644.4 799.4,646.4 799.6,648.4 799.8,650.4 800,652.5 800.2,654.5 800.4,656.5 800.6,658.5 800.7,660.5 800.8,662.5 800.9,664.5 800.9,666.5 800.8,668.5 800.7,670.5 800.5,672.5 800.3,674.5 800,676.5 799.8,678.6 799.5,680.6 799.2,682.6 798.9,684.6 798.7,686.6 798.4,688.6 798,690.6 797.7,692.6 797.3,694.6 796.9,696.6 796.5,698.6 796,700.6 795.5,702.6 795,704.7 794.3,706.7 793.5,708.7 792.6,710.7 791.7,712.7 791,714.7 790.5,716.7 790,718.7 789.6,720.7 789.2,722.7 788.8,724.7 788.5,726.7 788.2,728.7 787.9,730.8 787.6,732.8 787.3,734.8 787,736.8 786.7,738.8 786.5,740.8 786.3,742.8 786.3,744.8 786.3,746.8 786.3,748.8 786.3,750.8 786.3,752.8 786.3,754.8 786.3,756.9 786.3,758.9 786.4,760.9 786.6,762.9 787,764.9 787.4,766.9 788,768.9 788.6,770.9 789.2,772.9 789.9,774.9 790.6,776.9 791.5,778.9 792.5,780.9 793.6,783 794.7,785 795.9,787 797,789 798.3,791 799.5,793 800.9,795L803.9,795Z" fill="#597dbf"/>
<path d="M803.9,570L803.9,570 805,572 805.8,574 805.9,576 805.7,578 805.5,580 805.3,582.1 805,584.1 804.9,586.1 804.9,588.1 804.9,590.1 804.9,592.1 804.9,594.1 804.9,596.1 804.9,598.1 804.9,600.1 804.9,602.2 804.9,604.2 804.9,606.2 804.9,608.2 804.9,610.2 804.9,612.2 804.9,614.2 804.9,616.2 804.9,618.2 804.9,620.2 804.9,622.3 804.9,624.3 804.9,626.3 805.2,628.3 805.5,630.3 805.9,632.3 806.4,634.3 806.7,636.3 806.9,638.3 806.8,640.4 806.7,642.4 806.4,644.4 806,646.4 805.6,648.4 805.3,650.4 805,652.4 804.9,654.4 804.9,656.4 804.9,658.4 805,660.5 805,662.5 805.1,664.5 805.2,666.5 805.4,668.5 805.5,670.5 805.7,672.5 805.8,674.5 806.1,676.5 806.7,678.5 807.4,680.5 808.1,682.6 808.8,684.6 809.3,686.6 809.7,688.6 810.1,690.6 810.5,692.6 810.9,694.6 811.3,696.6 811.7,698.6 812,700.6 812.4,702.7 812.8,704.7 813.3,706.7 813.8,708.7 814.3,710.7 814.7,712.7 814.9,714.7 814.8,716.7 814.7,718.7 814.5,720.8 814.2,722.8 813.9,724.8 813.5,726.8 813.2,728.8 812.9,730.8 812.6,732.8 812.4,734.8 812.1,736.8 811.9,738.8 811.6,740.9 811.3,742.9 810.9,744.9 810.5,746.9 809.9,748.9 809.3,750.9 808.6,752.9 808,754.9 807.4,756.9 806.9,758.9 806.5,761 806.1,763 805.7,765 805.4,767 805.1,769 804.9,771L803.9,771Z" fill="#d98b5f"/>
<line x1="803.9" y1="534" x2="803.9" y2="795" stroke="#4a4a4a" stroke-width="1.6"/>
<line x1="803.9" y1="651" x2="803.9" y2="747" stroke="#4a4a4a" stroke-width="4.2"/>
<circle cx="803.9" cy="727" r="1.5" fill="#8a8a8a"/>
<path d="M849,517L849,517 848.4,519 847.7,521 847.2,523 847,525 847.1,527 847.1,529 847.1,531 847.2,533 847.2,535 847.3,537 847.3,539 847.4,541 847.4,543 847.4,545 847.5,547 847.5,549 847.6,551 847.6,553 847.7,555 847.7,557 847.8,559 847.8,561 847.9,563 847.9,565 848,567 848,569 848,571 848,573 848,575 848,577 847.7,579 847.4,581 847,583 846.5,585 846.1,587 845.7,589 845.4,591 845.1,593 845,595 845.1,597 845.2,599 845.4,601 845.6,603 845.9,605 846,607 846.2,609 846.4,611 846.6,613 846.8,615 846.9,617 847,619 847.1,621 847.2,623 847.3,625 847.3,627 847.4,629 847.4,631 847.4,633 847.4,635 847.4,637 847.3,639 847,641 846.7,643 846.4,645 846,647 845.4,649 844.4,651 843.4,653 843,655 843.2,657 843.6,659 844.1,661 844.6,663 845.1,665 845.4,667 845.7,669 845.9,671 846,673 846.2,675 846.4,677 846.5,679 846.6,681 846.6,683 846.6,685 846.6,687 846.5,689 846.4,691 846.2,693 846,695 845.8,697 845.5,699 845,701 844.5,703 843.9,705 843.4,707 842.8,709 842.2,711 841.6,713 841,715 840.5,717 840,719 839.5,721 839,723 838.5,725 838,727 837.5,729 837,731 836.5,733 836,735 835.6,737 835.1,739 834.5,741 834,743 833.5,745 833,747 832.6,749 832.3,751 832.1,753 832,755 832.1,757 832.2,759 832.5,761 832.7,763 833,765 833.6,767 834.4,769 835.4,771 836.6,773 837.8,775 839,777 840,779 841,781 842,783 843,785 844,787 845,789 846,791L849,791Z" fill="#597dbf"/>
<path d="M849,642L849,642 850.7,644 851,646 851,648 851,650 851,652 851,654 851,656 851,658 851,660 851,662 850.8,664 850.6,666 850.5,668 850.3,670 850.1,672 850.1,674 850.1,676 850.1,678 850.2,680 850.4,682 850.6,684 850.8,686 851.1,688 851.3,690 851.6,692 851.9,694 852.2,696 852.7,698 853.3,700 854,702 854.7,704 855.3,706 855.7,708 856,710 856,712 855.9,714 855.8,716 855.5,718 855.3,720 855.2,722 855.1,724 855.1,726 855.5,728 856.1,730 856.9,732 857.7,734 858.5,736 859.3,738 859.3,740 858.3,742 856.8,744 855.4,746 853.8,748 852,750L849,750Z" fill="#d98b5f"/>
<line x1="849" y1="517" x2="849" y2="791" stroke="#4a4a4a" stroke-width="1.6"/>
<line x1="849" y1="699" x2="849" y2="748" stroke="#4a4a4a" stroke-width="4.2"/>
<circle cx="849" cy="733" r="1.5" fill="#8a8a8a"/>
<path d="M894.2,562L894.2,562 893.1,564 892.1,566 891.4,568 891.1,570 890.8,572 890.6,574.1 890.5,576.1 890.3,578.1 890.1,580.1 889.8,582.1 889.4,584.1 889.1,586.1 888.8,588.1 888.6,590.1 888.6,592.1 888.8,594.1 889,596.2 889.2,598.2 889.5,600.2 889.8,602.2 890.1,604.2 890.4,606.2 890.7,608.2 891,610.2 891.3,612.2 891.6,614.2 891.9,616.2 892.1,618.2 892.3,620.3 892.5,622.3 892.7,624.3 892.8,626.3 893,628.3 893.1,630.3 893.2,632.3 893.2,634.3 893.2,636.3 893.2,638.3 893.1,640.3 893,642.4 892.9,644.4 892.8,646.4 892.7,648.4 892.6,650.4 892.4,652.4 892.3,654.4 892.1,656.4 891.9,658.4 891.6,660.4 891.3,662.4 891,664.5 890.7,666.5 890.3,668.5 890,670.5 889.6,672.5 889.3,674.5 889,676.5 888.7,678.5 888.4,680.5 888,682.5 887.7,684.5 887.4,686.5 887.1,688.6 886.8,690.6 886.5,692.6 886.3,694.6 886,696.6 885.8,698.6 885.5,700.6 885.2,702.6 885,704.6 884.7,706.6 884.5,708.6 884.4,710.7 884.3,712.7 884.2,714.7 884.2,716.7 884.3,718.7 884.4,720.7 884.6,722.7 884.7,724.7 884.9,726.7 885.1,728.7 885.2,730.7 885.3,732.8 885.5,734.8 885.7,736.8 885.9,738.8 886.1,740.8 886.2,742.8 886.2,744.8 886.1,746.8 885.8,748.8 885.3,750.8 884.6,752.8 883.9,754.8 883.1,756.9 882.3,758.9 881.2,760.9 879.6,762.9 878,764.9 876.8,766.9 876.2,768.9 876.4,770.9 876.8,772.9 877.4,774.9 878.2,776.9 879.2,779 880.2,781 881.6,783 883.4,785 885.7,787 888.2,789L894.2,789Z" fill="#597dbf"/>
<path d="M894.2,506L894.2,506 894.7,508 895.1,510 895.5,512 895.7,514 895.9,516 896,518 896.1,520.1 896.1,522.1 896.2,524.1 896.2,526.1 896.2,528.1 896.1,530.1 895.9,532.1 895.7,534.1 895.5,536.1 895.3,538.1 895.1,540.1 894.9,542.1 894.8,544.1 894.8,546.2 894.8,548.2 894.8,550.2 894.8,552.2 894.8,554.2 894.8,556.2 894.8,558.2 894.8,560.2 894.8,562.2 894.8,564.2 894.8,566.2 894.8,568.2 894.8,570.2 894.8,572.3 894.8,574.3 894.8,576.3 894.8,578.3 894.8,580.3 894.8,582.3 894.8,584.3 894.9,586.3 894.9,588.3 894.9,590.3 894.9,592.3 894.9,594.3 895,596.3 895,598.4 895,600.4 895,602.4 895.1,604.4 895.1,606.4 895.1,608.4 895.2,610.4 895.2,612.4 895.2,614.4 895.2,616.4 895.3,618.4 895.3,620.4 895.3,622.4 895.4,624.5 895.4,626.5 895.4,628.5 895.5,630.5 895.5,632.5 895.5,634.5 895.6,636.5 895.6,638.5 895.7,640.5 895.7,642.5 895.8,644.5 895.9,646.5 896,648.6 896.1,650.6 896.2,652.6 896.4,654.6 896.5,656.6 896.7,658.6 896.8,660.6 897,662.6 897.2,664.6 897.4,666.6 897.5,668.6 897.7,670.6 897.9,672.6 898.1,674.7 898.3,676.7 898.5,678.7 898.7,680.7 898.9,682.7 899.1,684.7 899.4,686.7 899.6,688.7 899.8,690.7 900,692.7 900.2,694.7 900.4,696.7 900.6,698.7 900.8,700.8 901,702.8 901.2,704.8 901.4,706.8 901.6,708.8 901.8,710.8 902,712.8 902.2,714.8 902.4,716.8 902.7,718.8 903,720.8 903.3,722.8 903.7,724.8 904,726.9 904.2,728.9 904.4,730.9 904.6,732.9 904.6,734.9 904.6,736.9 904.4,738.9 904.2,740.9 903.9,742.9 903.5,744.9 903.1,746.9 902.7,748.9 902.2,750.9 901.7,753 900.9,755 900.1,757 899.2,759 898.3,761 897.3,763 896.2,765L894.2,765Z" fill="#d98b5f"/>
<line x1="894.2" y1="506" x2="894.2" y2="789" stroke="#4a4a4a" stroke-width="1.6"/>
<line x1="894.2" y1="679" x2="894.2" y2="761" stroke="#4a4a4a" stroke-width="4.2"/>
<circle cx="894.2" cy="727" r="1.5" fill="#8a8a8a"/>
<rect x="645.8" y="483.6" width="271" height="326.5" fill="none" stroke="#111" stroke-width="2.9"/>
<text x="1070.4" y="473.1" font-size="44.3" font-weight="bold" text-anchor="middle" textLength="89.8" lengthAdjust="spacingAndGlyphs" fill="#c44e52">SD1</text>
<path d="M957.5,503L957.5,503 957,505 956.6,507 956.2,509 955.8,511 955.5,513 955.2,515 955.1,517 955,519.1 954.9,521.1 954.8,523.1 954.7,525.1 954.6,527.1 954.6,529.1 954.5,531.1 954.5,533.1 954.5,535.1 954.5,537.1 954.5,539.1 954.5,541.1 954.6,543.1 954.7,545.1 954.7,547.2 954.8,549.2 954.9,551.2 955,553.2 955,555.2 955.1,557.2 955.1,559.2 955.2,561.2 955.2,563.2 955.3,565.2 955.3,567.2 955.4,569.2 955.4,571.2 955.5,573.2 955.5,575.2 955.5,577.3 955.5,579.3 955.5,581.3 955.4,583.3 955.4,585.3 955.3,587.3 955.3,589.3 955.2,591.3 955.2,593.3 955.1,595.3 955.1,597.3 955,599.3 955,601.3 954.9,603.3 954.9,605.3 954.8,607.4 954.8,609.4 954.7,611.4 954.6,613.4 954.6,615.4 954.5,617.4 954.3,619.4 954.2,621.4 954,623.4 953.8,625.4 953.6,627.4 953.4,629.4 953.2,631.4 952.9,633.4 952.7,635.5 952.4,637.5 952.2,639.5 951.9,641.5 951.6,643.5 951.3,645.5 951,647.5 950.7,649.5 950.4,651.5 950.1,653.5 949.7,655.5 949.4,657.5 949,659.5 948.7,661.5 948.3,663.5 947.9,665.6 947.5,667.6 947.1,669.6 946.7,671.6 946.2,673.6 945.8,675.6 945.3,677.6 944.9,679.6 944.3,681.6 943.7,683.6 943.1,685.6 942.6,687.6 942,689.6 941.5,691.6 941,693.7 940.7,695.7 940.4,697.7 940.1,699.7 939.9,701.7 939.7,703.7 939.5,705.7 939.3,707.7 939.2,709.7 939.1,711.7 939.1,713.7 939.2,715.7 939.4,717.7 939.7,719.7 940,721.7 940.4,723.8 940.9,725.8 941.3,727.8 941.8,729.8 942.2,731.8 942.6,733.8 943.1,735.8 943.5,737.8 944,739.8 944.5,741.8 945,743.8 945.6,745.8 946.1,747.8 946.6,749.8 947.2,751.8 947.7,753.9 948.3,755.9 948.8,757.9 949.4,759.9 950,761.9 950.6,763.9 951.2,765.9 951.8,767.9 952.3,769.9 952.8,771.9 953.3,773.9 953.8,775.9 954.3,777.9 954.8,779.9 955.2,782 955.7,784 956,786 956.4,788 956.6,790 956.8,792 957,794 957.1,796L957.5,796Z" fill="#597dbf"/>
<path d="M957.5,573L957.5,573 958,575 958.4,577 958.8,579 959.1,581 959.2,583 959.4,585 959.5,587 959.5,589 959.6,591 959.7,593 959.8,595 959.9,597 960,599 960.1,601 960.3,603 960.4,605 960.6,607 960.7,609 960.9,611 961.1,613 961.3,615 961.5,617 961.7,619 961.9,621 962.2,623 962.5,625 962.8,627 963.1,629 963.4,631 963.8,633 964.1,635 964.5,637 964.9,639 965.4,641 966,643 966.6,645 967,647 967.4,649 967.5,651 967.4,653 967.1,655 966.7,657 966.2,659 965.7,661 965.2,663 964.8,665 964.5,667 964.2,669 964,671 963.7,673 963.5,675 963.3,677 963.1,679 962.9,681 962.8,683 962.6,685 962.5,687 962.4,689 962.3,691 962.2,693 962.1,695 962,697 962,699 961.9,701 961.8,703 961.6,705 961.5,707 961.2,709 960.9,711 960.4,713 959.9,715 959.3,717 958.7,719 958.1,721L957.5,721Z" fill="#d98b5f"/>
<line x1="957.5" y1="503" x2="957.5" y2="796" stroke="#4a4a4a" stroke-width="1.6"/>
<line x1="957.5" y1="635" x2="957.5" y2="712" stroke="#4a4a4a" stroke-width="4.2"/>
<circle cx="957.5" cy="676" r="1.5" fill="#8a8a8a"/>
<path d="M1002.6,514L1002.6,514 1002.3,516 1001.9,518 1001.6,520 1001.3,522 1001,524 1000.8,526 1000.6,528 1000.4,530 1000.2,532 1000,534 999.8,536 999.7,538 999.7,540 999.7,542 999.8,544 1000,546 1000.2,548 1000.5,550 1000.7,552 1000.9,554 1001,556 1001,558 1001,560 1001,562 1000.9,564 1000.9,566 1000.8,568 1000.8,570 1000.7,572 1000.7,574 1000.7,576 1000.7,578 1000.7,580 1000.7,582 1000.8,584 1000.8,586 1000.9,588 1000.9,590 1001,592 1001,594 1001,596 1001,598 1001,600 1001,602 1001,604 1000.9,606 1000.9,608 1000.8,610 1000.8,612 1000.7,614 1000.7,616 1000.6,618 1000.6,620 1000.5,622 1000.4,624 1000.3,626 1000.2,628 1000.1,630 1000,632 999.9,634 999.7,636 999.6,638 999.4,640 999.2,642 998.9,644 998.6,646 998.3,648 998,650 997.6,652 997.3,654 996.9,656 996.4,658 995.9,660 995.3,662 994.5,664 993.8,666 993,668 992.2,670 991.4,672 990.7,674 990,676 989.3,678 988.7,680 987.9,682 987.2,684 986.5,686 985.9,688 985.3,690 984.8,692 984.5,694 984.3,696 984.3,698 984.4,700 984.6,702 984.9,704 985.2,706 985.6,708 986.1,710 986.5,712 987,714 987.4,716 987.9,718 988.4,720 988.9,722 989.5,724 990.2,726 990.8,728 991.5,730 992.1,732 992.8,734 993.4,736 993.9,738 994.5,740 995,742 995.5,744 996.1,746 996.6,748 997.1,750 997.5,752 998,754 998.4,756 998.9,758 999.3,760 999.7,762 1000,764 1000.4,766 1000.8,768 1001.1,770 1001.4,772 1001.8,774 1002,776L1002.6,776Z" fill="#597dbf"/>
<path d="M1002.6,603L1002.6,603 1003.7,605 1004.7,607 1005.6,609 1006.7,611 1008,613 1009.2,615 1010.4,617 1011.3,619 1012,621 1012.2,623 1011.9,625 1011.1,627 1009.9,629 1008.8,631 1008,633 1007.6,635 1007.6,637 1007.6,639 1007.6,641 1007.6,643 1007.9,645 1008.4,647 1008.9,649 1009.4,651 1009.6,653 1009.5,655 1009.2,657 1008.8,659 1008.2,661 1007.7,663 1007.1,665 1006.6,667 1006.2,669 1005.8,671 1005.4,673 1005,675 1004.6,677 1004.3,679 1004,681 1003.7,683 1003.5,685 1003.2,687L1002.6,687Z" fill="#d98b5f"/>
<line x1="1002.6" y1="514" x2="1002.6" y2="776" stroke="#4a4a4a" stroke-width="1.6"/>
<line x1="1002.6" y1="637" x2="1002.6" y2="712" stroke="#4a4a4a" stroke-width="4.2"/>
<circle cx="1002.6" cy="680" r="1.5" fill="#8a8a8a"/>
<path d="M1047.8,500L1047.4,500 1047.1,502 1046.7,504 1046.4,506 1046.1,508 1045.8,510 1045.6,512 1045.5,514 1045.4,516.1 1045.4,518.1 1045.4,520.1 1045.5,522.1 1045.5,524.1 1045.5,526.1 1045.6,528.1 1045.6,530.1 1045.7,532.1 1045.8,534.1 1045.8,536.1 1045.8,538.1 1045.9,540.1 1045.9,542.1 1046,544.2 1046,546.2 1046,548.2 1046.1,550.2 1046.1,552.2 1046.2,554.2 1046.2,556.2 1046.2,558.2 1046.3,560.2 1046.4,562.2 1046.5,564.2 1046.5,566.2 1046.6,568.2 1046.7,570.2 1046.8,572.3 1046.8,574.3 1046.8,576.3 1046.8,578.3 1046.8,580.3 1046.8,582.3 1046.8,584.3 1046.8,586.3 1046.8,588.3 1046.8,590.3 1046.8,592.3 1046.8,594.3 1046.8,596.3 1046.8,598.4 1046.8,600.4 1046.8,602.4 1046.8,604.4 1046.8,606.4 1046.8,608.4 1046.8,610.4 1046.8,612.4 1046.8,614.4 1046.8,616.4 1046.8,618.4 1046.8,620.4 1046.7,622.4 1046.6,624.4 1046.4,626.5 1046.3,628.5 1046.1,630.5 1045.9,632.5 1045.7,634.5 1045.5,636.5 1045.2,638.5 1044.8,640.5 1044.3,642.5 1043.7,644.5 1043,646.5 1042.3,648.5 1041.6,650.5 1041,652.5 1040.3,654.5 1039.5,656.6 1038.7,658.6 1037.9,660.6 1037.1,662.6 1036.3,664.6 1035.6,666.6 1034.9,668.6 1034.3,670.6 1033.6,672.6 1033,674.6 1032.4,676.6 1032,678.6 1031.8,680.6 1031.8,682.6 1031.9,684.7 1032.1,686.7 1032.3,688.7 1032.5,690.7 1032.6,692.7 1032.8,694.7 1032.8,696.7 1032.8,698.7 1032.7,700.7 1032.6,702.7 1032.4,704.7 1032.1,706.7 1031.9,708.7 1031.6,710.8 1031.3,712.8 1031.1,714.8 1030.8,716.8 1030.6,718.8 1030.2,720.8 1030,722.8 1029.8,724.8 1030,726.8 1030.5,728.8 1031.3,730.8 1032.2,732.8 1033.1,734.8 1033.8,736.8 1034.3,738.9 1034.9,740.9 1035.3,742.9 1035.8,744.9 1036.3,746.9 1036.8,748.9 1037.2,750.9 1037.7,752.9 1038.2,754.9 1038.8,756.9 1039.4,758.9 1040,760.9 1040.7,762.9 1041.4,764.9 1042.1,767 1042.8,769 1043.5,771 1044.2,773 1045,775 1045.7,777 1046.5,779 1047.2,781L1047.8,781Z" fill="#597dbf"/>
<path d="M1047.8,591L1047.8,591 1047.9,593 1048.1,595 1048.3,597 1048.6,599 1049,601 1049.4,603 1049.8,605 1050.2,607 1050.8,609 1051.5,611 1052.4,613 1053.3,615 1054.1,617 1054.9,619 1055.4,621 1055.9,623 1056.3,625 1056.7,627 1057,629 1057.4,631 1057.6,633 1057.8,635 1057.8,637 1057.7,639 1057.5,641 1057.1,643 1056.6,645 1056.1,647 1055.6,649 1055.2,651 1054.8,653 1054.6,655 1054.4,657 1054.1,659 1053.8,661 1053.1,663 1052.1,665 1051.2,667 1050.8,669 1050.8,671 1050.8,673 1050.8,675 1050.8,677 1050.5,679 1049.8,681 1048.8,683L1047.8,683Z" fill="#d98b5f"/>
<line x1="1047.8" y1="500" x2="1047.8" y2="781" stroke="#4a4a4a" stroke-width="1.6"/>
<line x1="1047.8" y1="639" x2="1047.8" y2="716" stroke="#4a4a4a" stroke-width="4.2"/>
<circle cx="1047.8" cy="677" r="1.5" fill="#8a8a8a"/>
<path d="M1093,500L1091,500 1090.6,502 1090.4,504 1090.2,506 1090.1,508 1090,510 1090,512 1090.2,514.1 1090.4,516.1 1090.7,518.1 1091,520.1 1091.3,522.1 1091.5,524.1 1091.7,526.1 1091.9,528.1 1092,530.1 1092.2,532.1 1092.3,534.1 1092.4,536.1 1092.4,538.1 1092.4,540.2 1092.4,542.2 1092.4,544.2 1092.4,546.2 1092.4,548.2 1092.4,550.2 1092.4,552.2 1092.4,554.2 1092.4,556.2 1092.4,558.2 1092.4,560.2 1092.4,562.2 1092.4,564.3 1092.4,566.3 1092.4,568.3 1092.4,570.3 1092.4,572.3 1092.4,574.3 1092.4,576.3 1092.4,578.3 1092.4,580.3 1092.4,582.3 1092.4,584.3 1092.4,586.3 1092.4,588.3 1092.4,590.4 1092.4,592.4 1092.4,594.4 1092.4,596.4 1092.4,598.4 1092.4,600.4 1092.4,602.4 1092.4,604.4 1092.4,606.4 1092.4,608.4 1092.4,610.4 1092.4,612.4 1092.4,614.4 1092.4,616.5 1092.4,618.5 1092.3,620.5 1092.3,622.5 1092.2,624.5 1092.1,626.5 1092,628.5 1091.9,630.5 1091.7,632.5 1091.6,634.5 1091.4,636.5 1091.3,638.5 1091,640.6 1090.8,642.6 1090.5,644.6 1090.2,646.6 1089.8,648.6 1089.4,650.6 1089,652.6 1088.5,654.6 1088.1,656.6 1087.6,658.6 1086.9,660.6 1086.2,662.6 1085.5,664.6 1084.6,666.7 1083.8,668.7 1082.9,670.7 1082.1,672.7 1081.2,674.7 1080.1,676.7 1079,678.7 1077.9,680.7 1077,682.7 1076.3,684.7 1076,686.7 1076.1,688.7 1076.6,690.7 1077.2,692.8 1077.7,694.8 1078,696.8 1078,698.8 1078,700.8 1078,702.8 1078,704.8 1078,706.8 1077.8,708.8 1077.3,710.8 1076.7,712.8 1076.2,714.8 1076,716.9 1076,718.9 1076,720.9 1076,722.9 1076,724.9 1076,726.9 1076.4,728.9 1077.5,730.9 1078.9,732.9 1080.5,734.9 1081.9,736.9 1083.2,738.9 1084.4,740.9 1085.6,743 1086.8,745 1088,747 1089.1,749 1090.2,751 1091.3,753 1092.4,755L1093,755Z" fill="#597dbf"/>
<path d="M1093,607L1093,607 1094.6,609 1096,611 1097.3,613 1098.6,615 1100,617 1101.1,619 1102.1,621 1102.7,623 1103,625 1102.8,627 1102.2,629 1101.4,631 1100.6,633 1099.8,635 1099.2,637 1099,639 1099.1,641 1099.4,643 1099.8,645 1100.2,647 1100.6,649 1100.9,651 1101,653 1100.9,655 1100.5,657 1100,659 1099.3,661 1098.7,663 1098,665 1097.1,667 1096,669 1095,671 1094.6,673 1094.7,675 1095,677 1095.9,679 1097.3,681 1098,683 1094,685L1093,685Z" fill="#d98b5f"/>
<line x1="1093" y1="500" x2="1093" y2="755" stroke="#4a4a4a" stroke-width="1.6"/>
<line x1="1093" y1="637" x2="1093" y2="709" stroke="#4a4a4a" stroke-width="4.2"/>
<circle cx="1093" cy="682" r="1.5" fill="#8a8a8a"/>
<path d="M1138.2,503L1137.8,503 1137.1,505 1136.5,507 1136.1,509 1135.8,511 1135.8,513 1135.9,515.1 1136.2,517.1 1136.6,519.1 1136.9,521.1 1137.2,523.1 1137.3,525.1 1137.4,527.1 1137.5,529.1 1137.6,531.1 1137.7,533.1 1137.7,535.1 1137.8,537.1 1137.8,539.2 1137.8,541.2 1137.8,543.2 1137.8,545.2 1137.8,547.2 1137.8,549.2 1137.8,551.2 1137.8,553.2 1137.8,555.2 1137.8,557.2 1137.8,559.2 1137.8,561.2 1137.8,563.3 1137.8,565.3 1137.8,567.3 1137.8,569.3 1137.8,571.3 1137.8,573.3 1137.8,575.3 1137.8,577.3 1137.8,579.3 1137.8,581.3 1137.8,583.3 1137.8,585.3 1137.8,587.4 1137.8,589.4 1137.8,591.4 1137.8,593.4 1137.8,595.4 1137.8,597.4 1137.8,599.4 1137.8,601.4 1137.8,603.4 1137.8,605.4 1137.8,607.4 1137.8,609.4 1137.8,611.5 1137.8,613.5 1137.8,615.5 1137.7,617.5 1137.7,619.5 1137.7,621.5 1137.7,623.5 1137.6,625.5 1137.6,627.5 1137.5,629.5 1137.4,631.5 1137.3,633.5 1137.2,635.6 1137.1,637.6 1136.7,639.6 1136,641.6 1135.2,643.6 1134.5,645.6 1134,647.6 1133.7,649.6 1133.4,651.6 1133.2,653.6 1132.9,655.6 1132.7,657.6 1132.4,659.7 1132,661.7 1131.6,663.7 1131.2,665.7 1130.7,667.7 1130.2,669.7 1129.6,671.7 1129.1,673.7 1128.5,675.7 1127.9,677.7 1127.2,679.7 1126.3,681.7 1125.4,683.8 1124.7,685.8 1124.2,687.8 1124.2,689.8 1124.3,691.8 1124.5,693.8 1124.8,695.8 1125,697.8 1125.1,699.8 1125.1,701.8 1125,703.8 1124.6,705.8 1124.2,707.9 1123.8,709.9 1123.4,711.9 1123,713.9 1122.5,715.9 1121.9,717.9 1121.5,719.9 1121.2,721.9 1121.2,723.9 1122,725.9 1123.3,727.9 1124.9,729.9 1126.4,732 1127.8,734 1129.1,736 1130.4,738 1131.8,740 1133.2,742L1138.2,742Z" fill="#597dbf"/>
<path d="M1138.2,605L1138.2,605 1140.7,607 1140.9,609 1139.9,611 1139.2,613 1139.2,615 1139.4,617 1139.7,619 1140.1,621 1140.6,623 1141.2,625 1143.2,627 1146.5,629 1148.2,631 1147.8,633 1146.9,635 1145.8,637 1144.8,639 1144.2,641 1143.8,643 1143.5,645 1143.2,647 1143.2,649 1143.5,651 1144.2,653 1144.8,655 1145.2,657 1144.7,659 1143.5,661 1142.2,663 1140.6,665 1138.8,667L1138.2,667Z" fill="#d98b5f"/>
<line x1="1138.2" y1="503" x2="1138.2" y2="742" stroke="#4a4a4a" stroke-width="1.6"/>
<line x1="1138.2" y1="647" x2="1138.2" y2="707" stroke="#4a4a4a" stroke-width="4.2"/>
<circle cx="1138.2" cy="676" r="1.5" fill="#8a8a8a"/>
<path d="M1183.3,504L1182.9,504 1182.6,506 1182.3,508 1182.1,510 1181.9,512 1181.8,514 1181.7,516.1 1181.7,518.1 1181.8,520.1 1181.9,522.1 1182.1,524.1 1182.3,526.1 1182.5,528.1 1182.6,530.1 1182.7,532.1 1182.7,534.1 1182.7,536.1 1182.8,538.1 1182.8,540.2 1182.8,542.2 1182.8,544.2 1182.8,546.2 1182.8,548.2 1182.8,550.2 1182.9,552.2 1182.9,554.2 1182.9,556.2 1182.9,558.2 1182.9,560.2 1182.9,562.2 1182.9,564.3 1182.9,566.3 1182.9,568.3 1182.9,570.3 1182.9,572.3 1182.9,574.3 1182.9,576.3 1182.9,578.3 1182.9,580.3 1182.9,582.3 1182.9,584.3 1182.9,586.4 1182.9,588.4 1182.9,590.4 1182.9,592.4 1182.9,594.4 1182.9,596.4 1182.9,598.4 1182.9,600.4 1182.9,602.4 1182.9,604.4 1182.9,606.4 1182.9,608.4 1182.9,610.5 1182.9,612.5 1182.9,614.5 1182.9,616.5 1182.9,618.5 1182.9,620.5 1182.9,622.5 1182.9,624.5 1182.9,626.5 1182.8,628.5 1182.8,630.5 1182.8,632.5 1182.7,634.6 1182.7,636.6 1182.6,638.6 1182.6,640.6 1182.5,642.6 1182.4,644.6 1182.3,646.6 1182.1,648.6 1181.4,650.6 1180.4,652.6 1179.4,654.6 1178.4,656.6 1177.7,658.7 1177,660.7 1176.2,662.7 1175.5,664.7 1174.9,666.7 1174.4,668.7 1173.9,670.7 1173.5,672.7 1173,674.7 1172.7,676.7 1172.4,678.7 1172.3,680.8 1172.4,682.8 1172.8,684.8 1173.3,686.8 1173.8,688.8 1174.1,690.8 1174.3,692.8 1174.3,694.8 1174,696.8 1173.7,698.8 1173.4,700.8 1172.4,702.8 1170.7,704.9 1168.7,706.9 1167.1,708.9 1166.3,710.9 1166.3,712.9 1166.3,714.9 1166.3,716.9 1166.3,718.9 1166.8,720.9 1168,722.9 1169.8,724.9 1171.6,726.9 1173.3,729 1174.6,731 1176,733 1177.4,735 1179.3,737 1182.3,739L1183.3,739Z" fill="#597dbf"/>
<path d="M1183.3,620L1183.3,620 1188.3,622 1189.8,624.1 1190.9,626.1 1191.7,628.2 1192.1,630.2 1192.3,632.2 1192.2,634.3 1191.8,636.3 1191.2,638.4 1190.7,640.4 1190.3,642.4 1190.6,644.5 1191.5,646.5 1192.6,648.6 1193.3,650.6 1191.1,652.6 1187.4,654.7 1188.1,656.7 1190.1,658.8 1191.3,660.8 1191.2,662.8 1190.6,664.9 1189.7,666.9 1188.3,669 1184.3,671L1183.3,671Z" fill="#d98b5f"/>
<line x1="1183.3" y1="504" x2="1183.3" y2="739" stroke="#4a4a4a" stroke-width="1.6"/>
<line x1="1183.3" y1="649" x2="1183.3" y2="714" stroke="#4a4a4a" stroke-width="4.2"/>
<circle cx="1183.3" cy="675" r="1.5" fill="#8a8a8a"/>
<rect x="934.9" y="483.6" width="271" height="326.5" fill="none" stroke="#111" stroke-width="2.9"/>
<text x="1359.5" y="473.1" font-size="44.3" font-weight="bold" text-anchor="middle" textLength="115.4" lengthAdjust="spacingAndGlyphs" fill="#c44e52">ApEn</text>
<path d="M1246.6,685L1246.6,685 1245.9,687 1245.4,689 1245,691 1244.7,693 1244.6,695 1244.7,697 1244.9,699 1245.2,701 1245.5,703 1245.6,705 1245.6,707 1245.6,709 1245.6,711 1245.6,713 1245.6,715 1245.6,717 1245.6,719 1244.6,721 1242.6,723 1240.6,725 1238.8,727 1236.8,729 1235.2,731 1234.6,733 1235.4,735 1237.3,737 1239.6,739 1241.6,741 1243.3,743 1244.9,745 1245.6,747 1245.6,749 1245.6,751 1245.6,753 1245.6,755 1245.6,757 1245.6,759 1245.6,761 1245.6,763 1244.3,765 1241.4,767 1238.6,769 1235.9,771 1232.9,773 1230.6,775 1229.6,777 1230.9,779 1233.7,781 1236.6,783 1238.9,785 1241.1,787 1243.4,789 1245.6,791L1246.6,791Z" fill="#597dbf"/>
<path d="M1246.6,630L1246.6,630 1246.6,632 1246.6,634 1246.7,636 1246.7,638 1246.7,640.1 1246.8,642.1 1246.8,644.1 1246.8,646.1 1246.8,648.1 1246.9,650.1 1246.9,652.1 1246.9,654.1 1247,656.2 1247,658.2 1247,660.2 1247,662.2 1247.1,664.2 1247.1,666.2 1247.1,668.2 1247.1,670.2 1247.2,672.3 1247.2,674.3 1247.2,676.3 1247.2,678.3 1247.2,680.3 1247.2,682.3 1247.3,684.3 1247.3,686.3 1247.3,688.4 1247.3,690.4 1247.3,692.4 1247.3,694.4 1247.3,696.4 1247.4,698.4 1247.4,700.4 1247.4,702.4 1247.4,704.5 1247.4,706.5 1247.5,708.5 1247.5,710.5 1247.5,712.5 1247.6,714.5 1247.7,716.5 1247.9,718.5 1248.2,720.6 1248.5,722.6 1249.1,724.6 1250.1,726.6 1251,728.6 1251.6,730.6 1251.4,732.6 1251,734.6 1250.3,736.7 1249.7,738.7 1249,740.7 1248.2,742.7 1247.5,744.7 1247.2,746.7 1247.2,748.7 1247.2,750.7 1247.2,752.8 1247.2,754.8 1247.2,756.8 1247.2,758.8 1247.2,760.8 1247.2,762.8 1247.6,764.8 1248.7,766.8 1250.1,768.9 1251.5,770.9 1252.9,772.9 1254.6,774.9 1256,776.9 1256.6,778.9 1256.1,780.9 1254.8,782.9 1253.1,785 1251.6,787 1250.3,789 1248.9,791 1247.6,793L1246.6,793Z" fill="#d98b5f"/>
<line x1="1246.6" y1="630" x2="1246.6" y2="795" stroke="#4a4a4a" stroke-width="1.6"/>
<line x1="1246.6" y1="731" x2="1246.6" y2="780" stroke="#4a4a4a" stroke-width="4.2"/>
<circle cx="1246.6" cy="774" r="1.5" fill="#8a8a8a"/>
<path d="M1291.8,599L1291.8,599 1291.5,601 1291.3,603 1291,605 1290.8,607 1290.6,609.1 1290.4,611.1 1290.3,613.1 1290.1,615.1 1290,617.1 1289.9,619.1 1289.8,621.1 1289.7,623.1 1289.6,625.1 1289.5,627.2 1289.4,629.2 1289.4,631.2 1289.4,633.2 1289.4,635.2 1289.4,637.2 1289.5,639.2 1289.6,641.2 1289.8,643.3 1289.9,645.3 1290,647.3 1290.1,649.3 1290.1,651.3 1290,653.3 1289.7,655.3 1289.2,657.3 1288.6,659.3 1288,661.4 1287.3,663.4 1286.6,665.4 1285.6,667.4 1284.4,669.4 1283.2,671.4 1282.2,673.4 1281.7,675.4 1281.4,677.4 1281.2,679.5 1281.1,681.5 1280.9,683.5 1280.7,685.5 1280.4,687.5 1280.1,689.5 1279.7,691.5 1279.3,693.5 1278.9,695.6 1278.5,697.6 1278,699.6 1277.6,701.6 1277.1,703.6 1276.6,705.6 1276,707.6 1275.2,709.6 1274.5,711.6 1273.8,713.7 1273.2,715.7 1272.8,717.7 1272.8,719.7 1273.2,721.7 1273.9,723.7 1274.7,725.7 1275.4,727.7 1275.9,729.7 1276.4,731.8 1276.7,733.8 1276.7,735.8 1276.5,737.8 1276.1,739.8 1275.8,741.8 1275.8,743.8 1276.6,745.8 1278,747.9 1279.7,749.9 1281.4,751.9 1283,753.9 1284.3,755.9 1285.5,757.9 1286.6,759.9 1287.5,761.9 1287.9,763.9 1288.1,766 1288.3,768 1288.5,770 1289.2,772 1290.8,774L1291.8,774Z" fill="#597dbf"/>
<path d="M1291.8,655L1291.8,655 1291.8,657 1291.9,659 1292.1,661.1 1292.2,663.1 1292.4,665.1 1292.5,667.1 1292.7,669.1 1292.9,671.1 1293.1,673.2 1293.4,675.2 1293.8,677.2 1294.4,679.2 1295,681.2 1295.7,683.2 1296.3,685.3 1296.8,687.3 1297.3,689.3 1297.7,691.3 1298.1,693.3 1298.5,695.4 1298.7,697.4 1298.7,699.4 1298.6,701.4 1298.4,703.4 1298.2,705.4 1298,707.5 1297.8,709.5 1297.8,711.5 1298.6,713.5 1299.9,715.5 1301,717.5 1301.3,719.6 1300.8,721.6 1299.8,723.6 1298.5,725.6 1297.4,727.6 1296.5,729.6 1295.6,731.7 1294.9,733.7 1294.9,735.7 1296.5,737.7 1298.3,739.7 1298.7,741.8 1298.1,743.8 1297.1,745.8 1296,747.8 1295.1,749.8 1294.6,751.8 1294.2,753.9 1293.9,755.9 1293.8,757.9 1293.8,759.9 1294.2,761.9 1294.7,763.9 1294.7,766 1293.9,768 1292.8,770L1291.8,770Z" fill="#d98b5f"/>
<line x1="1291.8" y1="599" x2="1291.8" y2="774" stroke="#4a4a4a" stroke-width="1.6"/>
<line x1="1291.8" y1="684" x2="1291.8" y2="741" stroke="#4a4a4a" stroke-width="4.2"/>
<circle cx="1291.8" cy="717" r="1.5" fill="#8a8a8a"/>
<path d="M1336.9,578L1336.9,578 1335.9,580 1335.1,582 1334.8,584 1334.6,586 1334.4,588.1 1334.3,590.1 1334.2,592.1 1334,594.1 1333.8,596.1 1333.3,598.1 1332.8,600.1 1332.1,602.1 1331.4,604.1 1330.6,606.2 1329.8,608.2 1328.9,610.2 1328.1,612.2 1327.2,614.2 1326.4,616.2 1325.4,618.2 1324.2,620.2 1323.1,622.2 1322.1,624.3 1321.3,626.3 1320.9,628.3 1321,630.3 1321.2,632.3 1321.7,634.3 1322.3,636.3 1322.9,638.3 1323.6,640.4 1324.2,642.4 1324.8,644.4 1325.2,646.4 1325.8,648.4 1326.3,650.4 1326.7,652.4 1326.9,654.4 1326.9,656.4 1326.6,658.5 1326.1,660.5 1325.6,662.5 1325.1,664.5 1324.4,666.5 1323.6,668.5 1322.7,670.5 1321.8,672.5 1321,674.5 1320.5,676.6 1319.9,678.6 1319.5,680.6 1319.1,682.6 1318.9,684.6 1319,686.6 1319.4,688.6 1320,690.6 1320.6,692.6 1321.2,694.7 1321.7,696.7 1321.9,698.7 1321.9,700.7 1321.7,702.7 1321.5,704.7 1321.2,706.7 1320.9,708.7 1320.5,710.8 1320.2,712.8 1319.9,714.8 1319.7,716.8 1319.4,718.8 1319.2,720.8 1319,722.8 1318.9,724.8 1319.3,726.8 1320.4,728.9 1321.8,730.9 1323.4,732.9 1324.8,734.9 1326.1,736.9 1327.4,738.9 1328.6,740.9 1329.8,742.9 1330.9,744.9 1331.8,747 1332.7,749 1333.5,751 1334.3,753 1334.9,755L1336.9,755Z" fill="#597dbf"/>
<path d="M1336.9,600L1336.9,600 1337,602 1337.1,604 1337.3,606 1337.4,608.1 1337.5,610.1 1337.7,612.1 1337.8,614.1 1338,616.1 1338.2,618.1 1338.5,620.1 1338.7,622.1 1339,624.2 1339.3,626.2 1339.5,628.2 1339.7,630.2 1339.8,632.2 1339.9,634.2 1339.9,636.2 1339.9,638.2 1339.9,640.3 1339.9,642.3 1339.9,644.3 1339.9,646.3 1339.9,648.3 1339.9,650.3 1339.9,652.3 1339.9,654.4 1339.9,656.4 1340,658.4 1340.1,660.4 1340.3,662.4 1340.5,664.4 1340.7,666.4 1341,668.4 1341.3,670.5 1341.6,672.5 1341.8,674.5 1342.2,676.5 1342.7,678.5 1343.3,680.5 1343.9,682.5 1344.6,684.5 1345.3,686.6 1345.9,688.6 1346.4,690.6 1346.8,692.6 1346.9,694.6 1346.8,696.6 1346.3,698.6 1345.6,700.6 1344.7,702.7 1343.8,704.7 1343,706.7 1342.3,708.7 1341.4,710.7 1340.6,712.7 1340,714.7 1339.5,716.8 1339,718.8 1338.6,720.8 1338.3,722.8 1338,724.8 1337.9,726.8 1337.9,728.8 1337.9,730.8 1337.9,732.9 1337.9,734.9 1337.9,736.9 1337.9,738.9 1337.9,740.9 1337.9,742.9 1337.9,744.9 1337.9,746.9 1337.8,749 1337.7,751 1337.6,753 1337.5,755L1336.9,755Z" fill="#d98b5f"/>
<line x1="1336.9" y1="578" x2="1336.9" y2="755" stroke="#4a4a4a" stroke-width="1.6"/>
<line x1="1336.9" y1="644" x2="1336.9" y2="707" stroke="#4a4a4a" stroke-width="4.2"/>
<circle cx="1336.9" cy="685" r="1.5" fill="#8a8a8a"/>
<path d="M1382.1,539L1382.1,539 1379.8,541 1378.1,543 1377.1,545 1376.3,547 1375.7,549 1375.1,551 1374.4,553 1373.8,555 1373.1,557 1372.6,559 1372.2,561 1372.1,563 1372.1,565 1372.2,567 1372.4,569 1372.6,571 1372.8,573 1372.9,575 1373,577 1373.1,579 1372.8,581 1372.1,583 1371.1,585 1369.9,587 1368.9,589 1368.1,591 1367.4,593 1366.8,595 1366.1,597 1365.6,599 1365.2,601 1365.1,603 1365.3,605 1365.9,607 1366.6,609 1367.3,611 1367.9,613 1368.1,615 1368.1,617 1368.1,619 1368.1,621 1368.1,623 1367.7,625 1366.7,627 1365.5,629 1364.5,631 1364.1,633 1364.4,635 1365.1,637 1366.1,639 1367.2,641 1368.2,643 1369.1,645 1369.7,647 1370.4,649 1371,651 1371.6,653 1372.1,655 1372.6,657 1373.1,659 1373.6,661 1374.1,663 1374.6,665 1375,667 1375.5,669 1375.8,671 1376,673 1376.1,675 1376.1,677 1376.1,679 1376.1,681 1376.1,683 1376.1,685 1376.1,687 1376.1,689 1376.1,691 1376.1,693 1376.1,695 1376.1,697 1376.3,699 1376.6,701 1376.9,703 1377.3,705 1377.7,707 1378.1,709 1378.5,711 1378.8,713 1379.1,715 1379.3,717 1379.6,719 1379.9,721 1380.1,723 1380.4,725 1380.6,727 1380.8,729 1381,731 1381,733 1381.1,735 1381,737 1380.9,739 1380.7,741 1380.5,743 1380.5,745 1380.5,747 1380.6,749 1380.7,751 1380.9,753 1381.2,755 1381.5,757L1382.1,757Z" fill="#597dbf"/>
<path d="M1382.1,607L1382.1,607 1383.8,609 1385.3,611 1386.5,613 1387.1,615 1387.4,617 1387.6,619 1387.7,621 1387.1,623 1385.9,625 1384.6,627 1384.1,629 1384.5,631 1385.4,633 1386.1,635 1386.5,637 1386.9,639 1387.1,641 1386.6,643 1385.6,645 1384.6,647 1384.1,649 1384.6,651 1385.8,653 1387.1,655 1388.8,657 1390.8,659 1392.3,661 1392.4,663 1391.6,665 1390.4,667 1389.1,669 1387.3,671 1385.2,673 1384.1,675 1384,677 1383.9,679 1383.8,681 1383.8,683 1383.7,685 1383.5,687 1383.3,689 1383.1,691L1382.1,691Z" fill="#d98b5f"/>
<line x1="1382.1" y1="539" x2="1382.1" y2="757" stroke="#4a4a4a" stroke-width="1.6"/>
<line x1="1382.1" y1="608" x2="1382.1" y2="663" stroke="#4a4a4a" stroke-width="4.2"/>
<circle cx="1382.1" cy="636" r="1.5" fill="#8a8a8a"/>
<path d="M1427.2,503L1427.2,503 1426.8,505 1426.5,507 1426.1,509 1425.8,511 1425.5,513 1425.2,515.1 1425,517.1 1424.8,519.1 1424.6,521.1 1424.4,523.1 1424.3,525.1 1424.3,527.1 1424.4,529.1 1424.6,531.1 1425,533.1 1425.3,535.2 1425.6,537.2 1425.6,539.2 1425.4,541.2 1424.8,543.2 1423.9,545.2 1422.9,547.2 1422,549.2 1421.2,551.2 1420.4,553.2 1419.7,555.3 1419,557.3 1418.3,559.3 1417.5,561.3 1416.8,563.3 1416.1,565.3 1415.4,567.3 1414.5,569.3 1413.7,571.3 1412.8,573.3 1411.9,575.4 1411.2,577.4 1410.5,579.4 1410,581.4 1409.7,583.4 1409.7,585.4 1409.7,587.4 1409.8,589.4 1409.9,591.4 1410.1,593.4 1410.3,595.5 1410.5,597.5 1410.7,599.5 1410.9,601.5 1411.1,603.5 1411.3,605.5 1411.5,607.5 1411.7,609.5 1411.8,611.5 1412,613.5 1412.1,615.6 1412.2,617.6 1412.2,619.6 1412.1,621.6 1411.7,623.6 1411.3,625.6 1410.9,627.6 1410.5,629.6 1410.3,631.6 1410.3,633.6 1410.6,635.7 1411.3,637.7 1412.3,639.7 1413.4,641.7 1414.5,643.7 1415.7,645.7 1417.3,647.7 1419.2,649.7 1420.9,651.7 1422,653.7 1422.2,655.8 1422.1,657.8 1421.9,659.8 1421.7,661.8 1421.4,663.8 1421.1,665.8 1420.8,667.8 1420.5,669.8 1420.1,671.8 1419.7,673.8 1419.3,675.9 1418.9,677.9 1418.6,679.9 1418.4,681.9 1418.3,683.9 1418.3,685.9 1418.6,687.9 1419.1,689.9 1419.7,691.9 1420.5,693.9 1421.2,696 1421.9,698 1422.5,700 1423.1,702 1423.7,704 1424.2,706L1427.2,706Z" fill="#597dbf"/>
<path d="M1427.2,568L1427.2,568 1429.3,570 1429.6,572 1429.5,574.1 1429.3,576.1 1429.1,578.1 1428.9,580.1 1428.6,582.2 1428.4,584.2 1428.3,586.2 1428.3,588.2 1428.6,590.2 1429.1,592.3 1429.7,594.3 1430.4,596.3 1431,598.3 1431.7,600.3 1432.6,602.4 1433.6,604.4 1434.6,606.4 1435.5,608.4 1436.1,610.5 1436.6,612.5 1436.9,614.5 1437.3,616.5 1437.5,618.5 1437.6,620.6 1437.6,622.6 1437.2,624.6 1436.7,626.6 1436.1,628.7 1435.4,630.7 1434.2,632.7 1432.3,634.7 1430.5,636.7 1429.3,638.8 1428.9,640.8 1428.7,642.8 1428.4,644.8 1428.3,646.8 1428.3,648.9 1428.5,650.9 1429,652.9 1429.2,654.9 1429.1,657 1428.6,659 1427.8,661L1427.2,661Z" fill="#d98b5f"/>
<line x1="1427.2" y1="503" x2="1427.2" y2="706" stroke="#4a4a4a" stroke-width="1.6"/>
<line x1="1427.2" y1="584" x2="1427.2" y2="633" stroke="#4a4a4a" stroke-width="4.2"/>
<circle cx="1427.2" cy="613" r="1.5" fill="#8a8a8a"/>
<path d="M1472.4,499L1472.4,499 1472.1,501 1471.8,503 1471.4,505 1471,507 1470.7,509.1 1470.3,511.1 1469.9,513.1 1469.4,515.1 1468.9,517.1 1468.4,519.1 1467.8,521.1 1467.3,523.1 1466.6,525.1 1465.9,527.2 1465.2,529.2 1464.3,531.2 1463.2,533.2 1461.6,535.2 1460,537.2 1458.4,539.2 1457.1,541.2 1456.4,543.2 1455.8,545.3 1455.4,547.3 1455,549.3 1454.7,551.3 1454.5,553.3 1454.4,555.3 1454.5,557.3 1454.5,559.3 1454.7,561.4 1454.8,563.4 1455.1,565.4 1455.3,567.4 1455.6,569.4 1455.9,571.4 1456.2,573.4 1456.5,575.4 1457,577.4 1457.6,579.5 1458.3,581.5 1459.1,583.5 1459.9,585.5 1460.6,587.5 1461.3,589.5 1462,591.5 1462.7,593.5 1463.4,595.5 1464,597.6 1464.6,599.6 1465,601.6 1465.4,603.6 1465.7,605.6 1466,607.6 1466.4,609.6 1466.7,611.6 1467.1,613.6 1467.6,615.7 1468.2,617.7 1468.9,619.7 1469.7,621.7 1470.4,623.7 1471,625.7 1471.3,627.7 1471.4,629.7 1471.4,631.8 1471.4,633.8 1471.4,635.8 1471.4,637.8 1471.4,639.8 1471.4,641.8 1471.4,643.8 1470.8,645.8 1469.9,647.8 1468.9,649.9 1468,651.9 1466.8,653.9 1465.5,655.9 1464.3,657.9 1463.5,659.9 1463.5,661.9 1463.8,663.9 1464.4,665.9 1465.1,668 1466,670 1466.9,672 1468,674 1469.4,676L1472.4,676Z" fill="#597dbf"/>
<path d="M1472.4,506L1472.4,506 1473.2,508 1474,510 1474.7,512 1475.2,514 1475.6,516 1475.9,518 1476.2,520 1476.5,522 1476.7,524 1476.9,526 1477.1,528 1477.3,530 1477.4,532 1477.4,534 1477.4,536 1477.2,538 1477,540 1476.6,542 1476.2,544 1475.9,546 1475.6,548 1475.4,550 1475.4,552 1475.6,554 1475.9,556 1476.2,558 1476.6,560 1477.3,562 1478.2,564 1479.3,566 1480.3,568 1481.2,570 1481.9,572 1482.4,574 1482.4,576 1482.1,578 1481.6,580 1480.9,582 1480.2,584 1479.3,586 1478.5,588 1477.8,590 1477.1,592 1476.2,594 1475.4,596 1474.5,598 1473.9,600 1473.5,602 1473.5,604 1473.9,606 1474.5,608 1475.3,610 1475.9,612 1476.4,614 1476.4,616 1476.4,618 1476.4,620 1476.4,622 1476.3,624 1475.3,626 1474.1,628 1473.2,630 1473,632 1473,634 1473.1,636 1473.1,638 1473.2,640 1473.3,642 1473.4,644 1473.5,646 1473.7,648 1473.9,650 1474.1,652 1474.3,654 1474.5,656 1474.6,658 1474.7,660 1474.8,662 1474.8,664 1474.7,666 1474.2,668 1473.4,670L1472.4,670Z" fill="#d98b5f"/>
<line x1="1472.4" y1="499" x2="1472.4" y2="676" stroke="#4a4a4a" stroke-width="1.6"/>
<line x1="1472.4" y1="548" x2="1472.4" y2="606" stroke="#4a4a4a" stroke-width="4.2"/>
<circle cx="1472.4" cy="576" r="1.5" fill="#8a8a8a"/>
<rect x="1224" y="483.6" width="271" height="326.5" fill="none" stroke="#111" stroke-width="2.9"/>
<text x="203" y="920" font-size="44.3" font-weight="bold" text-anchor="middle" textLength="58.7" lengthAdjust="spacingAndGlyphs" fill="#8172b3">CC</text>
<path d="M90.1,945L90.1,945 89.7,947 89.2,949.1 88.8,951.1 88.3,953.1 87.8,955.2 87.3,957.2 86.7,959.2 86.1,961.2 85.4,963.3 84.8,965.3 84.2,967.3 83.8,969.4 83.4,971.4 83,973.4 82.7,975.5 82.4,977.5 82.2,979.5 82.1,981.5 82.3,983.6 83,985.6 84.1,987.6 85.3,989.7 86.3,991.7 87,993.7 87.4,995.8 87.6,997.8 87.8,999.8 88,1001.8 88.2,1003.9 88.5,1005.9 88.8,1007.9 89.1,1010 89.5,1012L90.1,1012Z" fill="#597dbf"/>
<path d="M90.1,968L90.1,968 90.2,970 90.3,972 90.5,974 90.6,976 90.7,978 90.8,980 90.9,982 91,984 91.1,986 91.2,988 91.3,990 91.4,992 91.5,994 91.5,996 91.6,998 91.6,1000 91.7,1002 91.7,1004 91.7,1006 91.8,1008 91.8,1010 91.8,1012 91.8,1014 91.8,1016 91.8,1018 91.9,1020 91.9,1022 91.9,1024 91.9,1026 91.9,1028 91.9,1030 91.9,1032 92,1034 92,1036 92,1038 92,1040 92.1,1042 92.2,1044 92.3,1046 92.4,1048 92.6,1050 92.8,1052 93.1,1054 93.3,1056 93.6,1058 93.8,1060 94.1,1062 94.3,1064 94.6,1066 94.8,1068 95.1,1070 95.4,1072 95.7,1074 96,1076 96.4,1078 96.7,1080 97.1,1082 97.5,1084 97.9,1086 98.4,1088 98.9,1090 99.4,1092 100,1094 100.5,1096 101,1098 101.6,1100 102.1,1102 102.6,1104 103.2,1106 103.9,1108 104.6,1110 105.2,1112 105.8,1114 106.3,1116 106.7,1118 107,1120 107.1,1122 107.1,1124 107,1126 107,1128 106.9,1130 106.8,1132 106.7,1134 106.5,1136 106.4,1138 106.2,1140 106.1,1142 105.9,1144 105.6,1146 105.3,1148 104.9,1150 104.4,1152 104,1154 103.5,1156 103,1158 102.5,1160 102.1,1162 101.6,1164 101.2,1166 100.7,1168 100.2,1170 99.7,1172 99.2,1174 98.7,1176 98.2,1178 97.6,1180 97.1,1182 96.5,1184 95.8,1186 95,1188 94.3,1190 93.5,1192 92.8,1194 92.1,1196 91.6,1198 91.3,1200 91.1,1202 91,1204 91,1206 90.9,1208 90.9,1210 90.9,1212 90.8,1214 90.8,1216 90.8,1218 90.7,1220 90.7,1222 90.6,1224 90.6,1226 90.5,1228 90.4,1230 90.3,1232 90.3,1234 90.2,1236 90.1,1238L90.1,1238Z" fill="#d98b5f"/>
<line x1="90.1" y1="945" x2="90.1" y2="1238" stroke="#4a4a4a" stroke-width="1.6"/>
<line x1="90.1" y1="995" x2="90.1" y2="1138" stroke="#4a4a4a" stroke-width="4.2"/>
<circle cx="90.1" cy="1085" r="1.5" fill="#8a8a8a"/>
<path d="M135.2,955L135.2,955 134.9,957 134.5,959.1 134,961.1 133.5,963.2 133,965.2 132.5,967.2 131.8,969.3 131,971.3 130,973.4 129.1,975.4 128.2,977.4 127.6,979.5 127.3,981.5 127.4,983.6 127.8,985.6 128.5,987.6 129.4,989.7 130.1,991.7 131,993.8 132,995.8 132.9,997.8 133.6,999.9 134.1,1001.9 134.4,1004 134.7,1006L135.2,1006Z" fill="#597dbf"/>
<path d="M135.2,960L135.2,960 135.3,962 135.3,964 135.3,966 135.3,968 135.4,970 135.4,972 135.4,974 135.5,976 135.5,978 135.6,980 135.6,982 135.7,984 135.7,986 135.8,988 135.9,990 135.9,992 136,994 136.1,996 136.1,998 136.2,1000 136.2,1002 136.3,1004 136.4,1006 136.6,1008 136.7,1010 136.8,1012 137,1014 137.1,1016 137.2,1018 137.2,1020 137.2,1022 137.2,1024 137.1,1026 137,1028 136.9,1030 136.8,1032 136.6,1034 136.5,1036 136.4,1038 136.3,1040 136.2,1042 136.3,1044 136.3,1046 136.3,1048 136.4,1050 136.4,1052 136.5,1054 136.6,1056 136.7,1058 136.8,1060 136.8,1062 137,1064 137.2,1066 137.5,1068 137.8,1070 138.2,1072 138.6,1074 139,1076 139.4,1078 139.8,1080 140.2,1082 140.7,1084 141.1,1086 141.6,1088 142.1,1090 142.6,1092 143.2,1094 143.7,1096 144.2,1098 144.7,1100 145.2,1102 145.8,1104 146.3,1106 146.8,1108 147.4,1110 147.9,1112 148.4,1114 148.9,1116 149.4,1118 149.9,1120 150.2,1122 150.6,1124 151,1126 151.4,1128 151.8,1130 152.2,1132 152.6,1134 152.8,1136 153.1,1138 153.2,1140 153.2,1142 153.2,1144 153,1146 152.7,1148 152.4,1150 151.9,1152 151.5,1154 150.9,1156 150.4,1158 149.8,1160 149.2,1162 148.6,1164 147.7,1166 146.7,1168 145.6,1170 144.6,1172 143.6,1174 142.8,1176 142.2,1178 141.9,1180 141.5,1182 141.3,1184 141,1186 140.8,1188 140.5,1190 140.2,1192 140,1194 139.7,1196 139.4,1198 139.1,1200 138.8,1202 138.4,1204 138.1,1206 137.8,1208 137.5,1210 137.2,1212 137,1214 136.7,1216 136.4,1218 136.1,1220 135.8,1222 135.5,1224 135.2,1226L135.2,1226Z" fill="#d98b5f"/>
<line x1="135.2" y1="955" x2="135.2" y2="1226" stroke="#4a4a4a" stroke-width="1.6"/>
<line x1="135.2" y1="999" x2="135.2" y2="1149" stroke="#4a4a4a" stroke-width="4.2"/>
<circle cx="135.2" cy="1105" r="1.5" fill="#8a8a8a"/>
<path d="M180.4,958L180.4,958 179.7,960 179,962 178.3,964 177.6,966 176.9,968 176.2,970 175.4,972 174.6,974 173.6,976 172.6,978 171.6,980 170.8,982 170.2,984 170,986 170.5,988 171.5,990 173,992 174.4,994 176.3,996 178.4,998 179.4,1000 179.5,1002 179.6,1004 179.7,1006 179.7,1008 179.8,1010 179.8,1012 179.8,1014 179.8,1016 179.8,1018L180.4,1018Z" fill="#597dbf"/>
<path d="M180.4,976L180.4,976 180.5,978 180.6,980 180.7,982 180.8,984 180.9,986 180.9,988 181,990 181.1,992 181.2,994 181.2,996 181.3,998 181.4,1000 181.4,1002 181.5,1004 181.5,1006 181.6,1008 181.6,1010 181.6,1012 181.7,1014 181.7,1016 181.7,1018 181.8,1020 181.8,1022 181.8,1024 181.9,1026 181.9,1028 182,1030 182,1032 182.1,1034 182.2,1036 182.3,1038 182.4,1040 182.5,1042 182.6,1044 182.8,1046 182.9,1048 183,1050 183.1,1052 183.2,1054 183.3,1056 183.4,1058 183.4,1060 183.4,1062 183.4,1064 183.2,1066 183,1068 182.7,1070 182.4,1072 182.1,1074 181.8,1076 181.6,1078 181.5,1080 181.4,1082 181.5,1084 181.8,1086 182.3,1088 182.9,1090 183.6,1092 184.3,1094 185.1,1096 185.9,1098 186.7,1100 187.4,1102 188.2,1104 189,1106 189.9,1108 190.8,1110 191.7,1112 192.6,1114 193.5,1116 194.2,1118 194.9,1120 195.4,1122 195.9,1124 196.3,1126 196.7,1128 197.1,1130 197.5,1132 197.8,1134 198,1136 198.2,1138 198.4,1140 198.4,1142 198.4,1144 198.2,1146 197.9,1148 197.5,1150 197.1,1152 196.6,1154 196.1,1156 195.5,1158 195,1160 194.4,1162 193.8,1164 193.1,1166 192.3,1168 191.5,1170 190.6,1172 189.6,1174 188.5,1176 187.4,1178 185.9,1180 183.9,1182 182.2,1184 181.4,1186 181.2,1188 181.1,1190 180.9,1192 180.8,1194 180.7,1196 180.6,1198 180.6,1200 180.5,1202 180.5,1204 180.4,1206 180.4,1208 180.4,1210L180.4,1210Z" fill="#d98b5f"/>
<line x1="180.4" y1="958" x2="180.4" y2="1210" stroke="#4a4a4a" stroke-width="1.6"/>
<line x1="180.4" y1="990" x2="180.4" y2="1143" stroke="#4a4a4a" stroke-width="4.2"/>
<circle cx="180.4" cy="1087" r="1.5" fill="#8a8a8a"/>
<path d="M225.6,972L225.6,972 222.6,974 220,976 217.6,978 215.2,980 212.9,982 212,984 212.9,986 215.1,988 217.6,990 219.6,992 221.1,994 222.5,996 223.6,998 224,1000 223.9,1002 223.7,1004 223.4,1006 223.1,1008 222.9,1010 222.7,1012 222.6,1014 223.3,1016 224.6,1018L225.6,1018Z" fill="#597dbf"/>
<path d="M225.6,960L225.6,960 225.7,962 225.9,964 226,966 226.1,968 226.3,970 226.4,972 226.6,974 226.7,976 226.9,978 227,980 227.2,982 227.3,984 227.5,986 227.6,988 227.8,990 227.9,992 228.1,994 228.2,996 228.3,998 228.5,1000 228.6,1002 228.7,1004 228.8,1006 229,1008 229.1,1010 229.2,1012 229.3,1014 229.4,1016 229.5,1018 229.6,1020 229.6,1022 229.4,1024 228.8,1026 228.1,1028 227.5,1030 227.2,1032 227.1,1034 227,1036 226.9,1038 226.8,1040 226.7,1042 226.7,1044 226.6,1046 226.6,1048 226.6,1050 226.6,1052 226.6,1054 226.7,1056 226.8,1058 227,1060 227.2,1062 227.5,1064 227.8,1066 228,1068 228.3,1070 228.6,1072 228.9,1074 229.2,1076 229.5,1078 229.9,1080 230.3,1082 230.7,1084 231.1,1086 231.6,1088 232.1,1090 232.6,1092 233.1,1094 233.8,1096 234.5,1098 235.3,1100 236,1102 236.8,1104 237.6,1106 238.3,1108 239,1110 239.6,1112 240.1,1114 240.7,1116 241.3,1118 241.9,1120 242.5,1122 242.9,1124 243.3,1126 243.5,1128 243.6,1130 243.4,1132 243,1134 242.4,1136 241.7,1138 240.9,1140 240.1,1142 239.3,1144 238.6,1146 238,1148 237.3,1150 236.7,1152 236.1,1154 235.5,1156 234.8,1158 234.2,1160 233.6,1162 233,1164 232.4,1166 231.8,1168 231.1,1170 230.5,1172 229.9,1174 229.3,1176 228.6,1178 227.9,1180 227.1,1182 226.4,1184 225.6,1186L225.6,1186Z" fill="#d98b5f"/>
<line x1="225.6" y1="959" x2="225.6" y2="1186" stroke="#4a4a4a" stroke-width="1.6"/>
<line x1="225.6" y1="986" x2="225.6" y2="1131" stroke="#4a4a4a" stroke-width="4.2"/>
<circle cx="225.6" cy="1045" r="1.5" fill="#8a8a8a"/>
<path d="M270.8,959L270.8,959 270.1,961 269.2,963 268.1,965.1 266.8,967.1 265.4,969.1 263.7,971.1 261.1,973.2 258.1,975.2 255.4,977.2 253.9,979.2 254,981.2 255.4,983.3 257.3,985.3 259.2,987.3 260.8,989.3 262.5,991.4 264.2,993.4 265.6,995.4 266.6,997.4 267,999.4 267.3,1001.5 267.5,1003.5 267.7,1005.5 267.9,1007.5 268.1,1009.6 268.3,1011.6 268.5,1013.6 268.7,1015.6 268.9,1017.6 269.1,1019.7 269.3,1021.7 269.5,1023.7 269.6,1025.7 269.7,1027.8 269.7,1029.8 269.6,1031.8 269.3,1033.8 268.8,1035.8 268.3,1037.9 267.9,1039.9 267.8,1041.9 267.9,1043.9 268.3,1046 269,1048 269.8,1050L270.8,1050Z" fill="#597dbf"/>
<path d="M270.8,972L270.8,972 271.1,974 271.5,976 271.9,978 272.1,980 272.4,982 272.5,984 272.6,986 272.7,988 272.8,990 272.9,992 272.9,994 273,996 273.1,998 273.1,1000 273.2,1002 273.3,1004 273.4,1006 273.5,1008 273.6,1010 273.8,1012 274.1,1014 274.6,1016 275.1,1018 275.6,1020 275.8,1022 275.6,1024 275.2,1026 274.7,1028 274.2,1030 273.8,1032 273.4,1034 273.1,1036 272.8,1038 272.5,1040 272.4,1042 272.2,1044 272.2,1046 272.1,1048 272,1050 271.9,1052 271.9,1054 271.8,1056 271.8,1058 271.8,1060 271.8,1062 271.8,1064 271.9,1066 272,1068 272.2,1070 272.4,1072 272.7,1074 273,1076 273.2,1078 273.5,1080 273.8,1082 274,1084 274.2,1086 274.5,1088 274.8,1090 275.1,1092 275.4,1094 275.7,1096 276,1098 276.4,1100 276.8,1102 277.1,1104 277.6,1106 278,1108 278.5,1110 279,1112 279.5,1114 280.1,1116 280.6,1118 281.2,1120 281.8,1122 282.4,1124 283.3,1126 284.2,1128 285,1130 285.5,1132 285.8,1134 285.7,1136 285.4,1138 285.1,1140 284.6,1142 284,1144 283.5,1146 282.9,1148 282.3,1150 281.8,1152 281.2,1154 280.7,1156 280.2,1158 279.7,1160 279.1,1162 278.5,1164 277.9,1166 277.2,1168 276.5,1170 275.8,1172 274.9,1174 273.8,1176 272.8,1178L270.8,1178Z" fill="#d98b5f"/>
<line x1="270.8" y1="959" x2="270.8" y2="1178" stroke="#4a4a4a" stroke-width="1.6"/>
<line x1="270.8" y1="984" x2="270.8" y2="1125" stroke="#4a4a4a" stroke-width="4.2"/>
<circle cx="270.8" cy="1017" r="1.5" fill="#8a8a8a"/>
<path d="M315.9,963L315.9,963 315.8,965 315.5,967.1 315,969.1 314.5,971.2 313.8,973.2 313.2,975.3 312.3,977.3 310.8,979.4 309.2,981.4 308.4,983.5 308.5,985.5 309,987.6 309.9,989.6 310.8,991.7 311.8,993.7 312.9,995.8 314.1,997.8 314.9,999.9 315.1,1001.9 315.3,1004 315.3,1006L315.9,1006Z" fill="#597dbf"/>
<path d="M315.9,1002L315.9,1002 316.2,1004 316.4,1006 316.6,1008 316.8,1010 317,1012 317.2,1014 317.3,1016 317.4,1018 317.5,1020 317.5,1022 317.5,1024 317.5,1026 317.5,1028 317.5,1030 317.5,1032 317.5,1034 317.5,1036 317.5,1038 317.5,1040 317.5,1042 317.5,1044 317.5,1046 317.4,1048 317.3,1050 317.2,1052 317.1,1054 317,1056 317,1058 316.9,1060 316.9,1062 316.9,1064 316.9,1066 317,1068 317,1070 317.1,1072 317.2,1074 317.2,1076 317.3,1078 317.4,1080 317.5,1082 317.6,1084 317.8,1086 317.9,1088 318.1,1090 318.3,1092 318.6,1094 318.9,1096 319.2,1098 319.5,1100 319.9,1102 320.5,1104 321.5,1106 322.7,1108 324,1110 325.4,1112 326.7,1114 327.9,1116 328.9,1118 329.8,1120 330.7,1122 331.5,1124 332.3,1126 332.9,1128 333.4,1130 333.5,1132 333.5,1134 333.5,1136 333.5,1138 333.4,1140 333.4,1142 333.3,1144 333.2,1146 333.1,1148 333,1150 332.9,1152 332.6,1154 332.1,1156 331.4,1158 330.6,1160 329.9,1162 329.2,1164 328.4,1166 327.6,1168 326.8,1170 326,1172 325.2,1174 324.5,1176 323.9,1178 323.4,1180 322.8,1182 322.2,1184 321.7,1186 321.3,1188 321,1190 320.9,1192 320.9,1194 320.9,1196 320.9,1198 320.9,1200 320.9,1202 320.9,1204 320.9,1206 320.9,1208 320.9,1210 320.9,1212 320.9,1214 320.9,1216 320.8,1218 320.7,1220 320.6,1222 320.5,1224 320.4,1226 320.3,1228 320.1,1230 319.9,1232 319.6,1234 319.1,1236 318.4,1238 317.7,1240 316.9,1242L315.9,1242Z" fill="#d98b5f"/>
<line x1="315.9" y1="963" x2="315.9" y2="1242" stroke="#4a4a4a" stroke-width="1.6"/>
<line x1="315.9" y1="1018" x2="315.9" y2="1160" stroke="#4a4a4a" stroke-width="4.2"/>
<circle cx="315.9" cy="1128" r="1.5" fill="#8a8a8a"/>
<rect x="67.5" y="930.5" width="271" height="326.5" fill="none" stroke="#111" stroke-width="2.9"/>
<text x="492.2" y="920" font-size="44.3" font-weight="bold" text-anchor="middle" textLength="110.6" lengthAdjust="spacingAndGlyphs" fill="#8172b3">aSPL</text>
<path d="M379.3,1006L379.3,1006 379.3,1008 379.2,1010 379.2,1012 379.1,1014 379.1,1016 379.1,1018 379,1020 378.9,1022 378.9,1024 378.8,1026 378.8,1028 378.7,1030 378.6,1032 378.6,1034 378.5,1036 378.4,1038 378.4,1040 378.3,1042 378.2,1044 378.1,1046 378,1048 378,1050 377.9,1052 377.8,1054 377.6,1056 377.5,1058 377.4,1060 377.3,1062 377.1,1064 376.9,1066 376.7,1068 376.5,1070 376.3,1072 376.1,1074 375.8,1076 375.6,1078 375.4,1080 375.3,1082 375.2,1084 375.1,1086 375,1088 374.9,1090 374.8,1092 374.7,1094 374.6,1096 374.5,1098 374.4,1100 374.3,1102 374.1,1104 374,1106 373.8,1108 373.6,1110 373.3,1112 373.1,1114 372.9,1116 372.7,1118 372.5,1120 372.3,1122 372.1,1124 371.9,1126 371.6,1128 371.4,1130 371.2,1132 371,1134 370.9,1136 370.9,1138 371.1,1140 371.5,1142 372.2,1144 373,1146 373.8,1148 374.6,1150 375.3,1152 376,1154 376.8,1156 377.5,1158 378,1160 378.3,1162 378.3,1164 378.4,1166 378.4,1168 378.5,1170 378.5,1172 378.5,1174 378.5,1176 378.5,1178 378.6,1180 378.6,1182 378.6,1184 378.6,1186 378.6,1188 378.7,1190 378.7,1192 378.7,1194 378.8,1196 378.8,1198 378.8,1200 378.9,1202 378.9,1204 379,1206 379.1,1208 379.1,1210 379.2,1212 379.2,1214 379.3,1216L379.3,1216Z" fill="#597dbf"/>
<path d="M379.3,945L379.3,945 379.3,947 379.4,949 379.4,951 379.4,953 379.5,955 379.5,957 379.5,959 379.6,961.1 379.6,963.1 379.6,965.1 379.7,967.1 379.7,969.1 379.7,971.1 379.8,973.1 379.8,975.1 379.8,977.1 379.8,979.1 379.9,981.1 379.9,983.1 379.9,985.1 379.9,987.1 380,989.1 380,991.2 380,993.2 380,995.2 380,997.2 380,999.2 380,1001.2 380.1,1003.2 380.1,1005.2 380.1,1007.2 380.1,1009.2 380.1,1011.2 380.2,1013.2 380.2,1015.2 380.2,1017.2 380.2,1019.2 380.3,1021.3 380.3,1023.3 380.4,1025.3 380.5,1027.3 380.7,1029.3 380.9,1031.3 381,1033.3 381.2,1035.3 381.4,1037.3 381.5,1039.3 381.7,1041.3 381.7,1043.3 381.8,1045.3 381.9,1047.3 381.9,1049.4 382,1051.4 382,1053.4 382.1,1055.4 382.1,1057.4 382.2,1059.4 382.3,1061.4 382.4,1063.4 382.5,1065.4 382.6,1067.4 382.8,1069.4 383,1071.4 383.3,1073.4 383.5,1075.4 383.7,1077.4 384,1079.5 384.2,1081.5 384.5,1083.5 384.7,1085.5 385,1087.5 385.3,1089.5 385.6,1091.5 385.9,1093.5 386.2,1095.5 386.5,1097.5 386.9,1099.5 387.2,1101.5 387.6,1103.5 387.9,1105.5 388.3,1107.5 388.7,1109.6 389.1,1111.6 389.5,1113.6 390,1115.6 390.4,1117.6 390.8,1119.6 391.2,1121.6 391.6,1123.6 392,1125.6 392.5,1127.6 392.9,1129.6 393.4,1131.6 393.8,1133.6 394.2,1135.6 394.6,1137.6 394.9,1139.7 395.2,1141.7 395.5,1143.7 395.8,1145.7 396,1147.7 396.3,1149.7 396.5,1151.7 396.8,1153.7 397,1155.7 397.2,1157.7 397.3,1159.7 397.5,1161.7 397.6,1163.7 397.7,1165.7 397.7,1167.8 397.6,1169.8 397.3,1171.8 396.8,1173.8 396.2,1175.8 395.6,1177.8 394.9,1179.8 394.3,1181.8 393.8,1183.8 393.2,1185.8 392.6,1187.8 392,1189.8 391.3,1191.8 390.7,1193.8 390.1,1195.8 389.5,1197.9 388.9,1199.9 388.3,1201.9 387.8,1203.9 387.2,1205.9 386.7,1207.9 386.2,1209.9 385.7,1211.9 385.2,1213.9 384.8,1215.9 384.3,1217.9 383.8,1219.9 383.4,1221.9 382.9,1223.9 382.5,1225.9 382.1,1228 381.7,1230 381.2,1232 380.8,1234 380.4,1236 380,1238 379.7,1240 379.3,1242L379.3,1242Z" fill="#d98b5f"/>
<line x1="379.3" y1="945" x2="379.3" y2="1242" stroke="#4a4a4a" stroke-width="1.6"/>
<line x1="379.3" y1="1102" x2="379.3" y2="1168" stroke="#4a4a4a" stroke-width="4.2"/>
<circle cx="379.3" cy="1138" r="1.5" fill="#8a8a8a"/>
<path d="M424.4,968L424.4,968 424.4,970 424.4,972 424.4,974 424.4,976 424.4,978 424.4,980 424.4,982 424.4,984 424.3,986 424.3,988 424.3,990 424.2,992 424.2,994 424.2,996 424.1,998 424.1,1000 424,1002 424,1004 423.9,1006 423.9,1008 423.8,1010 423.8,1012 423.7,1014 423.6,1016 423.6,1018 423.5,1020 423.4,1022 423.3,1024 423.2,1026 423,1028 422.8,1030 422.5,1032 422.3,1034 422,1036 421.8,1038 421.6,1040 421.4,1042 421.3,1044 421.2,1046 421,1048 420.9,1050 420.8,1052 420.7,1054 420.6,1056 420.5,1058 420.5,1060 420.4,1062 420.5,1064 420.6,1066 420.8,1068 420.9,1070 421.1,1072 421.3,1074 421.4,1076 421.4,1078 421.3,1080 421.1,1082 420.7,1084 420.2,1086 419.6,1088 419,1090 418.4,1092 417.7,1094 416.8,1096 416.4,1098 416.6,1100 416.8,1102 417.3,1104 417.8,1106 418.3,1108 418.9,1110 419.4,1112 420,1114 420.8,1116 421.5,1118 422.1,1120 422.4,1122 422.7,1124 422.9,1126 423.1,1128 423.3,1130 423.5,1132 423.6,1134 423.7,1136 423.8,1138 423.8,1140 423.8,1142L424.4,1142Z" fill="#597dbf"/>
<path d="M424.4,968L424.4,968 424.5,970 424.6,972 424.7,974 424.7,976 424.8,978 424.8,980 424.9,982 425,984 425,986 425.1,988 425.1,990 425.2,992 425.2,994 425.3,996 425.4,998 425.4,1000 425.4,1002 425.5,1004 425.5,1006 425.6,1008 425.6,1010 425.6,1012 425.7,1014 425.7,1016 425.7,1018 425.8,1020 425.8,1022 425.8,1024 425.9,1026 425.9,1028 426,1030 426.1,1032 426.1,1034 426.2,1036 426.3,1038 426.5,1040 426.6,1042 426.7,1044 426.9,1046 427.1,1048 427.3,1050 427.4,1052 427.7,1054 427.9,1056 428.2,1058 428.5,1060 428.8,1062 429.1,1064 429.5,1066 429.8,1068 430.1,1070 430.4,1072 430.7,1074 431,1076 431.3,1078 431.6,1080 431.9,1082 432.2,1084 432.5,1086 432.8,1088 433.1,1090 433.4,1092 433.8,1094 434.2,1096 434.6,1098 435,1100 435.4,1102 435.8,1104 436.2,1106 436.6,1108 437,1110 437.4,1112 437.9,1114 438.4,1116 438.9,1118 439.4,1120 439.9,1122 440.4,1124 440.8,1126 441.2,1128 441.4,1130 441.4,1132 441.4,1134 441.4,1136 441.4,1138 441.4,1140 441.4,1142 441.4,1144 441.4,1146 441.4,1148 441.4,1150 441.4,1152 441.3,1154 441,1156 440.6,1158 440,1160 439.3,1162 438.5,1164 437.7,1166 436.9,1168 436.1,1170 435.4,1172 434.8,1174 434,1176 433.3,1178 432.5,1180 431.8,1182 431.1,1184 430.4,1186 429.9,1188 429.3,1190 428.7,1192 428.1,1194 427.6,1196 427.2,1198 426.8,1200 426.4,1202 426.2,1204 425.9,1206 425.7,1208 425.4,1210 425.2,1212 425,1214 424.8,1216 424.7,1218 424.5,1220 424.5,1222 424.4,1224L424.4,1224Z" fill="#d98b5f"/>
<line x1="424.4" y1="968" x2="424.4" y2="1224" stroke="#4a4a4a" stroke-width="1.6"/>
<line x1="424.4" y1="1085" x2="424.4" y2="1147" stroke="#4a4a4a" stroke-width="4.2"/>
<circle cx="424.4" cy="1115" r="1.5" fill="#8a8a8a"/>
<path d="M469.6,994L469.6,994 469.6,996 469.6,998.1 469.6,1000.1 469.6,1002.1 469.5,1004.2 469.5,1006.2 469.4,1008.2 469.3,1010.3 469.3,1012.3 469.2,1014.3 469.1,1016.4 469,1018.4 468.7,1020.4 468.3,1022.5 467.7,1024.5 466.8,1026.5 465.8,1028.6 465,1030.6 464.6,1032.6 465.1,1034.7 466.1,1036.7 467.2,1038.7 467.9,1040.8 468,1042.8 467.9,1044.8 467.7,1046.9 467,1048.9 465.4,1051 463.4,1053 461.9,1055 461,1057.1 460.2,1059.1 459.5,1061.1 459.1,1063.2 459.1,1065.2 460,1067.2 461.3,1069.3 462.5,1071.3 463,1073.3 463,1075.4 463,1077.4 463,1079.4 462.1,1081.5 460.8,1083.5 460,1085.5 460.3,1087.6 461.1,1089.6 462.2,1091.6 463.3,1093.7 464.6,1095.7 466.1,1097.7 467.7,1099.8 469.6,1101.8L469.6,1101.8Z" fill="#597dbf"/>
<path d="M469.6,994L469.6,994 469.7,996 469.8,998 469.8,1000 469.9,1002.1 470,1004.1 470,1006.1 470.1,1008.1 470.1,1010.1 470.2,1012.1 470.2,1014.1 470.3,1016.1 470.3,1018.2 470.3,1020.2 470.3,1022.2 470.3,1024.2 470.3,1026.2 470.4,1028.2 470.4,1030.2 470.4,1032.3 470.4,1034.3 470.4,1036.3 470.4,1038.3 470.5,1040.3 470.5,1042.3 470.5,1044.3 470.6,1046.4 470.8,1048.4 471.8,1050.4 472.9,1052.4 473.7,1054.4 474.4,1056.4 475.1,1058.4 475.7,1060.4 476.3,1062.5 477,1064.5 477.9,1066.5 478.8,1068.5 479.7,1070.5 480.6,1072.5 481.3,1074.5 481.8,1076.6 482.2,1078.6 482.5,1080.6 482.8,1082.6 483.1,1084.6 483.4,1086.6 483.7,1088.6 483.9,1090.6 484.2,1092.7 484.5,1094.7 484.8,1096.7 485.1,1098.7 485.4,1100.7 485.7,1102.7 486,1104.7 486.3,1106.8 486.7,1108.8 487,1110.8 487.5,1112.8 487.8,1114.8 487.7,1116.8 487,1118.8 486,1120.8 484.9,1122.9 484,1124.9 483.4,1126.9 482.9,1128.9 482.6,1130.9 482.3,1132.9 482.2,1134.9 482.5,1137 483,1139 483.5,1141 483.8,1143 483.6,1145 482.9,1147 481.8,1149 480.5,1151.1 479.2,1153.1 478.2,1155.1 477.3,1157.1 476.6,1159.1 475.8,1161.1 475,1163.1 474.2,1165.1 473.2,1167.2 472.1,1169.2 470.9,1171.2 469.6,1173.2L469.6,1173.2Z" fill="#d98b5f"/>
<line x1="469.6" y1="994" x2="469.6" y2="1173.2" stroke="#4a4a4a" stroke-width="1.6"/>
<line x1="469.6" y1="1064.4" x2="469.6" y2="1119.8" stroke="#4a4a4a" stroke-width="4.2"/>
<circle cx="469.6" cy="1090.4" r="1.5" fill="#8a8a8a"/>
<path d="M514.8,992.4L514.8,992.4 512.8,994.4 511.1,996.4 509.8,998.5 508.8,1000.5 508.3,1002.5 508,1004.5 507.8,1006.5 507.8,1008.6 508.2,1010.6 508.6,1012.6 508.9,1014.6 509,1016.7 508.8,1018.7 508.6,1020.7 508.5,1022.7 508.4,1024.7 508.9,1026.8 509.8,1028.8 510.9,1030.8 511.7,1032.8 511.6,1034.8 510.3,1036.9 508.3,1038.9 506.5,1040.9 505.1,1042.9 503.6,1044.9 502.3,1047 501.3,1049 501,1051 501.6,1053 502.8,1055 504.2,1057.1 505.2,1059.1 506,1061.1 506.7,1063.1 507.4,1065.2 508.2,1067.2 508.9,1069.2 509.6,1071.2 510.4,1073.2 511.1,1075.3 511.8,1077.3 512.6,1079.3 513.1,1081.3 513.3,1083.3 513.4,1085.4 513.4,1087.4 513.5,1089.4 513.5,1091.4 513.6,1093.4 513.6,1095.5 513.7,1097.5 513.7,1099.5 513.8,1101.5 513.8,1103.5 513.9,1105.6 514,1107.6 514.1,1109.6 514.1,1111.6 514.2,1113.7 514.3,1115.7 514.4,1117.7 514.4,1119.7 514.5,1121.7 514.6,1123.8 514.7,1125.8 514.8,1127.8L514.8,1127.8Z" fill="#597dbf"/>
<path d="M514.8,1048.4L514.8,1048.4 515.5,1050.4 516.2,1052.4 517.1,1054.4 518,1056.4 519,1058.5 520.3,1060.5 521.5,1062.5 522.6,1064.5 523.7,1066.5 524.7,1068.5 525.7,1070.5 526.5,1072.5 526.9,1074.5 526.8,1076.6 525.5,1078.6 523.9,1080.6 522.9,1082.6 522.6,1084.6 522.2,1086.6 522,1088.6 522,1090.6 522.4,1092.6 523.3,1094.7 524.4,1096.7 525.5,1098.7 527.1,1100.7 529,1102.7 530.9,1104.7 532.3,1106.7 532.8,1108.7 531.6,1110.8 529.3,1112.8 527.1,1114.8 526.4,1116.8 526.4,1118.8 526.4,1120.8 526.4,1122.8 526.1,1124.8 525.2,1126.8 523.9,1128.9 522.7,1130.9 521.8,1132.9 521.1,1134.9 520.5,1136.9 519.9,1138.9 519.4,1140.9 518.8,1142.9 518.2,1144.9 517.5,1147 516.8,1149 516.2,1151 515.5,1153 514.8,1155L514.8,1155Z" fill="#d98b5f"/>
<line x1="514.8" y1="992.4" x2="514.8" y2="1155" stroke="#4a4a4a" stroke-width="1.6"/>
<line x1="514.8" y1="1049.6" x2="514.8" y2="1109.6" stroke="#4a4a4a" stroke-width="4.2"/>
<circle cx="514.8" cy="1078.6" r="1.5" fill="#8a8a8a"/>
<path d="M560,988L560,988 556.3,990 556,992 556,994 556,996.1 556,998.1 555.8,1000.1 555.4,1002.1 554.8,1004.1 554.1,1006.1 553.3,1008.2 552.4,1010.2 551.3,1012.2 550.2,1014.2 549.3,1016.2 548.4,1018.2 547.5,1020.2 546.7,1022.3 545.9,1024.3 545,1026.3 544,1028.3 543.2,1030.3 542.8,1032.3 543.5,1034.4 545,1036.4 545.7,1038.4 545.1,1040.4 543.9,1042.4 542.8,1044.4 542.4,1046.5 543.1,1048.5 544.6,1050.5 546.5,1052.5 548.5,1054.5 550.4,1056.5 552.4,1058.5 554.4,1060.6 556.4,1062.6 557.5,1064.6 556.9,1066.6 555.7,1068.6 554.8,1070.6 554.8,1072.7 555.1,1074.7 555.5,1076.7 556,1078.7 556.5,1080.7 557.3,1082.7 558.2,1084.8 558.8,1086.8 559,1088.8 559,1090.8 559,1092.8 559,1094.8 559,1096.8 559,1098.9 559,1100.9 558.8,1102.9 558.2,1104.9 557.6,1106.9 557.6,1108.9 557.6,1111 557.6,1113 557.9,1115 560,1117L560,1117Z" fill="#597dbf"/>
<path d="M560,968L560,968 561,970 561.7,972 561.9,974.1 561.7,976.1 561.2,978.1 560.7,980.1 560.6,982.2 560.6,984.2 560.6,986.2 560.6,988.2 560.6,990.2 560.6,992.3 560.6,994.3 560.6,996.3 560.6,998.3 560.6,1000.3 560.6,1002.4 560.6,1004.4 560.6,1006.4 560.6,1008.4 560.6,1010.5 560.6,1012.5 560.6,1014.5 560.6,1016.5 560.6,1018.5 560.6,1020.6 560.6,1022.6 560.6,1024.6 560.6,1026.6 560.6,1028.7 560.6,1030.7 560.6,1032.7 560.6,1034.7 560.6,1036.7 560.6,1038.8 560.6,1040.8 560.6,1042.8 560.6,1044.8 560.6,1046.8 560.7,1048.9 560.8,1050.9 561,1052.9 561.2,1054.9 561.4,1057 561.6,1059 562.2,1061 563.1,1063 564.1,1065 565.2,1067.1 566.5,1069.1 567.9,1071.1 569.2,1073.1 570.3,1075.1 571.3,1077.2 572.3,1079.2 573.2,1081.2 573.8,1083.2 573.9,1085.3 573.1,1087.3 571.6,1089.3 570.1,1091.3 569.3,1093.3 568.8,1095.4 568.4,1097.4 568.5,1099.4 569.2,1101.4 570.2,1103.5 571.2,1105.5 571.8,1107.5 572,1109.5 572.2,1111.5 572.3,1113.6 572.3,1115.6 572.1,1117.6 571.6,1119.6 570.8,1121.6 569.8,1123.7 568.8,1125.7 567.6,1127.7 565.8,1129.7 564.1,1131.8 563.1,1133.8 562.4,1135.8L560,1135.8Z" fill="#d98b5f"/>
<line x1="560" y1="968" x2="560" y2="1135.8" stroke="#4a4a4a" stroke-width="1.6"/>
<line x1="560" y1="1031.4" x2="560" y2="1090.4" stroke="#4a4a4a" stroke-width="4.2"/>
<circle cx="560" cy="1060.4" r="1.5" fill="#8a8a8a"/>
<path d="M605.1,995.8L605.1,995.8 602.6,997.8 600.8,999.9 600.1,1001.9 600.4,1003.9 601.1,1005.9 601.3,1008 601.2,1010 601,1012 600.8,1014 600.7,1016.1 601.4,1018.1 602.5,1020.1 603.4,1022.1 604,1024.2 604.5,1026.2 604.7,1028.2 604.2,1030.2 603.2,1032.3 602.1,1034.3 601.2,1036.3 600.5,1038.3 599.9,1040.4 599.3,1042.4 598.8,1044.4 598.5,1046.4 598.6,1048.5 599.4,1050.5 600.5,1052.5 601.9,1054.5 603.3,1056.6 605.1,1058.6L605.1,1058.6Z" fill="#597dbf"/>
<path d="M605.1,1005.4L607.5,1005.4 608.2,1007.4 608.5,1009.4 608.7,1011.5 608.7,1013.5 608.2,1015.5 607.1,1017.5 606.1,1019.6 605.7,1021.6 605.7,1023.6 605.7,1025.6 605.7,1027.6 605.7,1029.7 605.8,1031.7 606.4,1033.7 607.3,1035.7 608.4,1037.7 609.5,1039.8 610.4,1041.8 611.2,1043.8 612.1,1045.8 612.9,1047.9 613.7,1049.9 614.2,1051.9 614.4,1053.9 614.6,1055.9 614.7,1058 614.8,1060 614.9,1062 614.9,1064 614.8,1066.1 614.5,1068.1 614,1070.1 613.5,1072.1 613.2,1074.1 613.1,1076.2 613.2,1078.2 613.2,1080.2 613.4,1082.2 613.5,1084.2 613.7,1086.3 613.8,1088.3 614.1,1090.3 614.4,1092.3 614.8,1094.4 615.3,1096.4 615.9,1098.4 617,1100.4 618.7,1102.4 620.5,1104.5 621.6,1106.5 621.7,1108.5 621.7,1110.5 621.7,1112.5 621.7,1114.6 621.6,1116.6 620.8,1118.6 619.6,1120.6 618.2,1122.7 616.9,1124.7 615.9,1126.7 615.1,1128.7 614.3,1130.7 613.6,1132.8 612.9,1134.8 612.3,1136.8 611.7,1138.8 611.1,1140.9 610.5,1142.9 610,1144.9 609.4,1146.9 608.9,1148.9 608.4,1151 607.9,1153 607.5,1155 607.2,1157 606.8,1159 606.5,1161.1 606.2,1163.1 605.9,1165.1 605.7,1167.1 605.4,1169.2 605.3,1171.2 605.1,1173.2L605.1,1173.2Z" fill="#d98b5f"/>
<line x1="605.1" y1="995.8" x2="605.1" y2="1176" stroke="#4a4a4a" stroke-width="1.6"/>
<line x1="605.1" y1="1046.2" x2="605.1" y2="1116.4" stroke="#4a4a4a" stroke-width="4.2"/>
<circle cx="605.1" cy="1081.4" r="1.5" fill="#8a8a8a"/>
<rect x="356.7" y="930.5" width="271" height="326.5" fill="none" stroke="#111" stroke-width="2.9"/>
<text x="781.3" y="920" font-size="44.3" font-weight="bold" text-anchor="middle" textLength="85.7" lengthAdjust="spacingAndGlyphs" fill="#8172b3">aCC</text>
<path d="M668.4,994L668.4,994 668.4,996 668.3,998 668.3,1000 668.2,1002 668.2,1004 668.2,1006 668.1,1008 668.1,1010 668,1012 668,1014 667.9,1016 667.9,1018 667.8,1020 667.8,1022 667.7,1024 667.7,1026 667.6,1028 667.6,1030 667.5,1032 667.5,1034 667.4,1036 667.4,1038 667.3,1040 667.2,1042 667.2,1044 667.1,1046 667,1048 666.9,1050 666.8,1052 666.7,1054 666.5,1056 666.3,1058 666.1,1060 665.9,1062 665.7,1064 665.4,1066 665.1,1068 664.7,1070 664.4,1072 663.8,1074 663,1076 662,1078 661.2,1080 660.8,1082 660.6,1084 660.4,1086 660.2,1088 660.1,1090 660,1092 660,1094 660.1,1096 660.5,1098 660.9,1100 661.4,1102 661.9,1104 662.3,1106 662.4,1108 662.3,1110 662.1,1112 661.8,1114 661.4,1116 661.1,1118 660.9,1120 660.8,1122 660.9,1124 661.1,1126 661.3,1128 661.7,1130 662,1132 662.4,1134 662.8,1136 663.2,1138 663.7,1140 664.3,1142 664.8,1144 665.3,1146 665.8,1148 666.1,1150 666.4,1152 666.5,1154 666.7,1156 666.8,1158 666.9,1160 667,1162 667.1,1164 667.2,1166 667.3,1168 667.4,1170 667.4,1172 667.5,1174 667.6,1176 667.6,1178 667.7,1180 667.8,1182 667.9,1184 667.9,1186 668,1188 668.1,1190 668.1,1192 668.2,1194 668.2,1196 668.3,1198 668.3,1200 668.4,1202L668.4,1202Z" fill="#597dbf"/>
<path d="M668.4,945L668.4,945 668.5,947 668.6,949 668.8,951 668.9,953 669,955 669.1,957 669.2,959 669.3,961.1 669.4,963.1 669.5,965.1 669.6,967.1 669.7,969.1 669.8,971.1 669.9,973.1 670,975.1 670.1,977.1 670.2,979.1 670.3,981.1 670.5,983.1 670.7,985.1 671,987.1 671.4,989.1 671.8,991.2 672.2,993.2 672.7,995.2 673.2,997.2 673.7,999.2 674.2,1001.2 674.7,1003.2 675.2,1005.2 675.8,1007.2 676.4,1009.2 677,1011.2 677.7,1013.2 678.3,1015.2 678.9,1017.2 679.6,1019.2 680.2,1021.3 680.8,1023.3 681.4,1025.3 682.1,1027.3 682.9,1029.3 683.6,1031.3 684.2,1033.3 684.8,1035.3 685.3,1037.3 685.7,1039.3 685.9,1041.3 686,1043.3 686.1,1045.3 686.2,1047.3 686.2,1049.4 686.3,1051.4 686.3,1053.4 686.3,1055.4 686.4,1057.4 686.4,1059.4 686.4,1061.4 686.4,1063.4 686.3,1065.4 686.2,1067.4 686,1069.4 685.8,1071.4 685.5,1073.4 685.3,1075.4 685,1077.4 684.7,1079.5 684.5,1081.5 684.2,1083.5 683.8,1085.5 683.4,1087.5 683,1089.5 682.6,1091.5 682.1,1093.5 681.7,1095.5 681.3,1097.5 680.8,1099.5 680.5,1101.5 680.1,1103.5 679.8,1105.5 679.5,1107.5 679.2,1109.6 678.9,1111.6 678.6,1113.6 678.3,1115.6 678,1117.6 677.7,1119.6 677.4,1121.6 677.1,1123.6 676.8,1125.6 676.5,1127.6 676.1,1129.6 675.8,1131.6 675.4,1133.6 675.1,1135.6 674.8,1137.6 674.6,1139.7 674.4,1141.7 674.3,1143.7 674.2,1145.7 674.1,1147.7 674,1149.7 673.9,1151.7 673.8,1153.7 673.8,1155.7 673.7,1157.7 673.5,1159.7 673.4,1161.7 673.2,1163.7 672.8,1165.7 672.4,1167.8 671.9,1169.8 671.3,1171.8 670.8,1173.8 670.3,1175.8 669.9,1177.8 669.6,1179.8 669.4,1181.8 669.3,1183.8 669.3,1185.8 669.2,1187.8 669.2,1189.8 669.1,1191.8 669.1,1193.8 669.1,1195.8 669,1197.9 669,1199.9 669,1201.9 669,1203.9 668.9,1205.9 668.9,1207.9 668.8,1209.9 668.8,1211.9 668.8,1213.9 668.7,1215.9 668.7,1217.9 668.7,1219.9 668.7,1221.9 668.6,1223.9 668.6,1225.9 668.6,1228 668.5,1230 668.5,1232 668.5,1234 668.5,1236 668.4,1238 668.4,1240 668.4,1242L668.4,1242Z" fill="#d98b5f"/>
<line x1="668.4" y1="945" x2="668.4" y2="1242" stroke="#4a4a4a" stroke-width="1.6"/>
<line x1="668.4" y1="1053" x2="668.4" y2="1127" stroke="#4a4a4a" stroke-width="4.2"/>
<circle cx="668.4" cy="1092" r="1.5" fill="#8a8a8a"/>
<path d="M713.5,1082L713.5,1082 713.5,1084 713.5,1086 713.4,1088 713.4,1090 713.2,1092 713.1,1094 713,1096 712.9,1098 712.7,1100 712.5,1102 712.3,1104 712.1,1106 711.7,1108 711.3,1110 710.9,1112 710.5,1114 710,1116 709.5,1118 709,1120 708.5,1122 708,1124 707.4,1126 706.7,1128 706.1,1130 705.7,1132 705.5,1134 705.7,1136 706.2,1138 706.8,1140 707.5,1142 708.1,1144 708.5,1146 708.9,1148 709.2,1150 709.6,1152 709.9,1154 710.2,1156 710.4,1158 710.5,1160 710.5,1162 710.5,1164 710.5,1166 710.5,1168 710.5,1170 710.5,1172 710.5,1174 710.7,1176 711,1178 711.5,1180 712,1182 712.3,1184 712.5,1186 712.6,1188 712.7,1190 712.8,1192 712.8,1194 712.9,1196 712.9,1198 712.9,1200 712.9,1202L713.5,1202Z" fill="#597dbf"/>
<path d="M713.5,983L713.5,983 713.6,985 713.6,987 713.6,989 713.7,991 713.8,993 713.8,995.1 713.9,997.1 714,999.1 714.1,1001.1 714.2,1003.1 714.4,1005.1 714.5,1007.1 714.7,1009.1 715,1011.1 715.2,1013.1 715.5,1015.1 715.8,1017.1 716.1,1019.2 716.4,1021.2 716.7,1023.2 717.1,1025.2 717.4,1027.2 717.8,1029.2 718.2,1031.2 718.6,1033.2 719.1,1035.2 719.5,1037.2 719.9,1039.2 720.4,1041.2 720.8,1043.3 721.3,1045.3 721.8,1047.3 722.3,1049.3 722.8,1051.3 723.3,1053.3 723.8,1055.3 724.4,1057.3 724.9,1059.3 725.4,1061.3 725.9,1063.3 726.5,1065.3 727.1,1067.4 727.7,1069.4 728.3,1071.4 728.8,1073.4 729.4,1075.4 729.8,1077.4 730.2,1079.4 730.5,1081.4 730.7,1083.4 730.8,1085.4 731,1087.4 731.1,1089.4 731.1,1091.5 731.1,1093.5 731,1095.5 730.7,1097.5 730.3,1099.5 729.9,1101.5 729.5,1103.5 729,1105.5 728.5,1107.5 728.1,1109.5 727.6,1111.5 727.3,1113.5 726.8,1115.6 726.4,1117.6 726,1119.6 725.6,1121.6 725.2,1123.6 724.8,1125.6 724.4,1127.6 724,1129.6 723.6,1131.6 723.3,1133.6 723,1135.6 722.6,1137.6 722.3,1139.7 722,1141.7 721.8,1143.7 721.5,1145.7 721.2,1147.7 720.9,1149.7 720.6,1151.7 720.3,1153.7 720,1155.7 719.7,1157.7 719.4,1159.7 719.2,1161.7 718.9,1163.8 718.6,1165.8 718.3,1167.8 717.9,1169.8 717.6,1171.8 717.2,1173.8 716.7,1175.8 716.1,1177.8 715.6,1179.8 715.1,1181.8 714.8,1183.8 714.6,1185.8 714.5,1187.9 714.4,1189.9 714.4,1191.9 714.3,1193.9 714.3,1195.9 714.2,1197.9 714.2,1199.9 714.2,1201.9 714.1,1203.9 714,1205.9 714,1207.9 713.9,1209.9 713.9,1212 713.8,1214 713.7,1216 713.7,1218 713.6,1220 713.5,1222L713.5,1222Z" fill="#d98b5f"/>
<line x1="713.5" y1="983" x2="713.5" y2="1222" stroke="#4a4a4a" stroke-width="1.6"/>
<line x1="713.5" y1="1082" x2="713.5" y2="1143" stroke="#4a4a4a" stroke-width="4.2"/>
<circle cx="713.5" cy="1114" r="1.5" fill="#8a8a8a"/>
<path d="M758.7,1106L758.7,1106 758.6,1108 758.5,1110 758.4,1112 758.3,1114 758.2,1116 758,1118 757.9,1120 757.7,1122 757.6,1124 757.4,1126 757.2,1128 757,1130 756.8,1132 756.4,1134 755.6,1136 753.5,1138 751.2,1140 749.7,1142 749.7,1144 750.5,1146 751.6,1148 752.8,1150 753.8,1152 754.1,1154 753.3,1156 751.7,1158 750,1160 748.8,1162 748.9,1164 750.1,1166 751.7,1168 753.2,1170 754.1,1172 754.5,1174 754.8,1176 755,1178 755.1,1180 755,1182 754.6,1184 754.1,1186 754.5,1188 756.2,1190 758.7,1192L758.7,1192Z" fill="#597dbf"/>
<path d="M758.7,1053.4L758.7,1053.4 759.8,1055.4 760.9,1057.4 761.9,1059.4 762.9,1061.4 763.9,1063.4 764.8,1065.4 765.6,1067.4 766.5,1069.4 767.3,1071.5 768.1,1073.5 768.9,1075.5 769.6,1077.5 770.2,1079.5 770.7,1081.5 771.2,1083.5 771.7,1085.5 772.1,1087.5 772.3,1089.5 772.2,1091.5 771.7,1093.5 771.1,1095.5 770.6,1097.5 770.5,1099.5 770.7,1101.5 770.9,1103.5 771.3,1105.5 771.7,1107.6 772.2,1109.6 772.9,1111.6 773.9,1113.6 775.1,1115.6 775.9,1117.6 776.1,1119.6 775.7,1121.6 775.1,1123.6 774.5,1125.6 774.1,1127.6 774.2,1129.6 774.6,1131.6 774.9,1133.6 775.1,1135.6 775,1137.6 774.9,1139.6 774.6,1141.7 774.3,1143.7 773.9,1145.7 773.3,1147.7 772.5,1149.7 771.5,1151.7 770.6,1153.7 769.4,1155.7 768,1157.7 766.7,1159.7 765.5,1161.7 764.9,1163.7 764.4,1165.7 764,1167.7 763.7,1169.7 763.4,1171.7 763.1,1173.7 762.8,1175.7 762.6,1177.8 762.5,1179.8 762.2,1181.8 762,1183.8 761.7,1185.8 761.2,1187.8 760.5,1189.8 759.7,1191.8 758.7,1193.8L758.7,1193.8Z" fill="#d98b5f"/>
<line x1="758.7" y1="1053" x2="758.7" y2="1212" stroke="#4a4a4a" stroke-width="1.6"/>
<line x1="758.7" y1="1110" x2="758.7" y2="1161" stroke="#4a4a4a" stroke-width="4.2"/>
<circle cx="758.7" cy="1142" r="1.5" fill="#8a8a8a"/>
<path d="M803.9,1106L803.9,1106 803,1108 802.7,1110 802.7,1112.1 802.7,1114.1 802.7,1116.1 802.7,1118.1 802.7,1120.2 802.8,1122.2 802.9,1124.2 803,1126.2 803.1,1128.3 803.1,1130.3 802.7,1132.3 802.1,1134.3 801.4,1136.3 800.9,1138.4 800.6,1140.4 800.4,1142.4 800.3,1144.4 800.8,1146.5 801.6,1148.5 801.8,1150.5 800.9,1152.5 799.7,1154.6 798.6,1156.6 797.5,1158.6 796.3,1160.6 795.1,1162.6 794,1164.7 792.9,1166.7 791.9,1168.7 790.9,1170.7 790.1,1172.8 790.1,1174.8 792.5,1176.8 795.1,1178.8 796.7,1180.9 798,1182.9 798.5,1184.9 798.2,1186.9 797.7,1188.9 797.4,1191 797.1,1193 796.8,1195 796.6,1197 796.4,1199.1 796.3,1201.1 796.5,1203.1 797.4,1205.1 798.7,1207.2 800,1209.2 801.5,1211.2L803.9,1211.2Z" fill="#597dbf"/>
<path d="M803.9,1077.6L803.9,1077.6 804.9,1079.6 805.8,1081.6 806.6,1083.7 807.2,1085.7 807.5,1087.7 807.7,1089.7 807.8,1091.7 808,1093.8 808.2,1095.8 808.5,1097.8 809.4,1099.8 811.1,1101.8 812.9,1103.9 814.6,1105.9 816.5,1107.9 817.1,1109.9 817.1,1111.9 817.1,1114 817.2,1116 818.3,1118 820,1120 821.3,1122 821.6,1124.1 821,1126.1 819.8,1128.1 818.5,1130.1 817.3,1132.2 816.3,1134.2 815.1,1136.2 814.2,1138.2 813.7,1140.2 813.9,1142.3 814.7,1144.3 815.8,1146.3 818,1148.3 820.3,1150.3 819.9,1152.4 817.3,1154.4 814.2,1156.4 812.2,1158.4 811,1160.4 809.9,1162.5 809.1,1164.5 808.4,1166.5 807.8,1168.5 807.2,1170.5 806.4,1172.6 805.3,1174.6 803.9,1176.6L803.9,1176.6Z" fill="#d98b5f"/>
<line x1="803.9" y1="1077.6" x2="803.9" y2="1211.2" stroke="#4a4a4a" stroke-width="1.6"/>
<line x1="803.9" y1="1121" x2="803.9" y2="1175.4" stroke="#4a4a4a" stroke-width="4.2"/>
<circle cx="803.9" cy="1150.4" r="1.5" fill="#8a8a8a"/>
<path d="M849,1117L849,1117 846.5,1119 846.1,1121.1 846.2,1123.1 846.4,1125.2 846.7,1127.2 847.3,1129.2 848,1131.3 848.4,1133.3 848.4,1135.3 848.4,1137.4 848.4,1139.4 848.3,1141.5 848.2,1143.5 848.1,1145.5 847.8,1147.6 847.1,1149.6 846.2,1151.6 845.3,1153.7 844.3,1155.7 843.7,1157.8 843.4,1159.8 842.9,1161.8 842,1163.9 840.2,1165.9 838.3,1167.9 835.7,1170 833.6,1172 833.3,1174 833.6,1176.1 833.8,1178.1 833.8,1180.2 833.5,1182.2 833,1184.2 831.7,1186.3 831.1,1188.3 832.1,1190.3 834.2,1192.4 836.2,1194.4 838.3,1196.5 840.5,1198.5 842.3,1200.5 843.2,1202.6 843.6,1204.6 844,1206.6 844.5,1208.7 845.2,1210.7 846.3,1212.8 849,1214.8L849,1214.8Z" fill="#597dbf"/>
<path d="M849,1099L851.8,1099 853.1,1101 854.2,1103 855.4,1105 856.6,1107 857.8,1109 858.7,1111 859.1,1113 859.4,1115 859.6,1117 859.8,1119 859.8,1121 859.4,1123 858.5,1125 857.4,1127 856.6,1129 856.5,1131.1 857.1,1133.1 858.1,1135.1 859.2,1137.1 860.2,1139.1 861.5,1141.1 862.8,1143.1 863.8,1145.1 864,1147.1 862.9,1149.1 861,1151.1 858.8,1153.1 856.9,1155.1 855.7,1157.1 854.8,1159.1 853.9,1161.1 852.7,1163.1 850.8,1165.1 849.7,1167.1 849.6,1169.1 849.5,1171.1 849.5,1173.1 849.5,1175.1 849.5,1177.1 849.5,1179.1 849.5,1181.1 849.5,1183.1 849.5,1185.1 849.5,1187.1 849.5,1189.1 849.5,1191.1 849.5,1193.1 849.5,1195.2 849.5,1197.2 849.5,1199.2 849.6,1201.2 849.6,1203.2 849.6,1205.2 849.7,1207.2 850.1,1209.2 850.6,1211.2 851.1,1213.2 851.4,1215.2 851.4,1217.2 851.4,1219.2 851.4,1221.2 851,1223.2 849,1225.2L849,1225.2Z" fill="#d98b5f"/>
<line x1="849" y1="1099" x2="849" y2="1226" stroke="#4a4a4a" stroke-width="1.6"/>
<line x1="849" y1="1140.6" x2="849" y2="1187" stroke="#4a4a4a" stroke-width="4.2"/>
<circle cx="849" cy="1166.2" r="1.5" fill="#8a8a8a"/>
<path d="M894.2,1168L894.2,1168 890.2,1170 888,1172.1 887,1174.2 887.2,1176.2 887.8,1178.2 888.6,1180.3 889.4,1182.3 890.5,1184.4 891.8,1186.5 892.7,1188.5 892.2,1190.5 890.2,1192.6 889.2,1194.7 888.8,1196.7 888.4,1198.8 888.2,1200.8 888.3,1202.8 889.1,1204.9 890.2,1207 891.8,1209L894.2,1209Z" fill="#597dbf"/>
<path d="M894.2,1051.6L894.2,1051.6 894.2,1053.6 894.2,1055.6 894.3,1057.7 894.3,1059.7 894.4,1061.7 894.5,1063.7 894.6,1065.7 894.7,1067.8 895,1069.8 896.4,1071.8 898.3,1073.8 900,1075.9 900.6,1077.9 900.8,1079.9 901,1081.9 901.2,1083.9 901.4,1086 901.7,1088 902,1090 902.3,1092 902.8,1094 903.3,1096.1 903.9,1098.1 905.1,1100.1 906.7,1102.1 908.1,1104.2 909.1,1106.2 910,1108.2 910.9,1110.2 911.6,1112.2 912,1114.3 911.9,1116.3 911.4,1118.3 910.6,1120.3 909.5,1122.3 908.4,1124.4 907.4,1126.4 906.4,1128.4 905.3,1130.4 904.3,1132.5 903.8,1134.5 904,1136.5 904.4,1138.5 904.9,1140.5 905.4,1142.6 905.6,1144.6 905.8,1146.6 906,1148.6 906.1,1150.6 906.2,1152.7 906.2,1154.7 906.2,1156.7 905.8,1158.7 905.1,1160.8 904.3,1162.8 903.5,1164.8 902.7,1166.8 902.1,1168.8 901.4,1170.9 900.7,1172.9 900.1,1174.9 899.6,1176.9 899.2,1178.9 898.9,1181 898.7,1183 898.5,1185 898.3,1187 898.1,1189.1 898,1191.1 897.9,1193.1 897.8,1195.1 897.7,1197.1 897.5,1199.2 896.5,1201.2 894.2,1203.2L894.2,1203.2Z" fill="#d98b5f"/>
<line x1="894.2" y1="1051.6" x2="894.2" y2="1209" stroke="#4a4a4a" stroke-width="1.6"/>
<line x1="894.2" y1="1112.8" x2="894.2" y2="1177.6" stroke="#4a4a4a" stroke-width="4.2"/>
<circle cx="894.2" cy="1150.4" r="1.5" fill="#8a8a8a"/>
<rect x="645.8" y="930.5" width="271" height="326.5" fill="none" stroke="#111" stroke-width="2.9"/>
<text x="1070.4" y="920" font-size="44.3" font-weight="bold" text-anchor="middle" textLength="121.9" lengthAdjust="spacingAndGlyphs" fill="#8172b3">Trans</text>
<path d="M957.5,945L957.5,945 957.2,947 956.9,949 956.6,951.1 956.2,953.1 955.8,955.1 955.5,957.1 955.1,959.1 954.7,961.2 954.2,963.2 953.7,965.2 953.2,967.2 952.6,969.2 952,971.3 951.5,973.3 951,975.3 950.6,977.3 950.3,979.4 949.9,981.4 949.6,983.4 949.4,985.4 949.2,987.4 949.1,989.5 949.1,991.5 949.3,993.5 949.5,995.5 949.8,997.5 950.2,999.6 950.6,1001.6 951,1003.6 951.4,1005.6 951.8,1007.6 952.3,1009.7 952.9,1011.7 953.4,1013.7 953.9,1015.7 954.4,1017.8 954.9,1019.8 955.4,1021.8 955.9,1023.8 956.3,1025.8 956.5,1027.9 956.6,1029.9 956.7,1031.9 956.7,1033.9 956.8,1035.9 956.8,1038 956.9,1040 956.9,1042L957.5,1042Z" fill="#597dbf"/>
<path d="M957.5,1006L957.5,1006 957.6,1008 957.8,1010 958,1012 958.3,1014 958.5,1016 958.8,1018 959.1,1020 959.5,1022 959.8,1024 960.3,1026 960.7,1028 961.3,1030 961.8,1032 962.5,1034 963.3,1036 964.2,1038 965.3,1040 966.4,1042 967.5,1044 968.5,1046 969.5,1048 970.6,1050 971.8,1052 972.9,1054 973.9,1056 974.7,1058 975.3,1060 975.5,1062 975.4,1064 975.1,1066 974.8,1068 974.3,1070 973.8,1072 973.3,1074 972.7,1076 972.2,1078 971.8,1080 971.5,1082 971.2,1084 970.9,1086 970.7,1088 970.5,1090 970.5,1092 970.6,1094 970.9,1096 971.3,1098 971.7,1100 972.1,1102 972.4,1104 972.5,1106 972.3,1108 971.8,1110 971,1112 970.2,1114 969.3,1116 968.5,1118 967.7,1120 966.9,1122 966,1124 965.1,1126 964.2,1128 963.3,1130 962.5,1132 961.6,1134 960.5,1136 959.6,1138 958.8,1140 958.5,1142 958.4,1144 958.3,1146 958.3,1148 958.2,1150 958.2,1152 958.2,1154 958.2,1156 958.1,1158 958.1,1160 958.1,1162 958.1,1164 958,1166 958,1168 958,1170 958,1172 957.9,1174 957.9,1176 957.9,1178 957.9,1180 957.9,1182 957.8,1184 957.8,1186 957.8,1188 957.8,1190 957.8,1192 957.7,1194 957.7,1196 957.7,1198 957.7,1200 957.7,1202 957.6,1204 957.6,1206 957.6,1208 957.6,1210 957.6,1212 957.6,1214 957.6,1216 957.6,1218 957.5,1220 957.5,1222 957.5,1224 957.5,1226 957.5,1228 957.5,1230 957.5,1232 957.5,1234 957.5,1236 957.5,1238 957.5,1240 957.5,1242L957.5,1242Z" fill="#d98b5f"/>
<line x1="957.5" y1="945" x2="957.5" y2="1242" stroke="#4a4a4a" stroke-width="1.6"/>
<line x1="957.5" y1="1013" x2="957.5" y2="1096" stroke="#4a4a4a" stroke-width="4.2"/>
<circle cx="957.5" cy="1060" r="1.5" fill="#8a8a8a"/>
<path d="M1002.6,976L1002.6,976 1002.2,978 1001.7,980 1001.2,982 1000.7,984 1000.2,986 999.6,988 999.1,990 998.5,992 997.8,994 997.2,996 996.6,998 996.1,1000 995.6,1002 995.3,1004 994.9,1006 994.6,1008 994.3,1010 994.2,1012 994.3,1014 994.6,1016 994.9,1018 995.3,1020 995.6,1022 996.1,1024 996.8,1026 997.5,1028 998.3,1030 999,1032 999.6,1034 1000.2,1036 1000.7,1038 1001.2,1040 1001.6,1042L1002.6,1042Z" fill="#597dbf"/>
<path d="M1002.6,1018L1002.6,1018 1002.8,1020 1003,1022 1003.3,1024 1003.6,1026 1003.9,1028 1004.3,1030 1004.6,1032 1005.1,1034 1005.6,1036 1006.1,1038 1006.7,1040 1007.4,1042 1008,1044 1008.6,1046 1009.3,1048 1010,1050 1010.7,1052 1011.5,1054 1012.2,1056 1013,1058 1013.8,1060 1014.6,1062 1015.6,1064 1016.8,1066 1018.1,1068 1019.2,1070 1020,1072 1020.2,1074 1020,1076 1019.3,1078 1018.4,1080 1017.5,1082 1016.6,1084 1015.9,1086 1015.6,1088 1015.7,1090 1015.8,1092 1015.9,1094 1016,1096 1016.2,1098 1016.4,1100 1016.6,1102 1017,1104 1017.6,1106 1018.3,1108 1019,1110 1019.6,1112 1020.1,1114 1020.2,1116 1020.1,1118 1019.6,1120 1018.9,1122 1018,1124 1017,1126 1015.9,1128 1014.7,1130 1013.6,1132 1012.3,1134 1010.7,1136 1009,1138 1007.5,1140 1006.6,1142 1006.1,1144 1005.7,1146 1005.3,1148 1004.9,1150 1004.6,1152 1004.3,1154 1004.1,1156 1003.9,1158 1003.7,1160 1003.6,1162 1003.6,1164 1003.5,1166 1003.5,1168 1003.5,1170 1003.4,1172 1003.4,1174 1003.4,1176 1003.3,1178 1003.3,1180 1003.2,1182 1003.2,1184 1003.2,1186 1003.1,1188 1003.1,1190 1003,1192 1003,1194 1002.9,1196 1002.9,1198 1002.8,1200 1002.8,1202 1002.7,1204 1002.6,1206L1002.6,1206Z" fill="#d98b5f"/>
<line x1="1002.6" y1="976" x2="1002.6" y2="1206" stroke="#4a4a4a" stroke-width="1.6"/>
<line x1="1002.6" y1="1035" x2="1002.6" y2="1110" stroke="#4a4a4a" stroke-width="4.2"/>
<circle cx="1002.6" cy="1075" r="1.5" fill="#8a8a8a"/>
<path d="M1047.8,981L1047.8,981 1047.4,983 1046.9,985 1046.3,987.1 1045.7,989.1 1045.1,991.1 1044.4,993.1 1043.5,995.2 1042.6,997.2 1041.5,999.2 1040.6,1001.2 1039.7,1003.3 1039,1005.3 1038.5,1007.3 1038,1009.4 1037.6,1011.4 1037.4,1013.4 1037.5,1015.4 1037.7,1017.5 1038.2,1019.5 1038.7,1021.5 1039.2,1023.5 1039.7,1025.5 1040.2,1027.6 1040.7,1029.6 1041.2,1031.6 1041.7,1033.7 1042.3,1035.7 1042.7,1037.7 1043.2,1039.7 1043.7,1041.8 1044.2,1043.8 1044.6,1045.8 1045,1047.8 1045.4,1049.8 1045.8,1051.9 1046.1,1053.9 1046.4,1055.9 1046.7,1058 1047,1060 1047.2,1062L1047.8,1062Z" fill="#597dbf"/>
<path d="M1047.8,1042L1047.8,1042 1048,1044 1048.4,1046 1049.1,1048 1049.9,1050 1050.8,1052 1052.1,1054 1053.9,1056 1056,1058 1058.1,1060 1059.8,1062 1061.4,1064 1063,1066 1064.4,1068 1065.4,1070 1065.8,1072 1065.5,1074 1064.7,1076 1063.6,1078 1062.6,1080 1061.8,1082 1061.3,1084 1060.9,1086 1060.5,1088 1060.1,1090 1059.8,1092 1059.5,1094 1059.3,1096 1059,1098 1058.9,1100 1058.8,1102 1058.9,1104 1059.2,1106 1059.5,1108 1059.7,1110 1059.8,1112 1059.6,1114 1059.1,1116 1058.3,1118 1057.5,1120 1056.8,1122 1056.2,1124 1055.5,1126 1054.8,1128 1054.1,1130 1053.5,1132 1052.9,1134 1052.3,1136 1051.8,1138 1051.4,1140 1050.9,1142 1050.5,1144 1050.1,1146 1049.8,1148 1049.6,1150 1049.4,1152 1049.3,1154 1049.2,1156 1049.2,1158 1049.1,1160 1049.1,1162 1049,1164 1049,1166 1048.9,1168 1048.9,1170 1048.8,1172 1048.7,1174 1048.6,1176 1048.6,1178 1048.5,1180 1048.4,1182 1048.4,1184 1048.3,1186 1048.3,1188 1048.2,1190 1048.2,1192 1048.1,1194 1048.1,1196 1048.1,1198 1048,1200 1048,1202 1048,1204 1047.9,1206 1047.9,1208 1047.9,1210 1047.9,1212 1047.8,1214 1047.8,1216 1047.8,1218 1047.8,1220 1047.8,1222L1047.8,1222Z" fill="#d98b5f"/>
<line x1="1047.8" y1="981" x2="1047.8" y2="1222" stroke="#4a4a4a" stroke-width="1.6"/>
<line x1="1047.8" y1="1041" x2="1047.8" y2="1109" stroke="#4a4a4a" stroke-width="4.2"/>
<circle cx="1047.8" cy="1074" r="1.5" fill="#8a8a8a"/>
<path d="M1093,983L1093,983 1092.8,985 1092.4,987 1091.9,989.1 1091.3,991.1 1090.6,993.1 1089.5,995.1 1088.2,997.1 1086.8,999.2 1085.5,1001.2 1084.3,1003.2 1083.1,1005.2 1082,1007.2 1081,1009.3 1080.2,1011.3 1079.7,1013.3 1079.2,1015.3 1079,1017.3 1079.1,1019.4 1079.5,1021.4 1080.2,1023.4 1081,1025.4 1081.8,1027.4 1082.5,1029.5 1083.2,1031.5 1083.9,1033.5 1084.7,1035.5 1085.4,1037.6 1086.2,1039.6 1086.8,1041.6 1087.5,1043.6 1088.2,1045.6 1088.9,1047.7 1089.5,1049.7 1089.9,1051.7 1090.2,1053.7 1090.5,1055.7 1090.8,1057.8 1090.9,1059.8 1091,1061.8 1090.9,1063.8 1090.7,1065.8 1090.4,1067.9 1090.1,1069.9 1090,1071.9 1090.1,1073.9 1090.3,1075.9 1090.8,1078 1091.3,1080 1092,1082L1093,1082Z" fill="#597dbf"/>
<path d="M1093,1058L1093,1058 1095.5,1060 1098,1062 1100.6,1064 1103.4,1066 1106.2,1068 1108.7,1070 1110.3,1072 1111,1074 1110.5,1076 1109.4,1078 1108.1,1080 1107,1082 1106.1,1084 1105.3,1086 1104.5,1088 1103.8,1090 1103,1092 1102.1,1094 1101.2,1096 1100.3,1098 1099.6,1100 1099,1102 1098.5,1104 1098.1,1106 1097.7,1108 1097.5,1110 1097.4,1112 1097.4,1114 1097.6,1116 1097.8,1118 1097.9,1120 1098,1122 1097.7,1124 1097,1126 1096.1,1128 1095.4,1130 1095,1132 1094.9,1134 1094.7,1136 1094.7,1138 1094.6,1140 1094.6,1142 1094.7,1144 1094.9,1146 1095.1,1148 1095.4,1150 1095.7,1152 1095.9,1154 1096,1156 1095.8,1158 1095.3,1160 1094.8,1162 1094.3,1164 1094,1166 1093.9,1168 1093.8,1170 1093.7,1172 1093.6,1174 1093.5,1176 1093.4,1178 1093.3,1180 1093.3,1182 1093.2,1184 1093.2,1186 1093.1,1188 1093.1,1190 1093,1192 1093,1194 1093,1196 1093,1198 1093,1200L1093,1200Z" fill="#d98b5f"/>
<line x1="1093" y1="983" x2="1093" y2="1200" stroke="#4a4a4a" stroke-width="1.6"/>
<line x1="1093" y1="1025" x2="1093" y2="1092" stroke="#4a4a4a" stroke-width="4.2"/>
<circle cx="1093" cy="1071" r="1.5" fill="#8a8a8a"/>
<path d="M1138.2,993L1138.2,993 1136.5,995 1134.9,997 1133.4,999 1131.8,1001.1 1130.3,1003.1 1128.8,1005.1 1127.2,1007.1 1125.3,1009.1 1123.3,1011.1 1121.6,1013.1 1120.7,1015.1 1120.6,1017.2 1120.9,1019.2 1121.5,1021.2 1122.2,1023.2 1122.9,1025.2 1123.6,1027.2 1124.4,1029.2 1125.3,1031.2 1126.2,1033.3 1127.1,1035.3 1127.9,1037.3 1128.6,1039.3 1129.2,1041.3 1129.8,1043.3 1130.4,1045.3 1131,1047.3 1131.5,1049.4 1132,1051.4 1132.5,1053.4 1132.9,1055.4 1133.3,1057.4 1133.7,1059.4 1134.1,1061.4 1134.4,1063.4 1134.7,1065.5 1135,1067.5 1135.2,1069.5 1135.5,1071.5 1135.7,1073.5 1135.9,1075.5 1136.1,1077.5 1136.3,1079.5 1136.5,1081.6 1136.6,1083.6 1136.8,1085.6 1136.9,1087.6 1137,1089.6 1137.1,1091.6 1137.2,1093.6 1137.3,1095.6 1137.3,1097.7 1137.4,1099.7 1137.4,1101.7 1137.5,1103.7 1137.5,1105.7 1137.5,1107.7 1137.5,1109.7 1137.5,1111.7 1137.5,1113.8 1137.5,1115.8 1137.4,1117.8 1137.3,1119.8 1137.2,1121.8 1137,1123.8 1136.9,1125.8 1136.8,1127.8 1136.7,1129.9 1136.6,1131.9 1136.5,1133.9 1136.4,1135.9 1136.3,1137.9 1136.2,1139.9 1136.2,1141.9 1136.2,1143.9 1136.3,1146 1136.6,1148 1136.8,1150 1137.2,1152L1138.2,1152Z" fill="#597dbf"/>
<path d="M1138.2,1062L1138.2,1062 1140.7,1064 1143.2,1066 1145.6,1068 1148.3,1070 1150.7,1072 1152.5,1074 1153.2,1076 1152.6,1078 1151.2,1080 1149.5,1082 1147.6,1084 1146.2,1086 1145,1088 1143.8,1090 1142.8,1092 1141.9,1094 1141.2,1096 1140.5,1098 1140,1100 1139.8,1102 1139.8,1104 1139.8,1106 1139.9,1108 1140,1110 1140.2,1112 1141,1114 1142.4,1116 1143.2,1118 1142.7,1120 1141.7,1122 1140.6,1124 1140.2,1126 1140.3,1128 1140.5,1130 1140.8,1132 1141.2,1134 1141.5,1136 1142,1138 1142.2,1140 1140.7,1142 1139.2,1144 1139,1146 1138.9,1148 1138.8,1150 1138.7,1152 1138.6,1154 1138.6,1156 1138.5,1158 1138.4,1160 1138.4,1162 1138.3,1164 1138.3,1166 1138.3,1168 1138.2,1170 1138.2,1172 1138.2,1174 1138.2,1176 1138.2,1178 1138.2,1180 1138.2,1182 1138.2,1184 1138.2,1186L1138.2,1186Z" fill="#d98b5f"/>
<line x1="1138.2" y1="993" x2="1138.2" y2="1186" stroke="#4a4a4a" stroke-width="1.6"/>
<line x1="1138.2" y1="1022" x2="1138.2" y2="1089" stroke="#4a4a4a" stroke-width="4.2"/>
<circle cx="1138.2" cy="1073" r="1.5" fill="#8a8a8a"/>
<path d="M1183.3,993L1183.3,993 1182.6,995 1181.9,997.1 1181.2,999.1 1180.6,1001.1 1179.9,1003.1 1179.2,1005.2 1178.4,1007.2 1177.7,1009.2 1177.1,1011.3 1176.6,1013.3 1176.3,1015.3 1176.4,1017.4 1176.6,1019.4 1176.9,1021.4 1177.2,1023.4 1177.6,1025.5 1178,1027.5 1178.5,1029.5 1179,1031.6 1179.5,1033.6 1179.9,1035.6 1180.3,1037.6 1180.5,1039.7 1180.8,1041.7 1181,1043.7 1181.2,1045.8 1181.3,1047.8 1181.5,1049.8 1181.7,1051.9 1181.9,1053.9 1182.1,1055.9 1182.3,1057.9 1182.5,1060 1182.7,1062L1183.3,1062Z" fill="#597dbf"/>
<path d="M1183.3,1062L1183.3,1062 1187.3,1064 1189.6,1066 1191.4,1068 1192.7,1070 1193.3,1072 1193.5,1074 1193.6,1076 1193.7,1078 1193.8,1080 1193.9,1082 1193.9,1084 1194,1086 1194.1,1088 1194.2,1090 1194.3,1092 1194.5,1094 1194.9,1096 1195.3,1098 1195.7,1100 1196.3,1102 1196.8,1104 1197.3,1106 1198,1108 1198.8,1110 1199.7,1112 1200.5,1114 1201.1,1116 1201.3,1118 1201,1120 1200.3,1122 1199.2,1124 1197.8,1126 1196.3,1128 1194.7,1130 1193.3,1132 1191.6,1134 1189.5,1136 1187.5,1138 1185.9,1140 1185.3,1142 1185.3,1144 1185.3,1146 1185.3,1148 1185.3,1150 1185.3,1152 1185.3,1154 1185.2,1156 1185.2,1158 1185,1160 1184.9,1162 1184.8,1164 1184.7,1166 1184.5,1168 1184.4,1170 1184.3,1172 1184.2,1174 1184.1,1176 1184.1,1178 1184,1180 1183.9,1182 1183.8,1184 1183.7,1186 1183.7,1188 1183.6,1190 1183.5,1192 1183.4,1194 1183.4,1196 1183.3,1198L1183.3,1198Z" fill="#d98b5f"/>
<line x1="1183.3" y1="993" x2="1183.3" y2="1198" stroke="#4a4a4a" stroke-width="1.6"/>
<line x1="1183.3" y1="1068" x2="1183.3" y2="1122" stroke="#4a4a4a" stroke-width="4.2"/>
<circle cx="1183.3" cy="1105" r="1.5" fill="#8a8a8a"/>
<rect x="934.9" y="930.5" width="271" height="326.5" fill="none" stroke="#111" stroke-width="2.9"/>
<text x="1359.5" y="920" font-size="44.3" font-weight="bold" text-anchor="middle" textLength="73.9" lengthAdjust="spacingAndGlyphs" fill="#8172b3">Dia</text>
<path d="M1246.6,1214L1246.6,1214 1245.1,1216 1243.6,1218 1241.6,1220 1239.5,1222 1238.6,1224 1239.3,1226 1240.9,1228 1242.6,1230 1244.3,1232 1245.6,1234 1246.1,1236 1246.5,1238 1246.6,1240L1246.6,1240Z" fill="#597dbf"/>
<path d="M1246.6,1043L1246.6,1043 1247,1045 1247.5,1047 1248.1,1049 1248.7,1051 1249.3,1053 1250.1,1055 1250.9,1057 1251.8,1059 1252.7,1061 1253.6,1063 1254.6,1065 1255.5,1067 1256.4,1069 1257.2,1071 1258,1073 1258.8,1075 1259.7,1077 1260.5,1079 1261.4,1081 1262.2,1083 1262.9,1085 1263.5,1087 1263.9,1089 1264.2,1091 1264.2,1093 1264,1095 1263.8,1097 1263.5,1099 1263.1,1101 1262.7,1103 1262.3,1105 1262,1107 1261.7,1109 1261.6,1111 1261.6,1113 1261.7,1115 1261.8,1117 1262,1119 1262.2,1121 1262.4,1123 1262.6,1125 1262.8,1127 1262.9,1129 1263,1131 1263,1133 1262.9,1135 1262.7,1137 1262.5,1139 1262.3,1141 1262,1143 1261.7,1145 1261.3,1147 1261,1149 1260.7,1151 1260.4,1153 1260.2,1155 1259.9,1157 1259.6,1159 1259.3,1161 1259,1163 1258.7,1165 1258.4,1167 1258.1,1169 1257.8,1171 1257.4,1173 1257,1175 1256.6,1177 1256.1,1179 1255.6,1181 1255.1,1183 1254.7,1185 1254.3,1187 1253.9,1189 1253.7,1191 1253.5,1193 1253.4,1195 1253.3,1197 1253.2,1199 1253.1,1201 1253.1,1203 1253,1205 1252.9,1207 1252.8,1209 1252.7,1211 1252.5,1213 1252.2,1215 1251.8,1217 1251.3,1219 1250.8,1221 1250.3,1223 1249.8,1225 1249.3,1227 1248.8,1229 1248.3,1231 1247.8,1233 1247.4,1235 1247.1,1237 1246.8,1239 1246.6,1241L1246.6,1241Z" fill="#d98b5f"/>
<line x1="1246.6" y1="1043" x2="1246.6" y2="1241" stroke="#4a4a4a" stroke-width="1.6"/>
<line x1="1246.6" y1="1111" x2="1246.6" y2="1217" stroke="#4a4a4a" stroke-width="4.2"/>
<circle cx="1246.6" cy="1161" r="1.5" fill="#8a8a8a"/>
<path d="M1291.8,1214L1291.8,1214 1289.8,1216 1287.8,1218 1285.2,1220 1283.8,1222 1284.5,1224 1286.2,1226 1287.8,1228 1288.9,1230 1290.1,1232 1291.2,1234L1291.8,1234Z" fill="#597dbf"/>
<path d="M1291.8,1032L1291.8,1032 1292.3,1034 1292.8,1036 1293.4,1038 1294.1,1040 1294.8,1042 1295.5,1044 1296.3,1046 1297.2,1048 1298.2,1050 1299.1,1052 1300.1,1054 1301.1,1056 1302,1058 1302.9,1060 1303.8,1062 1304.6,1064 1305.5,1066 1306.5,1068 1307.4,1070 1308.1,1072 1308.6,1074 1308.8,1076 1308.5,1078 1308,1080 1307.2,1082 1306.2,1084 1305.3,1086 1304.5,1088 1304,1090 1303.8,1092 1303.8,1094 1303.8,1096 1303.8,1098 1303.8,1100 1303.8,1102 1303.8,1104 1303.8,1106 1303.8,1108 1303.9,1110 1304.4,1112 1305.1,1114 1305.9,1116 1306.7,1118 1307.3,1120 1307.8,1122 1308,1124 1308.3,1126 1308.6,1128 1308.8,1130 1309.1,1132 1309.2,1134 1309.3,1136 1309.3,1138 1309.2,1140 1308.7,1142 1308,1144 1307.2,1146 1306.4,1148 1305.5,1150 1304.8,1152 1304.1,1154 1303.4,1156 1302.6,1158 1301.9,1160 1301.2,1162 1300.5,1164 1299.8,1166 1299.1,1168 1298.4,1170 1297.8,1172 1297,1174 1296.2,1176 1295.5,1178 1295,1180 1294.8,1182 1294.8,1184 1294.9,1186 1295,1188 1295.1,1190 1295.2,1192 1295.4,1194 1295.5,1196 1295.6,1198 1295.7,1200 1295.8,1202 1295.7,1204 1295.5,1206 1295.3,1208 1295,1210 1294.8,1212 1294.5,1214 1294.3,1216 1294,1218 1293.8,1220 1293.5,1222 1293.3,1224 1293,1226 1292.8,1228 1292.5,1230 1292.2,1232 1292,1234 1291.8,1236L1291.8,1236Z" fill="#d98b5f"/>
<line x1="1291.8" y1="1032" x2="1291.8" y2="1236" stroke="#4a4a4a" stroke-width="1.6"/>
<line x1="1291.8" y1="1093" x2="1291.8" y2="1212" stroke="#4a4a4a" stroke-width="4.2"/>
<circle cx="1291.8" cy="1144" r="1.5" fill="#8a8a8a"/>
<path d="M1336.9,1214L1336.9,1214 1333.9,1216 1330.9,1218 1327.3,1220 1327,1222 1330,1224 1332.9,1226 1334.6,1228 1335.9,1230L1336.9,1230Z" fill="#597dbf"/>
<path d="M1336.9,1051L1336.9,1051 1337.6,1053 1338.4,1055 1339.4,1057 1340.6,1059 1342.4,1061.1 1344.6,1063.1 1347,1065.1 1349.1,1067.1 1350.8,1069.1 1351.8,1071.1 1351.8,1073.1 1351,1075.1 1349.8,1077.1 1348.7,1079.2 1348,1081.2 1347.9,1083.2 1347.9,1085.2 1347.9,1087.2 1347.9,1089.2 1347.9,1091.2 1347.9,1093.2 1347.9,1095.2 1347.9,1097.3 1347.9,1099.3 1347.9,1101.3 1348,1103.3 1348.1,1105.3 1348.4,1107.3 1348.9,1109.3 1349.3,1111.3 1349.9,1113.3 1350.4,1115.4 1350.9,1117.4 1351.4,1119.4 1351.8,1121.4 1352.2,1123.4 1352.5,1125.4 1352.9,1127.4 1353.3,1129.4 1353.6,1131.4 1353.8,1133.5 1353.9,1135.5 1353.8,1137.5 1353.5,1139.5 1353,1141.5 1352.3,1143.5 1351.5,1145.5 1350.6,1147.5 1349.8,1149.6 1349.1,1151.6 1348.4,1153.6 1347.7,1155.6 1346.9,1157.6 1346.1,1159.6 1345.4,1161.6 1344.6,1163.6 1343.9,1165.6 1343.2,1167.7 1342.6,1169.7 1342,1171.7 1341.5,1173.7 1340.9,1175.7 1340.4,1177.7 1340.1,1179.7 1339.9,1181.7 1340.1,1183.7 1340.6,1185.8 1341.1,1187.8 1341.7,1189.8 1341.9,1191.8 1341.9,1193.8 1341.7,1195.8 1341.5,1197.8 1341.2,1199.8 1340.9,1201.8 1340.6,1203.9 1340.2,1205.9 1339.7,1207.9 1339.3,1209.9 1338.9,1211.9 1338.7,1213.9 1338.5,1215.9 1338.3,1217.9 1338.1,1219.9 1337.9,1222 1337.7,1224 1337.5,1226 1337.2,1228 1336.9,1230L1336.9,1230Z" fill="#d98b5f"/>
<line x1="1336.9" y1="1051" x2="1336.9" y2="1230" stroke="#4a4a4a" stroke-width="1.6"/>
<line x1="1336.9" y1="1111" x2="1336.9" y2="1216" stroke="#4a4a4a" stroke-width="4.2"/>
<circle cx="1336.9" cy="1150" r="1.5" fill="#8a8a8a"/>
<path d="M1382.1,1214L1382.1,1214 1378.8,1216 1375.1,1218 1369.8,1220 1370.1,1222 1376.1,1224 1379.2,1226 1381.1,1228L1382.1,1228Z" fill="#597dbf"/>
<path d="M1382.1,1088L1382.1,1088 1385.1,1090 1387,1092 1388.6,1094 1389.9,1096 1391.1,1098 1392.2,1100 1393.3,1102 1394.3,1104 1395.2,1106 1396,1108 1396.7,1110 1397.1,1112 1397.4,1114 1397.6,1116 1397.7,1118 1397.9,1120 1398.1,1122 1398.4,1124 1398.7,1126 1399.1,1128 1399.4,1130 1399.6,1132 1399.7,1134 1399.2,1136 1398,1138 1396.5,1140 1395.1,1142 1393.8,1144 1392.5,1146 1391.1,1148 1389.9,1150 1388.8,1152 1388.1,1154 1387.6,1156 1387.1,1158 1386.6,1160 1386.2,1162 1385.8,1164 1385.5,1166 1385.3,1168 1385.1,1170 1385.1,1172 1385.1,1174 1385.3,1176 1385.6,1178 1385.8,1180 1386.1,1182 1386.4,1184 1386.8,1186 1387.2,1188 1387.6,1190 1387.7,1192 1387.6,1194 1387.3,1196 1386.9,1198 1386.5,1200 1386.1,1202 1385.7,1204 1385.2,1206 1384.8,1208 1384.4,1210 1384.1,1212 1383.9,1214 1383.8,1216 1383.7,1218 1383.6,1220 1383.4,1222 1383.3,1224 1383.1,1226 1382.7,1228 1382.1,1230L1382.1,1230Z" fill="#d98b5f"/>
<line x1="1382.1" y1="1088" x2="1382.1" y2="1230" stroke="#4a4a4a" stroke-width="1.6"/>
<line x1="1382.1" y1="1125" x2="1382.1" y2="1217" stroke="#4a4a4a" stroke-width="4.2"/>
<circle cx="1382.1" cy="1190" r="1.5" fill="#8a8a8a"/>
<path d="M1427.2,1212L1427.2,1212 1423.4,1214 1419.2,1216 1413.4,1218 1409.7,1220 1413.4,1222 1419.2,1224 1423,1226 1426.2,1228L1427.2,1228Z" fill="#597dbf"/>
<path d="M1427.2,1088L1427.2,1088 1429,1090 1430.2,1092 1430.8,1094 1431.2,1096 1431.5,1098 1431.8,1100 1432.2,1102 1432.9,1104 1433.7,1106 1434.5,1108 1435.4,1110 1436.2,1112 1437.1,1114 1438.1,1116 1439,1118 1439.8,1120 1440.2,1122 1440.6,1124 1440.8,1126 1441.1,1128 1441.2,1130 1441.2,1132 1441,1134 1440.3,1136 1439.3,1138 1438.3,1140 1437.2,1142 1436.1,1144 1434.6,1146 1433.2,1148 1432,1150 1431.2,1152 1430.9,1154 1430.6,1156 1430.3,1158 1430,1160 1429.8,1162 1429.6,1164 1429.4,1166 1429.3,1168 1429.3,1170 1429.2,1172 1429.3,1174 1429.4,1176 1429.5,1178 1429.7,1180 1429.9,1182 1430.2,1184 1430.4,1186 1430.7,1188 1431,1190 1431.2,1192 1431.6,1194 1432,1196 1432.2,1198 1432,1200 1431.4,1202 1430.7,1204 1430.2,1206 1430,1208 1429.7,1210 1429.5,1212 1429.3,1214 1429.1,1216 1428.8,1218 1428.6,1220 1428.3,1222 1427.9,1224 1427.6,1226 1427.2,1228L1427.2,1228Z" fill="#d98b5f"/>
<line x1="1427.2" y1="1088" x2="1427.2" y2="1229" stroke="#4a4a4a" stroke-width="1.6"/>
<line x1="1427.2" y1="1134" x2="1427.2" y2="1220" stroke="#4a4a4a" stroke-width="4.2"/>
<circle cx="1427.2" cy="1204" r="1.5" fill="#8a8a8a"/>
<path d="M1472.4,1212L1472.4,1212 1470.3,1214 1468.4,1216 1466.5,1218 1465.4,1220 1466.9,1222 1469.4,1224 1471.4,1226L1472.4,1226Z" fill="#597dbf"/>
<path d="M1472.4,945L1472.4,945 1473.1,947 1473.8,949 1474.3,951 1474.5,953 1474.8,955 1475,957 1475.2,959.1 1475.4,961.1 1475.6,963.1 1475.7,965.1 1475.9,967.1 1476,969.1 1476.1,971.1 1476.2,973.1 1476.3,975.1 1476.4,977.1 1476.4,979.1 1476.4,981.1 1476.4,983.1 1476.4,985.1 1476.3,987.2 1476.3,989.2 1476.2,991.2 1476.1,993.2 1476,995.2 1475.9,997.2 1475.8,999.2 1475.7,1001.2 1475.6,1003.2 1475.5,1005.2 1475.5,1007.2 1475.4,1009.2 1475.4,1011.2 1475.4,1013.2 1475.4,1015.3 1475.5,1017.3 1475.6,1019.3 1475.7,1021.3 1475.8,1023.3 1475.9,1025.3 1476,1027.3 1476.2,1029.3 1476.4,1031.3 1476.6,1033.3 1477.1,1035.3 1477.8,1037.3 1478.7,1039.3 1479.7,1041.3 1480.7,1043.4 1481.7,1045.4 1482.7,1047.4 1483.6,1049.4 1484.2,1051.4 1484.8,1053.4 1485.3,1055.4 1485.8,1057.4 1486.2,1059.4 1486.4,1061.4 1486.3,1063.4 1485.9,1065.4 1485.3,1067.4 1484.6,1069.4 1483.9,1071.5 1483.2,1073.5 1482.7,1075.5 1482.4,1077.5 1482.5,1079.5 1482.6,1081.5 1482.9,1083.5 1483.2,1085.5 1483.5,1087.5 1483.9,1089.5 1484.3,1091.5 1484.8,1093.5 1485.3,1095.5 1486,1097.6 1486.8,1099.6 1487.5,1101.6 1488.3,1103.6 1488.9,1105.6 1489.5,1107.6 1489.8,1109.6 1490,1111.6 1490,1113.6 1490,1115.6 1489.9,1117.6 1489.7,1119.6 1489.6,1121.6 1489.4,1123.6 1489.2,1125.7 1489,1127.7 1488.7,1129.7 1488.5,1131.7 1488.1,1133.7 1487.5,1135.7 1486.8,1137.7 1485.9,1139.7 1484.9,1141.7 1483.9,1143.7 1482.7,1145.7 1481.6,1147.7 1480.6,1149.7 1479.5,1151.7 1478.4,1153.8 1477.1,1155.8 1475.9,1157.8 1474.9,1159.8 1474.4,1161.8 1474.4,1163.8 1474.5,1165.8 1474.6,1167.8 1474.8,1169.8 1474.9,1171.8 1475.1,1173.8 1475.2,1175.8 1475.3,1177.8 1475.4,1179.8 1475.4,1181.9 1475.4,1183.9 1475.4,1185.9 1475.4,1187.9 1475.4,1189.9 1475.4,1191.9 1475.4,1193.9 1475.4,1195.9 1475.4,1197.9 1475.4,1199.9 1475.4,1201.9 1475.3,1203.9 1474.9,1205.9 1474.3,1207.9 1473.8,1210 1473.4,1212 1473.2,1214 1472.9,1216 1472.7,1218 1472.5,1220 1472.4,1222L1472.4,1222Z" fill="#d98b5f"/>
<line x1="1472.4" y1="945" x2="1472.4" y2="1226" stroke="#4a4a4a" stroke-width="1.6"/>
<line x1="1472.4" y1="1065" x2="1472.4" y2="1204" stroke="#4a4a4a" stroke-width="4.2"/>
<circle cx="1472.4" cy="1121" r="1.5" fill="#8a8a8a"/>
<rect x="1224" y="930.5" width="271" height="326.5" fill="none" stroke="#111" stroke-width="2.9"/>
<text x="203" y="1300.1" font-size="44.3" font-weight="bold" text-anchor="middle" textLength="93.7" lengthAdjust="spacingAndGlyphs" fill="#8172b3">aND</text>
<path d="M90.1,1554L90.1,1554 88.5,1556 87.1,1558 85.5,1560 83.9,1562 82.6,1564 82.1,1566 82.4,1568 83.2,1570 84.1,1572 85.3,1574 86.8,1576 88.1,1578 88.9,1580 89.5,1582L90.1,1582Z" fill="#597dbf"/>
<path d="M90.1,1327L90.1,1327 90.5,1329 91,1331 91.5,1333 92,1335 92.6,1337 93.2,1339 93.8,1341.1 94.4,1343.1 95.2,1345.1 96,1347.1 96.8,1349.1 97.7,1351.1 98.6,1353.1 99.5,1355.1 100.3,1357.1 101.1,1359.1 101.8,1361.1 102.4,1363.1 103,1365.1 103.6,1367.2 104.2,1369.2 104.8,1371.2 105.3,1373.2 105.8,1375.2 106.2,1377.2 106.6,1379.2 107,1381.2 107.3,1383.2 107.5,1385.2 107.8,1387.2 108,1389.2 108.1,1391.2 108,1393.3 107.9,1395.3 107.6,1397.3 107.2,1399.3 106.7,1401.3 106.3,1403.3 105.9,1405.3 105.5,1407.3 105.2,1409.3 105.1,1411.3 105.1,1413.3 105.1,1415.3 105.2,1417.3 105.3,1419.4 105.4,1421.4 105.4,1423.4 105.5,1425.4 105.6,1427.4 105.7,1429.4 105.7,1431.4 105.7,1433.4 105.6,1435.4 105.5,1437.4 105.3,1439.4 105.1,1441.4 105,1443.4 104.8,1445.5 104.6,1447.5 104.5,1449.5 104.5,1451.5 104.5,1453.5 104.5,1455.5 104.5,1457.5 104.5,1459.5 104.5,1461.5 104.5,1463.5 104.5,1465.5 104.5,1467.5 104.5,1469.5 104.5,1471.5 104.5,1473.6 104.4,1475.6 104.2,1477.6 103.9,1479.6 103.7,1481.6 103.4,1483.6 103.1,1485.6 102.7,1487.6 102.4,1489.6 102.1,1491.6 101.9,1493.6 101.5,1495.6 101.2,1497.6 100.8,1499.7 100.5,1501.7 100.2,1503.7 99.8,1505.7 99.5,1507.7 99.3,1509.7 99.1,1511.7 99,1513.7 98.8,1515.7 98.7,1517.7 98.5,1519.7 98.4,1521.7 98.3,1523.7 98.2,1525.8 98.1,1527.8 98.1,1529.8 98.1,1531.8 98.1,1533.8 98.1,1535.8 98.1,1537.8 98.1,1539.8 98.1,1541.8 98.1,1543.8 98.1,1545.8 98.1,1547.8 98.1,1549.8 98.1,1551.9 98,1553.9 97.7,1555.9 97.3,1557.9 96.7,1559.9 96.2,1561.9 95.6,1563.9 95.1,1565.9 94.6,1567.9 94.1,1569.9 93.6,1571.9 93,1573.9 92.5,1575.9 92.1,1578 91.7,1580 91.3,1582 91,1584 90.6,1586 90.4,1588 90.1,1590L90.1,1590Z" fill="#d98b5f"/>
<line x1="90.1" y1="1327" x2="90.1" y2="1590" stroke="#4a4a4a" stroke-width="1.6"/>
<line x1="90.1" y1="1416" x2="90.1" y2="1559" stroke="#4a4a4a" stroke-width="4.2"/>
<circle cx="90.1" cy="1482" r="1.5" fill="#8a8a8a"/>
<path d="M135.2,1592L135.2,1592 133.2,1594 131.2,1596 128.8,1598 129,1600 132.2,1602 134.2,1604L135.2,1604Z" fill="#597dbf"/>
<path d="M135.2,1472L135.2,1472 136.2,1474 137.2,1476 138.2,1478 139.3,1480 140.4,1482 141.6,1484 142.7,1486 143.9,1488 145.1,1490 146.2,1492 147.6,1494 149.2,1496 150.7,1498 151.8,1500 152.2,1502 152,1504 151.4,1506 150.7,1508 149.9,1510 149.2,1512 148.7,1514 148.2,1516 147.7,1518 147.4,1520 147.2,1522 147.5,1524 148,1526 148.8,1528 149.6,1530 150.2,1532 150.9,1534 151.6,1536 152.2,1538 152.7,1540 152.8,1542 152.7,1544 152.2,1546 151.6,1548 150.8,1550 150,1552 149.2,1554 148.4,1556 147.3,1558 146.1,1560 144.9,1562 143.8,1564 142.9,1566 142.2,1568 141.9,1570 141.5,1572 141.3,1574 141,1576 140.8,1578 140.6,1580 140.2,1582 139.9,1584 139.4,1586 139,1588 138.6,1590 138.2,1592 138,1594 137.9,1596 137.7,1598 137.5,1600 137.2,1602 136.8,1604 136.1,1606 135.2,1608L135.2,1608Z" fill="#d98b5f"/>
<line x1="135.2" y1="1472" x2="135.2" y2="1608" stroke="#4a4a4a" stroke-width="1.6"/>
<line x1="135.2" y1="1512" x2="135.2" y2="1596" stroke="#4a4a4a" stroke-width="4.2"/>
<circle cx="135.2" cy="1547" r="1.5" fill="#8a8a8a"/>
<path d="M180.4,1606L180.4,1606 175.4,1608 169.4,1610 174.4,1612 178.4,1614L180.4,1614Z" fill="#597dbf"/>
<path d="M180.4,1535L180.4,1535 181.6,1537 183.7,1539.1 187.7,1541.1 192.1,1543.1 195.1,1545.1 195.2,1547.2 194.3,1549.2 192.9,1551.2 191.7,1553.2 191,1555.3 190.5,1557.3 190.8,1559.3 192.3,1561.3 194.3,1563.4 196.1,1565.4 197.1,1567.4 198.2,1569.4 199,1571.5 199.4,1573.5 199.1,1575.5 198,1577.6 196.4,1579.6 194.7,1581.6 192.8,1583.6 190.5,1585.7 188.6,1587.7 187.5,1589.7 186.5,1591.7 185.7,1593.8 185.4,1595.8 185.4,1597.8 185.4,1599.8 185.4,1601.9 185.1,1603.9 184.3,1605.9 183.4,1607.9 182.5,1610 181.4,1612L180.4,1612Z" fill="#d98b5f"/>
<line x1="180.4" y1="1535" x2="180.4" y2="1614" stroke="#4a4a4a" stroke-width="1.6"/>
<line x1="180.4" y1="1561" x2="180.4" y2="1606" stroke="#4a4a4a" stroke-width="4.2"/>
<circle cx="180.4" cy="1579" r="1.5" fill="#8a8a8a"/>
<path d="M225.6,1613L225.6,1613 214.7,1615.2 216.8,1617.4 224.6,1619.6L225.6,1619.6Z" fill="#597dbf"/>
<path d="M225.6,1571L225.6,1571 230.7,1573 234.1,1575.1 236.7,1577.1 238.8,1579.2 240.9,1581.2 242.6,1583.3 243.5,1585.3 242.6,1587.3 239.4,1589.4 236.7,1591.4 233.9,1593.5 231.9,1595.5 230.8,1597.6 230,1599.6 229.6,1601.7 230.4,1603.7 231.6,1605.7 230.5,1607.8 228.7,1609.8 227.9,1611.9 227.2,1613.9 226.8,1616 226.6,1618L225.6,1618Z" fill="#d98b5f"/>
<line x1="225.6" y1="1571" x2="225.6" y2="1619.6" stroke="#4a4a4a" stroke-width="1.6"/>
<line x1="225.6" y1="1583" x2="225.6" y2="1616" stroke="#4a4a4a" stroke-width="4.2"/>
<circle cx="225.6" cy="1606" r="1.5" fill="#8a8a8a"/>
<path d="M270.8,1617L270.8,1617 254.5,1619.3 269.8,1621.6L270.8,1621.6Z" fill="#597dbf"/>
<path d="M270.8,1584L270.8,1584 273.1,1586 274.7,1588 276,1590 277.8,1592 282.3,1594 285.8,1596 282.4,1598 277.8,1600 275.2,1602 273.8,1604 273.2,1606 272.9,1608 272.8,1610 273.8,1612 274.8,1614 274,1616 272.8,1618 272,1620 271.4,1622L270.8,1622Z" fill="#d98b5f"/>
<line x1="270.8" y1="1584" x2="270.8" y2="1622" stroke="#4a4a4a" stroke-width="1.6"/>
<line x1="270.8" y1="1594" x2="270.8" y2="1620" stroke="#4a4a4a" stroke-width="4.2"/>
<circle cx="270.8" cy="1614" r="1.5" fill="#8a8a8a"/>
<path d="M315.9,1619L315.9,1619 313.9,1622.8L315.9,1622.8Z" fill="#597dbf"/>
<path d="M315.9,1560L315.9,1560 317.7,1562 318.9,1564 319.7,1566 320.3,1568 320.8,1570 320.9,1572 320.7,1574 320.2,1576 319.9,1578 321,1580 323.4,1582 325.8,1584 326.9,1586 326.1,1588 324.7,1590 323.9,1592 326.2,1594 330.6,1596 332.9,1598 331.8,1600 329.2,1602 326.3,1604 323.9,1606 322.1,1608 320.6,1610 319.9,1612 319.9,1614 319.9,1616 319.9,1618 318.9,1620 316.9,1622L315.9,1622Z" fill="#d98b5f"/>
<line x1="315.9" y1="1560" x2="315.9" y2="1622.8" stroke="#4a4a4a" stroke-width="1.6"/>
<line x1="315.9" y1="1586" x2="315.9" y2="1621" stroke="#4a4a4a" stroke-width="4.2"/>
<circle cx="315.9" cy="1600" r="1.5" fill="#8a8a8a"/>
<rect x="67.5" y="1310.6" width="271" height="326.5" fill="none" stroke="#111" stroke-width="2.9"/>
<text x="90.1" y="1680.7" font-size="32.4" text-anchor="middle" textLength="37.5" lengthAdjust="spacingAndGlyphs" fill="#111">10</text>
<text x="135.2" y="1680.7" font-size="32.4" text-anchor="middle" textLength="37.5" lengthAdjust="spacingAndGlyphs" fill="#111">20</text>
<text x="180.4" y="1680.7" font-size="32.4" text-anchor="middle" textLength="37.5" lengthAdjust="spacingAndGlyphs" fill="#111">30</text>
<text x="225.6" y="1680.7" font-size="32.4" text-anchor="middle" textLength="37.5" lengthAdjust="spacingAndGlyphs" fill="#111">40</text>
<text x="270.8" y="1680.7" font-size="32.4" text-anchor="middle" textLength="37.5" lengthAdjust="spacingAndGlyphs" fill="#111">50</text>
<text x="315.9" y="1680.7" font-size="32.4" text-anchor="middle" textLength="37.5" lengthAdjust="spacingAndGlyphs" fill="#111">60</text>
<text x="203" y="1720" font-size="36.2" text-anchor="middle" textLength="134.2" lengthAdjust="spacingAndGlyphs" fill="#111">Time (s)</text>
<text x="492.2" y="1300.1" font-size="44.3" font-weight="bold" text-anchor="middle" textLength="89.6" lengthAdjust="spacingAndGlyphs" fill="#8172b3">aDC</text>
<path d="M379.3,1554L379.3,1554 377.7,1556 376.3,1558 374.7,1560 373.1,1562 371.8,1564 371.3,1566 371.6,1568 372.4,1570 373.3,1572 374.5,1574 376,1576 377.3,1578 378.1,1580 378.7,1582L379.3,1582Z" fill="#597dbf"/>
<path d="M379.3,1327L379.3,1327 379.7,1329 380.2,1331 380.7,1333 381.2,1335 381.8,1337 382.4,1339 383,1341.1 383.6,1343.1 384.4,1345.1 385.2,1347.1 386,1349.1 386.9,1351.1 387.8,1353.1 388.7,1355.1 389.5,1357.1 390.3,1359.1 391,1361.1 391.6,1363.1 392.2,1365.1 392.8,1367.2 393.4,1369.2 394,1371.2 394.5,1373.2 395,1375.2 395.4,1377.2 395.8,1379.2 396.2,1381.2 396.5,1383.2 396.7,1385.2 397,1387.2 397.2,1389.2 397.3,1391.2 397.2,1393.3 397.1,1395.3 396.8,1397.3 396.4,1399.3 395.9,1401.3 395.5,1403.3 395.1,1405.3 394.7,1407.3 394.4,1409.3 394.3,1411.3 394.3,1413.3 394.3,1415.3 394.4,1417.3 394.5,1419.4 394.6,1421.4 394.6,1423.4 394.7,1425.4 394.8,1427.4 394.9,1429.4 394.9,1431.4 394.9,1433.4 394.8,1435.4 394.7,1437.4 394.5,1439.4 394.3,1441.4 394.2,1443.4 394,1445.5 393.8,1447.5 393.7,1449.5 393.7,1451.5 393.7,1453.5 393.7,1455.5 393.7,1457.5 393.7,1459.5 393.7,1461.5 393.7,1463.5 393.7,1465.5 393.7,1467.5 393.7,1469.5 393.7,1471.5 393.7,1473.6 393.6,1475.6 393.4,1477.6 393.1,1479.6 392.9,1481.6 392.6,1483.6 392.3,1485.6 391.9,1487.6 391.6,1489.6 391.3,1491.6 391.1,1493.6 390.7,1495.6 390.4,1497.6 390,1499.7 389.7,1501.7 389.4,1503.7 389,1505.7 388.7,1507.7 388.5,1509.7 388.3,1511.7 388.2,1513.7 388,1515.7 387.9,1517.7 387.7,1519.7 387.6,1521.7 387.5,1523.7 387.4,1525.8 387.3,1527.8 387.3,1529.8 387.3,1531.8 387.3,1533.8 387.3,1535.8 387.3,1537.8 387.3,1539.8 387.3,1541.8 387.3,1543.8 387.3,1545.8 387.3,1547.8 387.3,1549.8 387.3,1551.9 387.2,1553.9 386.9,1555.9 386.5,1557.9 385.9,1559.9 385.4,1561.9 384.8,1563.9 384.3,1565.9 383.8,1567.9 383.3,1569.9 382.8,1571.9 382.2,1573.9 381.7,1575.9 381.3,1578 380.9,1580 380.5,1582 380.2,1584 379.8,1586 379.6,1588 379.3,1590L379.3,1590Z" fill="#d98b5f"/>
<line x1="379.3" y1="1327" x2="379.3" y2="1590" stroke="#4a4a4a" stroke-width="1.6"/>
<line x1="379.3" y1="1416" x2="379.3" y2="1559" stroke="#4a4a4a" stroke-width="4.2"/>
<circle cx="379.3" cy="1482" r="1.5" fill="#8a8a8a"/>
<path d="M424.4,1592L424.4,1592 422.4,1594 420.4,1596 418,1598 418.2,1600 421.4,1602 423.4,1604L424.4,1604Z" fill="#597dbf"/>
<path d="M424.4,1472L424.4,1472 425.4,1474 426.4,1476 427.4,1478 428.5,1480 429.6,1482 430.8,1484 431.9,1486 433.1,1488 434.3,1490 435.4,1492 436.8,1494 438.4,1496 439.9,1498 441,1500 441.4,1502 441.2,1504 440.6,1506 439.9,1508 439.1,1510 438.4,1512 437.9,1514 437.4,1516 436.9,1518 436.6,1520 436.4,1522 436.7,1524 437.2,1526 438,1528 438.8,1530 439.4,1532 440.1,1534 440.8,1536 441.4,1538 441.9,1540 442.1,1542 441.9,1544 441.4,1546 440.8,1548 440,1550 439.2,1552 438.4,1554 437.6,1556 436.5,1558 435.3,1560 434.1,1562 433,1564 432.1,1566 431.4,1568 431.1,1570 430.7,1572 430.5,1574 430.2,1576 430,1578 429.8,1580 429.4,1582 429.1,1584 428.6,1586 428.2,1588 427.8,1590 427.4,1592 427.2,1594 427.1,1596 426.9,1598 426.7,1600 426.4,1602 426,1604 425.3,1606 424.4,1608L424.4,1608Z" fill="#d98b5f"/>
<line x1="424.4" y1="1472" x2="424.4" y2="1608" stroke="#4a4a4a" stroke-width="1.6"/>
<line x1="424.4" y1="1512" x2="424.4" y2="1596" stroke="#4a4a4a" stroke-width="4.2"/>
<circle cx="424.4" cy="1547" r="1.5" fill="#8a8a8a"/>
<path d="M469.6,1606L469.6,1606 464.6,1608 458.6,1610 463.6,1612 467.6,1614L469.6,1614Z" fill="#597dbf"/>
<path d="M469.6,1535L469.6,1535 470.8,1537 472.9,1539.1 476.9,1541.1 481.3,1543.1 484.3,1545.1 484.4,1547.2 483.5,1549.2 482.1,1551.2 480.9,1553.2 480.2,1555.3 479.7,1557.3 480,1559.3 481.5,1561.3 483.5,1563.4 485.3,1565.4 486.3,1567.4 487.4,1569.4 488.2,1571.5 488.6,1573.5 488.3,1575.5 487.2,1577.6 485.6,1579.6 483.9,1581.6 482,1583.6 479.7,1585.7 477.8,1587.7 476.7,1589.7 475.7,1591.7 474.9,1593.8 474.6,1595.8 474.6,1597.8 474.6,1599.8 474.6,1601.9 474.3,1603.9 473.5,1605.9 472.6,1607.9 471.7,1610 470.6,1612L469.6,1612Z" fill="#d98b5f"/>
<line x1="469.6" y1="1535" x2="469.6" y2="1614" stroke="#4a4a4a" stroke-width="1.6"/>
<line x1="469.6" y1="1561" x2="469.6" y2="1606" stroke="#4a4a4a" stroke-width="4.2"/>
<circle cx="469.6" cy="1579" r="1.5" fill="#8a8a8a"/>
<path d="M514.8,1613L514.8,1613 503.9,1615.2 506,1617.4 513.8,1619.6L514.8,1619.6Z" fill="#597dbf"/>
<path d="M514.8,1571L514.8,1571 519.9,1573 523.3,1575.1 525.9,1577.1 528,1579.2 530.1,1581.2 531.8,1583.3 532.7,1585.3 531.8,1587.3 528.6,1589.4 525.9,1591.4 523.1,1593.5 521.1,1595.5 520,1597.6 519.2,1599.6 518.8,1601.7 519.6,1603.7 520.8,1605.7 519.7,1607.8 517.9,1609.8 517.1,1611.9 516.4,1613.9 516,1616 515.8,1618L514.8,1618Z" fill="#d98b5f"/>
<line x1="514.8" y1="1571" x2="514.8" y2="1619.6" stroke="#4a4a4a" stroke-width="1.6"/>
<line x1="514.8" y1="1583" x2="514.8" y2="1616" stroke="#4a4a4a" stroke-width="4.2"/>
<circle cx="514.8" cy="1606" r="1.5" fill="#8a8a8a"/>
<path d="M560,1617L560,1617 543.7,1619.3 559,1621.6L560,1621.6Z" fill="#597dbf"/>
<path d="M560,1584L560,1584 562.4,1586 563.9,1588 565.2,1590 567,1592 571.5,1594 575,1596 571.6,1598 567,1600 564.4,1602 563,1604 562.4,1606 562.1,1608 562,1610 563,1612 564,1614 563.2,1616 562,1618 561.2,1620 560.6,1622L560,1622Z" fill="#d98b5f"/>
<line x1="560" y1="1584" x2="560" y2="1622" stroke="#4a4a4a" stroke-width="1.6"/>
<line x1="560" y1="1594" x2="560" y2="1620" stroke="#4a4a4a" stroke-width="4.2"/>
<circle cx="560" cy="1614" r="1.5" fill="#8a8a8a"/>
<path d="M605.1,1619L605.1,1619 603.1,1622.8L605.1,1622.8Z" fill="#597dbf"/>
<path d="M605.1,1560L605.1,1560 606.9,1562 608.1,1564 608.9,1566 609.5,1568 610,1570 610.1,1572 609.9,1574 609.4,1576 609.1,1578 610.2,1580 612.6,1582 615,1584 616.1,1586 615.3,1588 613.9,1590 613.1,1592 615.5,1594 619.8,1596 622.1,1598 621,1600 618.4,1602 615.5,1604 613.1,1606 611.3,1608 609.8,1610 609.1,1612 609.1,1614 609.1,1616 609.1,1618 608.1,1620 606.1,1622L605.1,1622Z" fill="#d98b5f"/>
<line x1="605.1" y1="1560" x2="605.1" y2="1622.8" stroke="#4a4a4a" stroke-width="1.6"/>
<line x1="605.1" y1="1586" x2="605.1" y2="1621" stroke="#4a4a4a" stroke-width="4.2"/>
<circle cx="605.1" cy="1600" r="1.5" fill="#8a8a8a"/>
<rect x="356.7" y="1310.6" width="271" height="326.5" fill="none" stroke="#111" stroke-width="2.9"/>
<text x="379.3" y="1680.7" font-size="32.4" text-anchor="middle" textLength="37.5" lengthAdjust="spacingAndGlyphs" fill="#111">10</text>
<text x="424.4" y="1680.7" font-size="32.4" text-anchor="middle" textLength="37.5" lengthAdjust="spacingAndGlyphs" fill="#111">20</text>
<text x="469.6" y="1680.7" font-size="32.4" text-anchor="middle" textLength="37.5" lengthAdjust="spacingAndGlyphs" fill="#111">30</text>
<text x="514.8" y="1680.7" font-size="32.4" text-anchor="middle" textLength="37.5" lengthAdjust="spacingAndGlyphs" fill="#111">40</text>
<text x="560" y="1680.7" font-size="32.4" text-anchor="middle" textLength="37.5" lengthAdjust="spacingAndGlyphs" fill="#111">50</text>
<text x="605.1" y="1680.7" font-size="32.4" text-anchor="middle" textLength="37.5" lengthAdjust="spacingAndGlyphs" fill="#111">60</text>
<text x="492.2" y="1720" font-size="36.2" text-anchor="middle" textLength="134.2" lengthAdjust="spacingAndGlyphs" fill="#111">Time (s)</text>
<text x="781.3" y="1300.1" font-size="44.3" font-weight="bold" text-anchor="middle" textLength="58.7" lengthAdjust="spacingAndGlyphs" fill="#8172b3">LD</text>
<path d="M668.4,1618L668.4,1618 668.4,1620.4L668.4,1620.4Z" fill="#597dbf"/>
<path d="M668.4,1577L668.4,1577 668.7,1579 669.1,1581.1 669.8,1583.1 670.7,1585.2 671.9,1587.2 673.5,1589.3 676.1,1591.3 678.7,1593.4 680.3,1595.4 680.1,1597.5 679.4,1599.5 679.6,1601.5 680.5,1603.6 681.8,1605.6 683.2,1607.7 684.9,1609.7 686.4,1611.8 685.8,1613.8 684.1,1615.9 681.5,1617.9 676.1,1620 668.4,1622L668.4,1622Z" fill="#d98b5f"/>
<line x1="668.4" y1="1577" x2="668.4" y2="1622" stroke="#4a4a4a" stroke-width="1.6"/>
<line x1="668.4" y1="1601" x2="668.4" y2="1620" stroke="#4a4a4a" stroke-width="4.2"/>
<circle cx="668.4" cy="1613" r="1.5" fill="#8a8a8a"/>
<path d="M713.5,1617.6L713.5,1617.6 713.5,1620L713.5,1620Z" fill="#597dbf"/>
<path d="M713.5,1538L713.5,1538 714.6,1540 715.6,1542 716.4,1544.1 717.2,1546.1 718,1548.1 718.8,1550.1 719.6,1552.2 720.6,1554.2 721.6,1556.2 722.6,1558.2 723.7,1560.3 724.7,1562.3 726,1564.3 727.2,1566.3 727.5,1568.4 727.2,1570.4 726.6,1572.4 725.8,1574.4 725,1576.5 724.4,1578.5 723.8,1580.5 723.1,1582.5 722.7,1584.5 722.6,1586.6 723.6,1588.6 725.5,1590.6 727.8,1592.6 729.9,1594.7 731.3,1596.7 731.5,1598.7 730.8,1600.7 729.7,1602.8 728.3,1604.8 727,1606.8 725.6,1608.8 724,1610.9 722.4,1612.9 721,1614.9 719.8,1616.9 718.4,1619 716.5,1621 713.5,1623L713.5,1623Z" fill="#d98b5f"/>
<line x1="713.5" y1="1538" x2="713.5" y2="1623" stroke="#4a4a4a" stroke-width="1.6"/>
<line x1="713.5" y1="1570" x2="713.5" y2="1619" stroke="#4a4a4a" stroke-width="4.2"/>
<circle cx="713.5" cy="1600" r="1.5" fill="#8a8a8a"/>
<path d="M758.7,1617L758.7,1617 758.7,1619.4L758.7,1619.4Z" fill="#597dbf"/>
<path d="M758.7,1524L758.7,1524 765.8,1526 769.1,1528 771.1,1530.1 771.7,1532.1 771.7,1534.1 771.7,1536.1 771.7,1538.1 771.7,1540.2 771.7,1542.2 771.6,1544.2 771.4,1546.2 771,1548.2 770.7,1550.3 770.3,1552.3 770,1554.3 769.8,1556.3 769.7,1558.4 769.8,1560.4 769.8,1562.4 770,1564.4 770.1,1566.4 770.3,1568.5 770.5,1570.5 770.8,1572.5 771.4,1574.5 772.5,1576.5 773.7,1578.6 774.9,1580.6 775.9,1582.6 776.6,1584.6 776.7,1586.6 776,1588.7 774.8,1590.7 773.3,1592.7 771.7,1594.7 770.1,1596.8 768.1,1598.8 766.3,1600.8 765.5,1602.8 765,1604.8 764.8,1606.9 764.7,1608.9 764.7,1610.9 764.7,1612.9 764.6,1614.9 764,1617 762.7,1619 758.7,1621L758.7,1621Z" fill="#d98b5f"/>
<line x1="758.7" y1="1524" x2="758.7" y2="1621" stroke="#4a4a4a" stroke-width="1.6"/>
<line x1="758.7" y1="1562" x2="758.7" y2="1618" stroke="#4a4a4a" stroke-width="4.2"/>
<circle cx="758.7" cy="1592" r="1.5" fill="#8a8a8a"/>
<path d="M803.9,1615.6L803.9,1615.6 794.8,1617.6 803.9,1619.6L803.9,1619.6Z" fill="#597dbf"/>
<path d="M803.9,1525L803.9,1525 805.8,1527 808.1,1529 811.3,1531 814.5,1533 816.6,1535 816.7,1537 815.3,1539 813.5,1541 812.1,1543 812,1545 812.9,1547 814.5,1549 816.3,1551 818.1,1553 819.8,1555 821.6,1557 821.7,1559 820.7,1561 819.2,1563 817.6,1565 816.2,1567 814.6,1569 813,1571 812,1573 812.1,1575 813.1,1577 814.6,1579 815.7,1581 815.8,1583 815,1585 813.8,1587 812.4,1589 811.3,1591 810.5,1593 809.9,1595 809.3,1597 808.9,1599 809.1,1601 810.5,1603 812.3,1605 813.7,1607 813.7,1609 812.5,1611 810.8,1613 808.9,1615 806.6,1617 803.9,1619L803.9,1619Z" fill="#d98b5f"/>
<line x1="803.9" y1="1525" x2="803.9" y2="1619.6" stroke="#4a4a4a" stroke-width="1.6"/>
<line x1="803.9" y1="1557" x2="803.9" y2="1618" stroke="#4a4a4a" stroke-width="4.2"/>
<circle cx="803.9" cy="1606" r="1.5" fill="#8a8a8a"/>
<path d="M849,1615L849,1615 838.2,1617.3 849,1619.6L849,1619.6Z" fill="#597dbf"/>
<path d="M849,1524L849,1524 852.1,1526 853.3,1528 854.1,1530.1 854.7,1532.1 855.3,1534.1 856.1,1536.1 857.3,1538.1 858.8,1540.2 860.4,1542.2 861.8,1544.2 862.7,1546.2 863,1548.3 862.8,1550.3 862.1,1552.3 861.3,1554.3 860.5,1556.3 860,1558.4 859.4,1560.4 858.9,1562.4 858.4,1564.4 858.1,1566.4 858,1568.5 858,1570.5 858,1572.5 858,1574.5 858,1576.6 858,1578.6 857.1,1580.6 855.6,1582.6 853.9,1584.6 852.5,1586.7 851.9,1588.7 851.5,1590.7 851.3,1592.7 851.1,1594.7 851.2,1596.8 852.2,1598.8 853.8,1600.8 855.4,1602.8 856.4,1604.9 857.3,1606.9 857.9,1608.9 857.9,1610.9 856.4,1612.9 854.2,1615 851.9,1617 849,1619L849,1619Z" fill="#d98b5f"/>
<line x1="849" y1="1524" x2="849" y2="1619.6" stroke="#4a4a4a" stroke-width="1.6"/>
<line x1="849" y1="1568" x2="849" y2="1617" stroke="#4a4a4a" stroke-width="4.2"/>
<circle cx="849" cy="1608" r="1.5" fill="#8a8a8a"/>
<path d="M894.2,1614L894.2,1614 894.2,1617.6L894.2,1617.6Z" fill="#597dbf"/>
<path d="M894.2,1326L894.2,1326 894.4,1328 894.5,1330 894.7,1332 894.8,1334 894.9,1336 895,1338 895.1,1340 895.2,1342.1 895.3,1344.1 895.4,1346.1 895.4,1348.1 895.5,1350.1 895.5,1352.1 895.6,1354.1 895.6,1356.1 895.7,1358.1 895.7,1360.1 895.8,1362.1 895.9,1364.1 896,1366.1 896.1,1368.1 896.2,1370.1 896.3,1372.2 896.5,1374.2 896.6,1376.2 896.8,1378.2 897,1380.2 897.2,1382.2 897.6,1384.2 898.1,1386.2 898.7,1388.2 899.5,1390.2 900.3,1392.2 901.1,1394.2 902,1396.2 902.8,1398.2 903.6,1400.3 904.3,1402.3 905,1404.3 905.7,1406.3 906.4,1408.3 907.1,1410.3 907.8,1412.3 908.4,1414.3 909,1416.3 909.5,1418.3 909.9,1420.3 910.3,1422.3 910.5,1424.3 910.8,1426.3 911,1428.3 911.2,1430.4 911.2,1432.4 911.1,1434.4 910.7,1436.4 910.2,1438.4 909.5,1440.4 908.7,1442.4 908,1444.4 907.2,1446.4 906.4,1448.4 905.7,1450.4 905.1,1452.4 904.5,1454.4 904,1456.4 903.4,1458.4 902.9,1460.5 902.4,1462.5 901.9,1464.5 901.4,1466.5 900.9,1468.5 900.5,1470.5 900.1,1472.5 899.8,1474.5 899.4,1476.5 899.1,1478.5 898.8,1480.5 898.5,1482.5 898.2,1484.5 897.9,1486.5 897.6,1488.6 897.4,1490.6 897.1,1492.6 896.9,1494.6 896.6,1496.6 896.4,1498.6 896.1,1500.6 895.8,1502.6 895.6,1504.6 895.4,1506.6 895.3,1508.6 895.2,1510.6 895.2,1512.6 895.2,1514.6 895.2,1516.6 895.2,1518.7 895.2,1520.7 895.2,1522.7 895.2,1524.7 895.2,1526.7 895.2,1528.7 895.2,1530.7 895.2,1532.7 895.2,1534.7 895.2,1536.7 895.2,1538.7 895.2,1540.7 895.2,1542.7 895.2,1544.7 895.2,1546.7 895.2,1548.8 895.2,1550.8 895.2,1552.8 895.2,1554.8 895.3,1556.8 895.3,1558.8 895.3,1560.8 895.4,1562.8 895.5,1564.8 895.6,1566.8 895.7,1568.8 895.8,1570.8 895.9,1572.8 896.2,1574.8 896.6,1576.9 897.2,1578.9 897.8,1580.9 898.4,1582.9 899,1584.9 899.4,1586.9 899.9,1588.9 900.4,1590.9 900.9,1592.9 901.3,1594.9 901.7,1596.9 902,1598.9 902.2,1600.9 902.2,1602.9 902,1604.9 901.6,1607 901,1609 900.5,1611 900,1613 899.6,1615 899,1617 898,1619 894.2,1621L894.2,1621Z" fill="#d98b5f"/>
<line x1="894.2" y1="1326" x2="894.2" y2="1621" stroke="#4a4a4a" stroke-width="1.6"/>
<line x1="894.2" y1="1440" x2="894.2" y2="1614" stroke="#4a4a4a" stroke-width="4.2"/>
<circle cx="894.2" cy="1604" r="1.5" fill="#8a8a8a"/>
<rect x="645.8" y="1310.6" width="271" height="326.5" fill="none" stroke="#111" stroke-width="2.9"/>
<text x="668.4" y="1680.7" font-size="32.4" text-anchor="middle" textLength="37.5" lengthAdjust="spacingAndGlyphs" fill="#111">10</text>
<text x="713.5" y="1680.7" font-size="32.4" text-anchor="middle" textLength="37.5" lengthAdjust="spacingAndGlyphs" fill="#111">20</text>
<text x="758.7" y="1680.7" font-size="32.4" text-anchor="middle" textLength="37.5" lengthAdjust="spacingAndGlyphs" fill="#111">30</text>
<text x="803.9" y="1680.7" font-size="32.4" text-anchor="middle" textLength="37.5" lengthAdjust="spacingAndGlyphs" fill="#111">40</text>
<text x="849" y="1680.7" font-size="32.4" text-anchor="middle" textLength="37.5" lengthAdjust="spacingAndGlyphs" fill="#111">50</text>
<text x="894.2" y="1680.7" font-size="32.4" text-anchor="middle" textLength="37.5" lengthAdjust="spacingAndGlyphs" fill="#111">60</text>
<text x="781.3" y="1720" font-size="36.2" text-anchor="middle" textLength="134.2" lengthAdjust="spacingAndGlyphs" fill="#111">Time (s)</text>
<text x="1070.4" y="1300.1" font-size="44.3" font-weight="bold" text-anchor="middle" textLength="63.6" lengthAdjust="spacingAndGlyphs" fill="#8172b3">sM</text>
<path d="M957.5,1616L957.5,1616 951.4,1618 953,1620 957.5,1622L957.5,1622Z" fill="#597dbf"/>
<path d="M957.5,1602L957.5,1602 963.6,1604.1 973.5,1606.2 972.6,1608.3 966.9,1610.4 964.7,1612.6 962.9,1614.7 961.4,1616.8 959.7,1618.9 957.5,1621L957.5,1621Z" fill="#d98b5f"/>
<line x1="957.5" y1="1602" x2="957.5" y2="1623" stroke="#4a4a4a" stroke-width="1.6"/>
<line x1="957.5" y1="1606" x2="957.5" y2="1620" stroke="#4a4a4a" stroke-width="4.2"/>
<circle cx="957.5" cy="1612" r="1.5" fill="#8a8a8a"/>
<path d="M1002.6,1579L1002.6,1579 998.6,1581 994.6,1583 999.6,1585 1002.6,1587L1002.6,1587Z" fill="#597dbf"/>
<path d="M1002.6,1551L1002.6,1551 1006.8,1553.1 1014.9,1555.1 1019.6,1557.2 1014.6,1559.2 1015.2,1561.3 1017.6,1563.4 1015,1565.4 1012.2,1567.5 1010.4,1569.5 1008.9,1571.6 1007.7,1573.6 1006.6,1575.7 1005.7,1577.8 1005.2,1579.8 1004.7,1581.9 1003.8,1583.9 1002.6,1586L1002.6,1586Z" fill="#d98b5f"/>
<line x1="1002.6" y1="1551" x2="1002.6" y2="1587" stroke="#4a4a4a" stroke-width="1.6"/>
<line x1="1002.6" y1="1559" x2="1002.6" y2="1582" stroke="#4a4a4a" stroke-width="4.2"/>
<circle cx="1002.6" cy="1568" r="1.5" fill="#8a8a8a"/>
<path d="M1047.8,1539L1047.8,1539 1041.8,1541 1038.4,1543 1038.5,1545 1041.8,1547 1045.6,1549 1047.3,1551 1047.8,1553L1047.8,1553Z" fill="#597dbf"/>
<path d="M1047.8,1499L1047.8,1499 1049.4,1501 1054.2,1503.1 1063.4,1505.1 1064.2,1507.2 1061.5,1509.2 1059.1,1511.3 1059.3,1513.3 1061.2,1515.4 1062.7,1517.4 1062,1519.5 1059.2,1521.5 1056.3,1523.5 1054.4,1525.6 1052.7,1527.6 1051.8,1529.7 1052,1531.7 1052.5,1533.8 1052.8,1535.8 1051.7,1537.9 1049.9,1539.9 1048.7,1542 1047.8,1544L1047.8,1544Z" fill="#d98b5f"/>
<line x1="1047.8" y1="1499" x2="1047.8" y2="1553" stroke="#4a4a4a" stroke-width="1.6"/>
<line x1="1047.8" y1="1510" x2="1047.8" y2="1544" stroke="#4a4a4a" stroke-width="4.2"/>
<circle cx="1047.8" cy="1522" r="1.5" fill="#8a8a8a"/>
<path d="M1093,1506L1093,1506 1085,1508 1079,1510 1084,1512 1088.9,1514 1092,1516L1093,1516Z" fill="#597dbf"/>
<path d="M1093,1461L1093,1461 1099.7,1463 1104.1,1465.1 1107.2,1467.1 1108.9,1469.2 1110.2,1471.2 1110.9,1473.3 1110.7,1475.3 1109.4,1477.4 1107.6,1479.4 1105.5,1481.5 1103.3,1483.5 1100.4,1485.5 1098.2,1487.6 1097.2,1489.6 1096.4,1491.7 1096,1493.7 1096.8,1495.8 1098.6,1497.8 1098.5,1499.9 1096.1,1501.9 1094.4,1504 1093,1506L1093,1506Z" fill="#d98b5f"/>
<line x1="1093" y1="1461" x2="1093" y2="1516" stroke="#4a4a4a" stroke-width="1.6"/>
<line x1="1093" y1="1472" x2="1093" y2="1508" stroke="#4a4a4a" stroke-width="4.2"/>
<circle cx="1093" cy="1495.6" r="1.5" fill="#8a8a8a"/>
<path d="M1138.2,1456L1138.2,1456 1135.2,1458 1134.2,1460 1133.6,1462 1133.2,1464 1132.8,1466 1132.2,1468 1131.2,1470 1125.3,1472 1120.2,1474 1125.8,1476 1131.4,1478 1135.2,1480 1138.2,1482L1138.2,1482Z" fill="#597dbf"/>
<path d="M1138.2,1412L1138.2,1412 1141.2,1414 1143,1416 1144.5,1418 1146.2,1420 1148.5,1422 1151.1,1424 1152.9,1426 1152.9,1428 1151.3,1430 1149.1,1432 1147.2,1434 1145.7,1436 1144.2,1438 1143,1440 1142.2,1442 1141.5,1444 1141,1446 1140.6,1448 1140.3,1450 1140.2,1452 1140.9,1454 1142.4,1456 1143.2,1458 1142.8,1460 1142.2,1462 1141.1,1464 1139.8,1466 1139.2,1468 1139,1470 1138.9,1472 1138.8,1474 1138.8,1476 1138.8,1478 1138.8,1480L1138.2,1480Z" fill="#d98b5f"/>
<line x1="1138.2" y1="1412" x2="1138.2" y2="1482" stroke="#4a4a4a" stroke-width="1.6"/>
<line x1="1138.2" y1="1431" x2="1138.2" y2="1478" stroke="#4a4a4a" stroke-width="4.2"/>
<circle cx="1138.2" cy="1460" r="1.5" fill="#8a8a8a"/>
<path d="M1183.3,1430L1183.3,1430 1181.9,1432.1 1180.1,1434.2 1177.1,1436.3 1175.8,1438.4 1177.8,1440.6 1179.9,1442.7 1181.6,1444.8 1182.7,1446.9 1183.3,1449L1183.3,1449Z" fill="#597dbf"/>
<path d="M1183.3,1326L1183.3,1326 1185.2,1328 1186.3,1330 1186.6,1332 1186.8,1334 1186.9,1336 1187,1338 1187.1,1340 1187.3,1342 1187.8,1344 1188.7,1346 1189.9,1348 1191.1,1350 1192.3,1352 1193.8,1354 1195.6,1356 1197.4,1358 1198.8,1360 1199.3,1362 1198.5,1364 1196.8,1366 1195.1,1368 1194.3,1370 1194.5,1372 1194.9,1374 1195.6,1376 1196.3,1378 1198,1380 1200.2,1382 1201.3,1384 1200.4,1386 1198.1,1388 1195.4,1390 1193.3,1392 1191.8,1394 1190.4,1396 1189.1,1398 1188,1400 1187.3,1402 1186.8,1404 1186.3,1406 1185.9,1408 1185.6,1410 1185.4,1412 1185.3,1414 1185.3,1416 1185.3,1418 1185.3,1420 1185.3,1422 1185.2,1424 1184.9,1426 1184.4,1428 1183.9,1430L1183.3,1430Z" fill="#d98b5f"/>
<line x1="1183.3" y1="1326" x2="1183.3" y2="1449" stroke="#4a4a4a" stroke-width="1.6"/>
<line x1="1183.3" y1="1363" x2="1183.3" y2="1425" stroke="#4a4a4a" stroke-width="4.2"/>
<circle cx="1183.3" cy="1385" r="1.5" fill="#8a8a8a"/>
<rect x="934.9" y="1310.6" width="271" height="326.5" fill="none" stroke="#111" stroke-width="2.9"/>
<text x="957.5" y="1680.7" font-size="32.4" text-anchor="middle" textLength="37.5" lengthAdjust="spacingAndGlyphs" fill="#111">10</text>
<text x="1002.6" y="1680.7" font-size="32.4" text-anchor="middle" textLength="37.5" lengthAdjust="spacingAndGlyphs" fill="#111">20</text>
<text x="1047.8" y="1680.7" font-size="32.4" text-anchor="middle" textLength="37.5" lengthAdjust="spacingAndGlyphs" fill="#111">30</text>
<text x="1093" y="1680.7" font-size="32.4" text-anchor="middle" textLength="37.5" lengthAdjust="spacingAndGlyphs" fill="#111">40</text>
<text x="1138.2" y="1680.7" font-size="32.4" text-anchor="middle" textLength="37.5" lengthAdjust="spacingAndGlyphs" fill="#111">50</text>
<text x="1183.3" y="1680.7" font-size="32.4" text-anchor="middle" textLength="37.5" lengthAdjust="spacingAndGlyphs" fill="#111">60</text>
<text x="1070.4" y="1720" font-size="36.2" text-anchor="middle" textLength="134.2" lengthAdjust="spacingAndGlyphs" fill="#111">Time (s)</text>
<text x="1359.5" y="1300.1" font-size="44.3" font-weight="bold" text-anchor="middle" textLength="60.2" lengthAdjust="spacingAndGlyphs" fill="#8172b3">GE</text>
<path d="M1246.6,1594L1246.6,1594 1245.1,1596 1243.6,1598 1241.6,1600 1239.5,1602 1238.6,1604 1239.3,1606 1240.9,1608 1242.6,1610 1244.3,1612 1245.6,1614 1246.1,1616 1246.5,1618 1246.6,1620L1246.6,1620Z" fill="#597dbf"/>
<path d="M1246.6,1423L1246.6,1423 1247,1425 1247.5,1427 1248.1,1429 1248.7,1431 1249.3,1433 1250.1,1435 1250.9,1437 1251.8,1439 1252.7,1441 1253.6,1443 1254.6,1445 1255.5,1447 1256.4,1449 1257.2,1451 1258,1453 1258.8,1455 1259.7,1457 1260.5,1459 1261.4,1461 1262.2,1463 1262.9,1465 1263.5,1467 1263.9,1469 1264.2,1471 1264.2,1473 1264,1475 1263.8,1477 1263.5,1479 1263.1,1481 1262.7,1483 1262.3,1485 1262,1487 1261.7,1489 1261.6,1491 1261.6,1493 1261.7,1495 1261.8,1497 1262,1499 1262.2,1501 1262.4,1503 1262.6,1505 1262.8,1507 1262.9,1509 1263,1511 1263,1513 1262.9,1515 1262.7,1517 1262.5,1519 1262.3,1521 1262,1523 1261.7,1525 1261.3,1527 1261,1529 1260.7,1531 1260.4,1533 1260.2,1535 1259.9,1537 1259.6,1539 1259.3,1541 1259,1543 1258.7,1545 1258.4,1547 1258.1,1549 1257.8,1551 1257.4,1553 1257,1555 1256.6,1557 1256.1,1559 1255.6,1561 1255.1,1563 1254.7,1565 1254.3,1567 1253.9,1569 1253.7,1571 1253.5,1573 1253.4,1575 1253.3,1577 1253.2,1579 1253.1,1581 1253.1,1583 1253,1585 1252.9,1587 1252.8,1589 1252.7,1591 1252.5,1593 1252.2,1595 1251.8,1597 1251.3,1599 1250.8,1601 1250.3,1603 1249.8,1605 1249.3,1607 1248.8,1609 1248.3,1611 1247.8,1613 1247.4,1615 1247.1,1617 1246.8,1619 1246.6,1621L1246.6,1621Z" fill="#d98b5f"/>
<line x1="1246.6" y1="1423" x2="1246.6" y2="1621" stroke="#4a4a4a" stroke-width="1.6"/>
<line x1="1246.6" y1="1491" x2="1246.6" y2="1597" stroke="#4a4a4a" stroke-width="4.2"/>
<circle cx="1246.6" cy="1541" r="1.5" fill="#8a8a8a"/>
<path d="M1291.8,1594L1291.8,1594 1289.8,1596 1287.8,1598 1285.2,1600 1283.8,1602 1284.5,1604 1286.2,1606 1287.8,1608 1288.9,1610 1290.1,1612 1291.2,1614L1291.8,1614Z" fill="#597dbf"/>
<path d="M1291.8,1412L1291.8,1412 1292.3,1414 1292.8,1416 1293.4,1418 1294.1,1420 1294.8,1422 1295.5,1424 1296.3,1426 1297.2,1428 1298.2,1430 1299.1,1432 1300.1,1434 1301.1,1436 1302,1438 1302.9,1440 1303.8,1442 1304.6,1444 1305.5,1446 1306.5,1448 1307.4,1450 1308.1,1452 1308.6,1454 1308.8,1456 1308.5,1458 1308,1460 1307.2,1462 1306.2,1464 1305.3,1466 1304.5,1468 1304,1470 1303.8,1472 1303.8,1474 1303.8,1476 1303.8,1478 1303.8,1480 1303.8,1482 1303.8,1484 1303.8,1486 1303.8,1488 1303.9,1490 1304.4,1492 1305.1,1494 1305.9,1496 1306.7,1498 1307.3,1500 1307.8,1502 1308,1504 1308.3,1506 1308.6,1508 1308.8,1510 1309.1,1512 1309.2,1514 1309.3,1516 1309.3,1518 1309.2,1520 1308.7,1522 1308,1524 1307.2,1526 1306.4,1528 1305.5,1530 1304.8,1532 1304.1,1534 1303.4,1536 1302.6,1538 1301.9,1540 1301.2,1542 1300.5,1544 1299.8,1546 1299.1,1548 1298.4,1550 1297.8,1552 1297,1554 1296.2,1556 1295.5,1558 1295,1560 1294.8,1562 1294.8,1564 1294.9,1566 1295,1568 1295.1,1570 1295.2,1572 1295.4,1574 1295.5,1576 1295.6,1578 1295.7,1580 1295.8,1582 1295.7,1584 1295.5,1586 1295.3,1588 1295,1590 1294.8,1592 1294.5,1594 1294.3,1596 1294,1598 1293.8,1600 1293.5,1602 1293.3,1604 1293,1606 1292.8,1608 1292.5,1610 1292.2,1612 1292,1614 1291.8,1616L1291.8,1616Z" fill="#d98b5f"/>
<line x1="1291.8" y1="1412" x2="1291.8" y2="1616" stroke="#4a4a4a" stroke-width="1.6"/>
<line x1="1291.8" y1="1473" x2="1291.8" y2="1592" stroke="#4a4a4a" stroke-width="4.2"/>
<circle cx="1291.8" cy="1524" r="1.5" fill="#8a8a8a"/>
<path d="M1336.9,1594L1336.9,1594 1333.9,1596 1330.9,1598 1327.3,1600 1327,1602 1330,1604 1332.9,1606 1334.6,1608 1335.9,1610L1336.9,1610Z" fill="#597dbf"/>
<path d="M1336.9,1431L1336.9,1431 1337.6,1433 1338.4,1435 1339.4,1437 1340.6,1439 1342.4,1441.1 1344.6,1443.1 1347,1445.1 1349.1,1447.1 1350.8,1449.1 1351.8,1451.1 1351.8,1453.1 1351,1455.1 1349.8,1457.1 1348.7,1459.2 1348,1461.2 1347.9,1463.2 1347.9,1465.2 1347.9,1467.2 1347.9,1469.2 1347.9,1471.2 1347.9,1473.2 1347.9,1475.2 1347.9,1477.3 1347.9,1479.3 1347.9,1481.3 1348,1483.3 1348.1,1485.3 1348.4,1487.3 1348.9,1489.3 1349.3,1491.3 1349.9,1493.3 1350.4,1495.4 1350.9,1497.4 1351.4,1499.4 1351.8,1501.4 1352.2,1503.4 1352.5,1505.4 1352.9,1507.4 1353.3,1509.4 1353.6,1511.4 1353.8,1513.5 1353.9,1515.5 1353.8,1517.5 1353.5,1519.5 1353,1521.5 1352.3,1523.5 1351.5,1525.5 1350.6,1527.5 1349.8,1529.6 1349.1,1531.6 1348.4,1533.6 1347.7,1535.6 1346.9,1537.6 1346.1,1539.6 1345.4,1541.6 1344.6,1543.6 1343.9,1545.6 1343.2,1547.7 1342.6,1549.7 1342,1551.7 1341.5,1553.7 1340.9,1555.7 1340.4,1557.7 1340.1,1559.7 1339.9,1561.7 1340.1,1563.7 1340.6,1565.8 1341.1,1567.8 1341.7,1569.8 1341.9,1571.8 1341.9,1573.8 1341.7,1575.8 1341.5,1577.8 1341.2,1579.8 1340.9,1581.8 1340.6,1583.9 1340.2,1585.9 1339.7,1587.9 1339.3,1589.9 1338.9,1591.9 1338.7,1593.9 1338.5,1595.9 1338.3,1597.9 1338.1,1599.9 1337.9,1602 1337.7,1604 1337.5,1606 1337.2,1608 1336.9,1610L1336.9,1610Z" fill="#d98b5f"/>
<line x1="1336.9" y1="1431" x2="1336.9" y2="1610" stroke="#4a4a4a" stroke-width="1.6"/>
<line x1="1336.9" y1="1491" x2="1336.9" y2="1596" stroke="#4a4a4a" stroke-width="4.2"/>
<circle cx="1336.9" cy="1530" r="1.5" fill="#8a8a8a"/>
<path d="M1382.1,1594L1382.1,1594 1378.8,1596 1375.1,1598 1369.8,1600 1370.1,1602 1376.1,1604 1379.2,1606 1381.1,1608L1382.1,1608Z" fill="#597dbf"/>
<path d="M1382.1,1468L1382.1,1468 1385.1,1470 1387,1472 1388.6,1474 1389.9,1476 1391.1,1478 1392.2,1480 1393.3,1482 1394.3,1484 1395.2,1486 1396,1488 1396.7,1490 1397.1,1492 1397.4,1494 1397.6,1496 1397.7,1498 1397.9,1500 1398.1,1502 1398.4,1504 1398.7,1506 1399.1,1508 1399.4,1510 1399.6,1512 1399.7,1514 1399.2,1516 1398,1518 1396.5,1520 1395.1,1522 1393.8,1524 1392.5,1526 1391.1,1528 1389.9,1530 1388.8,1532 1388.1,1534 1387.6,1536 1387.1,1538 1386.6,1540 1386.2,1542 1385.8,1544 1385.5,1546 1385.3,1548 1385.1,1550 1385.1,1552 1385.1,1554 1385.3,1556 1385.6,1558 1385.8,1560 1386.1,1562 1386.4,1564 1386.8,1566 1387.2,1568 1387.6,1570 1387.7,1572 1387.6,1574 1387.3,1576 1386.9,1578 1386.5,1580 1386.1,1582 1385.7,1584 1385.2,1586 1384.8,1588 1384.4,1590 1384.1,1592 1383.9,1594 1383.8,1596 1383.7,1598 1383.6,1600 1383.4,1602 1383.3,1604 1383.1,1606 1382.7,1608 1382.1,1610L1382.1,1610Z" fill="#d98b5f"/>
<line x1="1382.1" y1="1468" x2="1382.1" y2="1610" stroke="#4a4a4a" stroke-width="1.6"/>
<line x1="1382.1" y1="1505" x2="1382.1" y2="1597" stroke="#4a4a4a" stroke-width="4.2"/>
<circle cx="1382.1" cy="1570" r="1.5" fill="#8a8a8a"/>
<path d="M1427.2,1592L1427.2,1592 1423.4,1594 1419.2,1596 1413.4,1598 1409.7,1600 1413.4,1602 1419.2,1604 1423,1606 1426.2,1608L1427.2,1608Z" fill="#597dbf"/>
<path d="M1427.2,1468L1427.2,1468 1429,1470 1430.2,1472 1430.8,1474 1431.2,1476 1431.5,1478 1431.8,1480 1432.2,1482 1432.9,1484 1433.7,1486 1434.5,1488 1435.4,1490 1436.2,1492 1437.1,1494 1438.1,1496 1439,1498 1439.8,1500 1440.2,1502 1440.6,1504 1440.8,1506 1441.1,1508 1441.2,1510 1441.2,1512 1441,1514 1440.3,1516 1439.3,1518 1438.3,1520 1437.2,1522 1436.1,1524 1434.6,1526 1433.2,1528 1432,1530 1431.2,1532 1430.9,1534 1430.6,1536 1430.3,1538 1430,1540 1429.8,1542 1429.6,1544 1429.4,1546 1429.3,1548 1429.3,1550 1429.2,1552 1429.3,1554 1429.4,1556 1429.5,1558 1429.7,1560 1429.9,1562 1430.2,1564 1430.4,1566 1430.7,1568 1431,1570 1431.2,1572 1431.6,1574 1432,1576 1432.2,1578 1432,1580 1431.4,1582 1430.7,1584 1430.2,1586 1430,1588 1429.7,1590 1429.5,1592 1429.3,1594 1429.1,1596 1428.8,1598 1428.6,1600 1428.3,1602 1427.9,1604 1427.6,1606 1427.2,1608L1427.2,1608Z" fill="#d98b5f"/>
<line x1="1427.2" y1="1468" x2="1427.2" y2="1609" stroke="#4a4a4a" stroke-width="1.6"/>
<line x1="1427.2" y1="1514" x2="1427.2" y2="1600" stroke="#4a4a4a" stroke-width="4.2"/>
<circle cx="1427.2" cy="1584" r="1.5" fill="#8a8a8a"/>
<path d="M1472.4,1592L1472.4,1592 1470.3,1594 1468.4,1596 1466.5,1598 1465.4,1600 1466.9,1602 1469.4,1604 1471.4,1606L1472.4,1606Z" fill="#597dbf"/>
<path d="M1472.4,1325L1472.4,1325 1473.1,1327 1473.8,1329 1474.3,1331 1474.5,1333 1474.8,1335 1475,1337 1475.2,1339.1 1475.4,1341.1 1475.6,1343.1 1475.7,1345.1 1475.9,1347.1 1476,1349.1 1476.1,1351.1 1476.2,1353.1 1476.3,1355.1 1476.4,1357.1 1476.4,1359.1 1476.4,1361.1 1476.4,1363.1 1476.4,1365.1 1476.3,1367.2 1476.3,1369.2 1476.2,1371.2 1476.1,1373.2 1476,1375.2 1475.9,1377.2 1475.8,1379.2 1475.7,1381.2 1475.6,1383.2 1475.5,1385.2 1475.5,1387.2 1475.4,1389.2 1475.4,1391.2 1475.4,1393.2 1475.4,1395.3 1475.5,1397.3 1475.6,1399.3 1475.7,1401.3 1475.8,1403.3 1475.9,1405.3 1476,1407.3 1476.2,1409.3 1476.4,1411.3 1476.6,1413.3 1477.1,1415.3 1477.8,1417.3 1478.7,1419.3 1479.7,1421.3 1480.7,1423.4 1481.7,1425.4 1482.7,1427.4 1483.6,1429.4 1484.2,1431.4 1484.8,1433.4 1485.3,1435.4 1485.8,1437.4 1486.2,1439.4 1486.4,1441.4 1486.3,1443.4 1485.9,1445.4 1485.3,1447.4 1484.6,1449.4 1483.9,1451.5 1483.2,1453.5 1482.7,1455.5 1482.4,1457.5 1482.5,1459.5 1482.6,1461.5 1482.9,1463.5 1483.2,1465.5 1483.5,1467.5 1483.9,1469.5 1484.3,1471.5 1484.8,1473.5 1485.3,1475.5 1486,1477.6 1486.8,1479.6 1487.5,1481.6 1488.3,1483.6 1488.9,1485.6 1489.5,1487.6 1489.8,1489.6 1490,1491.6 1490,1493.6 1490,1495.6 1489.9,1497.6 1489.7,1499.6 1489.6,1501.6 1489.4,1503.6 1489.2,1505.7 1489,1507.7 1488.7,1509.7 1488.5,1511.7 1488.1,1513.7 1487.5,1515.7 1486.8,1517.7 1485.9,1519.7 1484.9,1521.7 1483.9,1523.7 1482.7,1525.7 1481.6,1527.7 1480.6,1529.7 1479.5,1531.7 1478.4,1533.8 1477.1,1535.8 1475.9,1537.8 1474.9,1539.8 1474.4,1541.8 1474.4,1543.8 1474.5,1545.8 1474.6,1547.8 1474.8,1549.8 1474.9,1551.8 1475.1,1553.8 1475.2,1555.8 1475.3,1557.8 1475.4,1559.8 1475.4,1561.9 1475.4,1563.9 1475.4,1565.9 1475.4,1567.9 1475.4,1569.9 1475.4,1571.9 1475.4,1573.9 1475.4,1575.9 1475.4,1577.9 1475.4,1579.9 1475.4,1581.9 1475.3,1583.9 1474.9,1585.9 1474.3,1587.9 1473.8,1590 1473.4,1592 1473.2,1594 1472.9,1596 1472.7,1598 1472.5,1600 1472.4,1602L1472.4,1602Z" fill="#d98b5f"/>
<line x1="1472.4" y1="1325" x2="1472.4" y2="1606" stroke="#4a4a4a" stroke-width="1.6"/>
<line x1="1472.4" y1="1445" x2="1472.4" y2="1584" stroke="#4a4a4a" stroke-width="4.2"/>
<circle cx="1472.4" cy="1501" r="1.5" fill="#8a8a8a"/>
<rect x="1224" y="1310.6" width="271" height="326.5" fill="none" stroke="#111" stroke-width="2.9"/>
<text x="1246.6" y="1680.7" font-size="32.4" text-anchor="middle" textLength="37.5" lengthAdjust="spacingAndGlyphs" fill="#111">10</text>
<text x="1291.8" y="1680.7" font-size="32.4" text-anchor="middle" textLength="37.5" lengthAdjust="spacingAndGlyphs" fill="#111">20</text>
<text x="1336.9" y="1680.7" font-size="32.4" text-anchor="middle" textLength="37.5" lengthAdjust="spacingAndGlyphs" fill="#111">30</text>
<text x="1382.1" y="1680.7" font-size="32.4" text-anchor="middle" textLength="37.5" lengthAdjust="spacingAndGlyphs" fill="#111">40</text>
<text x="1427.2" y="1680.7" font-size="32.4" text-anchor="middle" textLength="37.5" lengthAdjust="spacingAndGlyphs" fill="#111">50</text>
<text x="1472.4" y="1680.7" font-size="32.4" text-anchor="middle" textLength="37.5" lengthAdjust="spacingAndGlyphs" fill="#111">60</text>
<text x="1359.5" y="1720" font-size="36.2" text-anchor="middle" textLength="134.2" lengthAdjust="spacingAndGlyphs" fill="#111">Time (s)</text>
<text transform="translate(39.7,457.9) rotate(-90)" font-size="47.8" font-weight="bold" text-anchor="middle" textLength="678" lengthAdjust="spacingAndGlyphs" fill="#c44e52">Normalized HRV Features</text>
<text transform="translate(39.7,1295.1) rotate(-90)" font-size="47.8" font-weight="bold" text-anchor="middle" textLength="641" lengthAdjust="spacingAndGlyphs" fill="#8172b3">Normalized VG Features</text>
</svg>
</body></html>
